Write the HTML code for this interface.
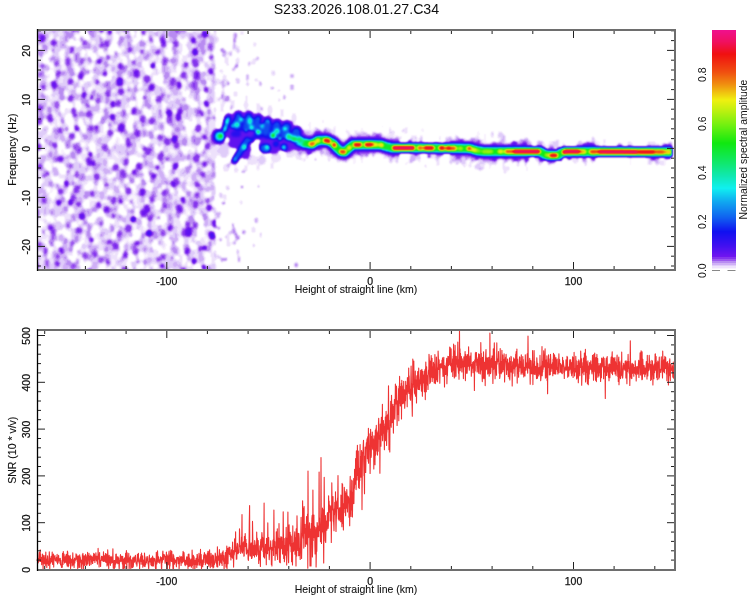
<!DOCTYPE html>
<html><head><meta charset="utf-8"><title>S233.2026.108.01.27.C34</title>
<style>html,body{margin:0;padding:0;background:#fff;width:750px;height:600px;overflow:hidden}</style>
</head><body>
<svg width="750" height="600" viewBox="0 0 750 600" style="display:block;font-family:'Liberation Sans',Arial,Helvetica,sans-serif">
<rect width="750" height="600" fill="#fff"/>
<defs>
<clipPath id="nc"><path d="M32 25H216.5V275H32z"/></clipPath>
<clipPath id="pc"><rect x="37" y="30" width="638" height="240"/></clipPath>
<filter id="cm" x="37" y="30" width="638" height="240" filterUnits="userSpaceOnUse" color-interpolation-filters="sRGB">
<feGaussianBlur stdDeviation="1.25"/>
<feComponentTransfer>
<feFuncR type="discrete" tableValues="1 1 1 1 1 1 1 1 1 1 1 1 1 1 1 1 1 1 1 1 1 1 1 1 1 1 1 1 1 1 1 1 1 1 1 1 1 1 1 1 1 0.973 0.973 0.973 0.973 0.973 0.973 0.973 0.973 0.973 0.973 0.973 0.973 0.973 0.973 0.933 0.933 0.933 0.933 0.933 0.933 0.933 0.933 0.933 0.933 0.878 0.878 0.878 0.878 0.878 0.878 0.878 0.812 0.812 0.812 0.812 0.812 0.812 0.722 0.722 0.722 0.722 0.722 0.722 0.722 0.612 0.612 0.612 0.612 0.612 0.612 0.518 0.518 0.518 0.518 0.518 0.518 0.438 0.431 0.424 0.416 0.409 0.401 0.393 0.385 0.377 0.368 0.36 0.351 0.342 0.333 0.324 0.314 0.305 0.295 0.285 0.275 0.265 0.254 0.245 0.237 0.228 0.219 0.21 0.201 0.192 0.183 0.173 0.164 0.154 0.144 0.134 0.123 0.113 0.102 0.092 0.081 0.07 0.063 0.063 0.063 0.063 0.063 0.063 0.063 0.063 0.063 0.063 0.063 0.063 0.063 0.063 0.063 0.063 0.063 0.063 0.063 0.063 0.063 0.063 0.063 0.063 0.063 0.063 0.063 0.063 0.063 0.063 0.063 0.063 0.063 0.063 0.063 0.063 0.063 0.063 0.063 0.063 0.063 0.063 0.063 0.063 0.063 0.063 0.063 0.063 0.063 0.063 0.063 0.063 0.063 0.063 0.063 0.063 0.063 0.063 0.063 0.063 0.063 0.063 0.063 0.063 0.063 0.063 0.063 0.063 0.088 0.127 0.167 0.207 0.248 0.289 0.331 0.372 0.415 0.457 0.499 0.542 0.585 0.628 0.672 0.716 0.76 0.8 0.84 0.881 0.921 0.941 0.941 0.941 0.941 0.941 0.941 0.941 0.941 0.941 0.941 0.941 0.941 0.941 0.941 0.941 0.941 0.941 0.941 0.941 0.941 0.941 0.941 0.941 0.941 0.941 0.941 0.941 0.941 0.941"/>
<feFuncG type="discrete" tableValues="1 1 1 1 1 1 1 1 1 1 1 1 1 1 1 1 1 1 1 1 1 1 1 1 1 1 1 1 1 1 1 1 1 1 1 1 1 1 1 1 1 0.949 0.949 0.949 0.949 0.949 0.949 0.949 0.949 0.949 0.949 0.949 0.949 0.949 0.949 0.886 0.886 0.886 0.886 0.886 0.886 0.886 0.886 0.886 0.886 0.8 0.8 0.8 0.8 0.8 0.8 0.8 0.69 0.69 0.69 0.69 0.69 0.69 0.549 0.549 0.549 0.549 0.549 0.549 0.549 0.345 0.345 0.345 0.345 0.345 0.345 0.204 0.204 0.204 0.204 0.204 0.204 0.086 0.085 0.084 0.083 0.082 0.081 0.08 0.079 0.078 0.077 0.076 0.075 0.074 0.073 0.072 0.071 0.069 0.068 0.067 0.066 0.064 0.063 0.063 0.063 0.063 0.063 0.063 0.063 0.063 0.063 0.063 0.063 0.063 0.063 0.063 0.063 0.063 0.063 0.063 0.063 0.063 0.07 0.089 0.109 0.128 0.148 0.168 0.188 0.209 0.23 0.251 0.273 0.295 0.317 0.339 0.362 0.383 0.401 0.42 0.438 0.457 0.476 0.496 0.515 0.535 0.555 0.575 0.596 0.617 0.638 0.659 0.685 0.712 0.738 0.765 0.792 0.82 0.847 0.875 0.904 0.933 0.939 0.935 0.932 0.928 0.924 0.921 0.917 0.913 0.91 0.91 0.91 0.91 0.91 0.91 0.91 0.91 0.91 0.91 0.91 0.91 0.91 0.91 0.91 0.91 0.91 0.91 0.91 0.91 0.912 0.915 0.919 0.922 0.925 0.929 0.932 0.936 0.939 0.941 0.941 0.941 0.941 0.941 0.941 0.941 0.941 0.941 0.941 0.941 0.941 0.912 0.857 0.801 0.744 0.687 0.63 0.572 0.521 0.472 0.422 0.371 0.321 0.284 0.25 0.215 0.18 0.145 0.109 0.073 0.063 0.063 0.063 0.063 0.063 0.063 0.063 0.063 0.063 0.063"/>
<feFuncB type="discrete" tableValues="1 1 1 1 1 1 1 1 1 1 1 1 1 1 1 1 1 1 1 1 1 1 1 1 1 1 1 1 1 1 1 1 1 1 1 1 1 1 1 1 1 0.996 0.996 0.996 0.996 0.996 0.996 0.996 0.996 0.996 0.996 0.996 0.996 0.996 0.996 0.988 0.988 0.988 0.988 0.988 0.988 0.988 0.988 0.988 0.988 0.98 0.98 0.98 0.98 0.98 0.98 0.98 0.965 0.965 0.965 0.965 0.965 0.965 0.949 0.949 0.949 0.949 0.949 0.949 0.949 0.941 0.941 0.941 0.941 0.941 0.941 0.933 0.933 0.933 0.933 0.933 0.933 0.941 0.941 0.941 0.941 0.941 0.941 0.941 0.941 0.941 0.941 0.941 0.941 0.941 0.941 0.941 0.941 0.941 0.941 0.941 0.941 0.941 0.941 0.941 0.941 0.941 0.941 0.941 0.941 0.941 0.941 0.941 0.941 0.941 0.941 0.941 0.941 0.941 0.941 0.941 0.941 0.941 0.941 0.941 0.941 0.941 0.941 0.941 0.941 0.941 0.941 0.941 0.941 0.941 0.941 0.941 0.941 0.941 0.941 0.941 0.941 0.941 0.941 0.941 0.941 0.941 0.941 0.941 0.941 0.941 0.941 0.941 0.941 0.941 0.941 0.941 0.941 0.941 0.941 0.941 0.941 0.941 0.922 0.893 0.865 0.836 0.807 0.777 0.748 0.717 0.687 0.656 0.624 0.592 0.559 0.527 0.494 0.46 0.428 0.397 0.366 0.335 0.304 0.272 0.24 0.208 0.175 0.142 0.109 0.075 0.063 0.063 0.063 0.063 0.063 0.063 0.063 0.063 0.063 0.063 0.063 0.063 0.063 0.063 0.063 0.063 0.063 0.063 0.063 0.063 0.063 0.063 0.063 0.063 0.063 0.063 0.063 0.063 0.063 0.063 0.063 0.063 0.063 0.063 0.063 0.063 0.063 0.063 0.063 0.063 0.11 0.178 0.245 0.313 0.38 0.422 0.465 0.508 0.549 0.549"/>
</feComponentTransfer>
<feConvolveMatrix order="3" kernelMatrix="1 2 1 2 8 2 1 2 1" divisor="20" edgeMode="duplicate" preserveAlpha="true"/>
</filter>
</defs>
<g clip-path="url(#pc)"><g filter="url(#cm)" fill="none" stroke-linecap="round"><rect x="27" y="20" width="658" height="260" fill="#000"/><g clip-path="url(#nc)"><g stroke="#333333"><path stroke-width="6" d="M204 270.5l2.3 5.5M188.8 141.3l1.1 3.8M217.8 103.8l.1 1.1"/><path stroke-width="5.5" d="M206.1 117.8l.2 3.2M120.3 156l-2.3 5.4M179.6 122l.3 4.9"/><path stroke-width="4" d="M90.8 41.7l-.3 3.2M142.4 193.3l-.8 5.5"/><path stroke-width="4.5" d="M73.2 65.1l1 4.3M42.7 69l.2 2.7M173.2 147.2l1.1 6.5"/></g><g stroke="#343434"><path stroke-width="6" d="M170.9 231.6l.7 3.5M67.8 246.8l-1.1 5.7M83.3 60.1l1.6 4.8M156 48l0 4.8"/><path stroke-width="5" d="M152.4 143.9l-.6 2.2M63.6 258.2l-.4 1.1"/><path stroke-width="5.5" d="M72.9 144.8l2.1 5.5M95.1 268.9l.8 3.9M33.4 225.7l0 4.2M110.9 232.1l-.6 3.9M146.5 249.5l-1.3 5.8M156.7 232.3l.3 3.9M166.5 108.5l1.6 5.7M106.4 103.9l0 1.7"/><path stroke-width="6.5" d="M141.2 176.4l.6 2.6M175.1 105.2l.1 1.2M204.6 26.3l.4 1.2"/><path stroke-width="4" d="M134.9 119.6l.6 2.7M219.5 55.6l-1.5 6.7M90.7 255.5l-.8 2.7M117.2 151.1l2.9 6.8"/><path stroke-width="3.5" d="M151.4 120.1l.4 3.4M190.7 38.8l1.8 7.9"/><path stroke-width="4.5" d="M173.6 45.6l.5 3.9M112 111.5l1.4 4.9M126.3 174.7l.1 2M132.8 241.1l.8 3M184.4 128.5l2.1 6.7M133.8 193.9l-.2 3.4"/></g><g stroke="#353535"><path stroke-width="6" d="M177 193.5l-.3 5.1M149.1 51.7l2 5.6M69.8 176.8l1 5.4M94.3 167.1l-.1 2.1M111.2 179.9l-.6 1.4M112.1 127.8l.3 4.2M63.2 126.4l-.4 1.3"/><path stroke-width="5" d="M36.1 155.5l.3 6.9M86 244.1l-.8 2.7M181 268.1l-1.3 4.8M114.9 259.9l.2 6.2M166.2 28.5l-.1 5.1M144.2 211.2l.8 4.4"/><path stroke-width="4" d="M114 187.2l-.1 6.5M49.3 75.1l-.2 2M127.5 239.5l.3 2.2M101.1 231.5l-1.3 7.4"/><path stroke-width="5.5" d="M115.9 147.9l-1.7 3.8M51.1 161.1l.4 1.9M157 154.6l-.8 2M94.3 111.3l-.2 1.5M97.9 109.6l.5 2.8"/><path stroke-width="4.5" d="M185.3 210.6l1.4 4.7M204 34.7l.3 2.8M59.5 108.5l.1 3.4M42.2 260.7l1.7 5.6"/><path stroke-width="6.5" d="M44.4 227.8l-.2 .6"/><path stroke-width="3.5" d="M194.1 185.9l1.3 8.1M141.8 122.2l-.6 5M99.3 126.2l-1.3 5.9"/></g><g stroke="#363636"><path stroke-width="5" d="M181.1 227l-.1 5.7M126.8 268.5l.4 5M103.4 172.4l-.7 4.4M47.1 25.4l-1.9 4.2"/><path stroke-width="6.5" d="M99 218.7l.1 1.8M117.1 165.7l0 .3"/><path stroke-width="6" d="M122.7 28.7l-.8 2.3M142.4 228.3l-.8 2.4M42.1 81.9l.2 1.6M206.9 89.8l-.2 1.2M164.6 244.4l-.6 3.2"/><path stroke-width="4.5" d="M197.6 249.3l.3 2.7M35 202.6l1.2 3.5M94.3 78.7l-2.2 5.7M164.1 192.3l-.3 3.6M207.6 97.3l-2.7 6.5M40.7 217.5l.7 2.6M56.6 153.6l1.4 3.8"/><path stroke-width="4" d="M78.7 144.4l.8 2.8M89.9 158.8l-3.1 6.8M168.1 198.5l-1.4 3.1M93 111.7l-.1 4.7"/><path stroke-width="5.5" d="M121 234.9l1.5 4.4M57.2 171.2l.9 2.1M97 234.6l1.4 3.4M173.1 245.1l.1 .7"/></g><g stroke="#373737"><path stroke-width="6.5" d="M94.1 136l.3 4M173.9 134.8l1.1 3.4M41.1 160.9l1.2 3.3M80.8 200.9l0 1.2"/><path stroke-width="4" d="M215.6 211.4l-.4 5.8M191.9 254.3l-.6 7.5M191.3 229.5l-.6 2.4M106.1 268.1l1.3 7M193.9 215.5l-1.6 4.1M88.4 93.9l.5 5.4M53.3 128.5l-1.2 5.9M137.1 103.7l-2.1 6.4"/><path stroke-width="6" d="M126.5 91.3l-.5 3.3M57.3 55.1l2.3 5.3M40.7 60.2l-1.2 3.2M117.6 139.1l-1 5"/><path stroke-width="5" d="M197.2 179.4l.4 3.9M76.9 125.3l1.7 4.8M159.1 176.5l1.6 6.3M42 55.3l-1.4 3.7"/><path stroke-width="4.5" d="M121.1 193.4l-1 3.4M166.4 43.6l.1 4.7M53 186.6l-1.5 4.7M67.6 97.1l1.7 5.2M121.5 60.1l.9 6.2M109 117.9l-1.7 3.9M149.8 61.9l.1 2.7M103.5 223.8l-1.2 2.6"/><path stroke-width="5.5" d="M99.3 171.7l2.4 5.5M81.3 97.3l-0 2.2"/><path stroke-width="3.5" d="M77.5 122.5l.9 5.7"/></g><g stroke="#383838"><path stroke-width="6.5" d="M97 86.5l-.4 1"/><path stroke-width="5" d="M202.5 238.1l2.2 6.4M160.6 161.5l-.3 1.1M154.5 191.7l-.6 3.9M169.4 254.6l.3 1.5M116 196.8l-1.6 4.5M112 184.8l-1.2 3.7M215.6 265l-.6 2"/><path stroke-width="4" d="M104.6 114.5l-.5 2.9M164.1 127.7l-1.4 6M131.1 65.7l1 2.6M102.5 131.9l.5 7.8M89.7 62.7l-.3 2.6M62.3 150.3l2.4 5.5M131.6 225.6l1.4 3.9M191.6 138.7l.8 5.5"/><path stroke-width="4.5" d="M49.8 222.6l1.1 4.4M186.3 56.3l-.3 7.4M134 266l-1.3 5.6M67.6 126.2l-1.4 6.2M163.2 62.9l.2 1.7M198.1 202.9l.1 1.5M152.8 129.4l-.1 4.7M72.8 48.4l1.4 4.6M152.5 73.1l-.6 3.1M85.7 100.4l2.6 6.5M53.7 260l.8 4M96.8 53.1l3 6.6M128.4 227.3l-.4 2.1"/><path stroke-width="5.5" d="M86.6 142.4l.2 4.1M39.4 172l.7 5.9M57.7 76.4l2.4 5.4M213.4 60.8l-.5 2.7M44.1 103.9l-.4 4.1M102.2 60.4l-1.5 5M68.4 227.7l-.3 2M46 108.6l.3 6M170 146l-1.8 6.1M35.9 264.3l1.2 5.9M173.5 94.5l.8 2.9"/><path stroke-width="6" d="M72.6 203.4l.2 2.1M126.4 256.2l-.1 3.7M75.2 83.4l-.3 3.3M48.6 45.3l.3 1.1"/><path stroke-width="3.5" d="M117.5 64.1l.6 8.1"/></g><g stroke="#393939"><path stroke-width="6.5" d="M137.1 244.5l.5 3.7M36 223.7l.9 2.9"/><path stroke-width="4" d="M140.1 201.6l-2.5 6M120.9 41.9l-.3 6M143.9 269.7l.8 3.8"/><path stroke-width="5.5" d="M210.7 270.2l0 1M80.7 213.1l.1 5.6M108.6 236.7l.5 1.1M127.2 184.8l.3 1.4M124.2 39.9l-.2 1.3M53.8 208l.4 2.4M215.7 30.9l-.1 1.2M159.9 165.6l-.9 3.5M96.3 185.9l-1.5 4.5M180.4 211.7l-.5 2.5"/><path stroke-width="5" d="M218.3 72.5l1.1 5.8M61.6 267.5l-.5 3.2M210.9 201l-.6 3.4M95.1 205l.3 1.3"/><path stroke-width="6" d="M81.6 154.2l1.4 4.1M180.6 182.6l.2 .6M199 125.1l1.2 3.8M154.6 235.9l-.4 1.9M183.6 156.1h0M159.4 194.2l-1.4 4.7M33.8 49.1l-.5 2.2M174.7 210.1l1.8 5.2M57.2 196.7l-.6 5.1"/><path stroke-width="4.5" d="M43.6 189l-.7 2M55.1 94.9l-2.5 5.8M45.6 136l1.2 5.5M123.6 72.6l-1.5 3.7M58.5 256.7l-.2 1.9M151 62.6l1.8 5.6"/><path stroke-width="3.5" d="M135.7 185.7l.7 5.6"/></g><g stroke="#3a3a3a"><path stroke-width="4.5" d="M200.5 60.2l-.5 2.3M33.6 181.7l-.6 1.6M142.1 130l-1.4 4.1M55.9 119.1l.5 7M208.5 157.3l-1.7 4M102.2 195.1l-1.8 3.9M197 41.9l1.8 6.1"/><path stroke-width="5" d="M71.2 24.1l.2 5.8M35.5 130.3l-1.4 5.2M194.1 68.2l1.1 2.9M207.7 31.1l1.5 3.3M168 103.7l1.4 3.7M204.2 249.5l-.7 3.3M161.3 263.9l2.6 5.7"/><path stroke-width="6" d="M158.7 269.4l-.3 3.3M95 27.8l-.7 4.7M84.1 156.3l1.9 5.2M101.3 142.4l.5 2.9M56.7 108.5l.5 5.8M139.4 26.7l-.4 1.2M122.7 128.9l-.9 4.6M108.4 234.5l-1.1 3.2"/><path stroke-width="3.5" d="M182.3 44.4l-.8 4.2M78.6 219.4l-.9 4M212.6 153l1.4 6.3"/><path stroke-width="5.5" d="M137.8 155.1l.1 .4M154.4 227.3l-1 3.1M128 243l.8 2.5M156 86.3l-.8 2.6M102.8 246.4l-.6 2M75.8 55.1l-1.3 3.9M162.6 156.8l.6 4.1M83.6 105.1l-1.7 4.4M197.8 114.4l0 5.7"/><path stroke-width="6.5" d="M170.1 172.2l1.5 4.2"/><path stroke-width="4" d="M217.9 182.7l-.2 7M93 78.4l.7 2.2M150.3 44.1l.7 5.2M153.1 110.3l-.3 5.6"/></g><g stroke="#3b3b3b"><path stroke-width="4.5" d="M114.7 86.8l-.4 1.3M66.6 190.7l-.7 2.2M107 157l-2.1 7.2M64.9 114l-.8 2.1M152.4 174.2l1.6 4.9M211.5 232.8l.7 2.6M68.9 47.3l1 2.6"/><path stroke-width="4" d="M211.1 36.9l-.9 3.3M49.9 83l-2.8 7M117.7 197l-1.6 5M64.1 200.7l-1.1 4M86.8 86.1l.7 7.3M128.2 74.5l-.2 3.9M153.8 219.7l1.2 6.8"/><path stroke-width="5" d="M114.5 156.7l1.5 5.5M86.8 234.7l-1 5.6M116.3 271.5l.7 1.9M124.6 134l-.5 4.5M87.6 210.3l0 2.2"/><path stroke-width="3.5" d="M73 70.3l1.5 5.1M92.7 170.8l-.9 5.1M55.4 246.1l-1.3 4.6"/><path stroke-width="5.5" d="M117.9 54.5l.5 3.6M213.2 83.5l-1.3 3.8M124.4 263.4l-0 .7M121.9 228.5l.1 2.3M104.7 187.5l0 .4M216.1 82.3l-1.1 4.5"/><path stroke-width="6" d="M149.2 242.4l.4 5.2M41 243.6l-.3 .6M91.1 202.6l.6 2.7"/><path stroke-width="6.5" d="M199 122.7l-.7 4.1"/></g><g stroke="#3c3c3c"><path stroke-width="6" d="M152.3 180.2l.8 2M174.7 70.7l.1 .6M99.9 101l-.1 .5"/><path stroke-width="5.5" d="M216.3 37l.7 2.2M35.7 191.8l-.2 1.3M38 165.8l.1 2.5M209.4 107.9l0 2.6M169.9 198.8l.2 1.6M154.2 212.6l-.1 .9M186.8 64.9l2.1 5.5M184.1 114.8l.2 .9M140.4 155l.3 .8M191 119.6l-.2 .7"/><path stroke-width="4" d="M167.9 136.6l1.1 6M163.4 237.1l-1.4 3.7M143.9 160.4l3.2 7.2M200.7 204.1l2 4.6"/><path stroke-width="5" d="M155.3 139.5l1.2 3M126.7 142.9l.7 5.8M201.6 79.5l.2 5.5M50.1 231.4l1.3 3.9M110.7 224.3l-.1 3.9M195.7 143.1l-1.6 3.5M48 194.4l.2 6.5M157 251.2l-2.3 5.1M179.1 85.3l.3 1.7"/><path stroke-width="4.5" d="M170.2 71.3l-1.1 2.9M177.7 235.1l-.1 5.6M53.9 69.2l.6 1.6M109.6 203.3l-.4 2.6M158.7 118.6l-.7 4.4M153.8 46.3l1.1 4.5"/><path stroke-width="3.5" d="M133 50.2l2.2 6.3"/><path stroke-width="9.5" d="M187.7 250.2l-.5 1.9M70.7 81.3l-.3 1M129.7 49.8h0M53.3 231.3l.1 1.5M106.8 42.8l0 1.8M98.2 100.5l-.1 .3M162.3 39.2l.5 1.9M134.1 110.3l-.3 1.8M39.6 120l-.5 2.2M178.5 115.4l-.2 2.8M128.4 143.2l.6 1.6M71 97.8l-.5 1.2M118.5 102.5l-.3 1.8M114.1 199.2l-.7 2.6M195.1 51.3l.2 1.5M176.4 180.3l.5 2.6M73.4 25.8l.5 2.3M164.8 205.9h0M195.3 224.7l-.3 1.5M107.7 93.4l.1 1M38.8 146.3l0 1.8M77.7 26.1l-.6 1.4M197 184.2l.1 .3M210.6 45.9l-.4 1.6M162.8 232.1l.3 1.8M180 110.7l-0 .8M126.2 160.8l-.6 2.5M80.9 74.8l-.2 2.3M160 137.2l0 .5"/><path stroke-width="10.5" d="M215 222.6l.6 2.2M185 231l-.5 2.7M115.7 167.2l-.1 .6M125 270l-.1 .5M81.9 216.2l.1 .2M136.3 72.5l.1 1.8M88.9 113.8l-.2 .5M169.9 118.3l-.3 2.3M152 120.7l-.2 .5M40.5 107.9l-.1 .3M104.7 147.1l.3 1.1M119.8 80.5l-.3 2.5M194.8 61.5l.9 2.6M60.6 158.8l-0 .2M33.2 129.6l0 .2M194.5 83.7l-.1 2.9M196.7 73.6l-.1 3.3M122.6 172.2l1 2.9M178.9 207.5l1 2.5M139.1 165.9l.2 1.1M121.5 126.6l-.1 1.9M173 80.5l-.6 2.8M146.7 207.7l.5 2.2M189.1 230.5l-.6 3.1M128.5 227.7l-.2 1.3M143 212.6l.6 1.4M159 99.1l-.2 .7"/><path stroke-width="10" d="M211.8 234.5l.3 1.9M94.5 253.1l.5 1.6M126.2 27.4l.3 1.9M88.8 160.2l.7 2.8M60.2 130.2l-.2 .8M207.7 145.8l-.1 .8M73.5 266l-.1 .8M79.3 149.5l-.5 1.4M85.1 255.1l.3 1.3M165.5 60.2l-.9 2.3M161.1 155.4l-.8 2.4M148.7 150.3l-.7 1.7M40 166.7h0M71.9 135.8l.2 .7M197.2 195l-.2 .5M34.6 211.5l.8 2.8M198.4 127.8l-.4 1.4M142.8 118.2l-.2 1.9M183.7 74.7l-.2 .6M176.2 144.1l.4 2M60.8 191.6l0 .1M53.8 83.7l.4 2M110.3 132.6l-0 .8M78.4 230.2l0 .1M195.8 158.5l.2 1M151.6 87.1l-.2 .8M169.3 112.9l.2 .6M204.7 33.6l.3 1.3M183.7 270.3l.4 .9M146.9 78.4l.3 1.6M77.1 188.1l-.8 2.3M149 233.2l.1 .3M53.7 42.7l-.1 .3M33.5 74.9l0 .1M35.2 264.2l.2 1.9M106.6 208.9l-0 1.3M121 91.2l0 1M42.5 37.2l-.2 2.4M136.1 250.6l-.5 1.5M44.2 200.2l0 .7M128.4 190.5l-0 .9M167 140.9l.1 1.6M96.8 176l.2 1.6M195.8 203.4l-.3 1.6M164.6 192.9l-.1 .4M142.6 191.1l-.3 2.2M68 60.6l-0 2.5M175.9 43.3l.1 .8M209.2 207.6l-.2 .6M49.4 117.2l.9 2.2M115.7 245.6l.1 1.2M137.2 132.5l.4 1.7"/><path stroke-width="8.5" d="M72.4 242.6l-.7 1.8M76.7 127.9l.4 1.1M193.2 39.4l.4 2M112.8 103.3l-.1 2.1M133.7 62.6l.2 .6M102 44.3l-.5 1.6M45.6 249.8l-.3 2.1M162.2 265.9l0 .1M43.2 86.9l.3 1M187.7 223.8l-.1 1.5M67.9 225.1l.1 1.2M97.2 81.6l.2 .9M134.2 171.7l-.4 .9M76.9 173.6l.1 2.1M200.6 248.2l-.3 .7M91.3 239.7l0 .5M66.4 182.4l.3 1.8M194.1 260.3l-.1 1.7M136.8 243.1l.2 .4M207.5 200.3l.1 1M206.1 102.9l.7 1.9M39.3 243.7l.4 1.2M91.5 127.4l-.3 2M157.4 167.3l.1 .5M34.6 51.7l-0 .9M109.8 31.4l-.2 1.3M203.2 174.1l-.3 1.1M157.4 52.1l-.3 .7M211.5 56.8l-.3 .7M182.7 199.1l.8 2M186 64.2l0 1.2M93.4 162.4l-0 1.9M42.4 65.9l.1 .5M176.6 30.7l0 .2M113.4 215.8l.1 .2M205.9 88.9l.3 1.4M58.7 202.4l.2 .7M92.6 192.9l-.4 1.9M107.6 261.1l.6 2M109.6 241.5l.1 .8M96.5 127.5h0M152.8 65.7l-.1 .3M108.2 57.1l-.2 .6"/><path stroke-width="9" d="M100.8 259l-.2 1.7M89.3 271.1l.4 1.1M172.9 183.4l.5 1.2M163.8 42.5l-.3 2.5M120.4 65.6l.1 1.5M209.7 121.9l-.3 2.4M57.3 263.4l.1 .7M149.8 218.4l.1 .3M158.6 259.2l.1 .3M99.2 61.5h0M58.6 72.6l-.5 1.8M56.8 103.7l.3 2.3M54.6 144.9l.3 1.4M199.3 111.2l0 .6M170.5 227l-.6 1.8M112.6 116.5l.1 1.5M154.1 175.8l-.2 .5M162.8 256.1l.4 1.7M50.8 227.4l.1 .7M178.9 84l.4 2.2M119.7 233.1l-.5 1.8M56.5 63l.2 1.3M70.9 201.6l-.4 1.5M204.6 163.8l-.1 .8M98.5 204.5l.2 1.3M35.9 215.1l-.3 1.4M125.4 254.3l-.1 1.7M71.9 48.8l-.4 2.2M204.5 137l.1 .2M151.8 198.2l.3 2.3M73.2 196.8l-.2 .9M175 138l-.7 1.7M141 273.3h0M84.3 94.3l-.6 1.6M133.4 219l-.1 .7M84.8 42.5l-.2 .7M210.5 70.5l.6 1.7M73.7 110.3l-.3 1.1M175.9 165.2l-.8 1.9M157.9 272.7l-.6 1.5M57.7 256.2l.2 .6M61 249.6l.7 1.9M78.7 203.9l-0 .7M104.7 73.7h0"/><path stroke-width="8" d="M71.2 165.8l-0 .4M204.4 247.4l.2 .9M106.4 184.7l-.1 .5M58.1 26.5l-.6 1.7M143.5 31.5l-.1 1.6M120.4 200.9l.3 1M87.8 106l0 .5M74.8 114l-.2 1.9M203.6 266.7l.5 1.3M44.1 175.4l-.1 .5M144.5 148.4l.3 .9M201.9 112.9l.2 1.5M142.1 51.4l-0 .6M82 60.3l-.4 2.1M167.2 158.4l-.1 .9M128 139.7l-.1 1.1M90.4 153.9l-.1 .7M151 39.6l.4 1.1M91.9 97.1l-.1 1M144.9 97.5l-.1 .3M162.7 95.1l-.7 1.7M47.6 173.4l-.2 .5M101.2 28.9l.4 1.8M74.5 146l.5 1.9M198.2 156.2l-0 .3M101.4 222.8l-.5 1.3"/></g><g stroke="#3d3d3d"><path stroke-width="5.5" d="M160.8 32.2l.8 5.8M77.5 116.8l-.1 .4M157.5 57.9l-1.2 3.5M197 30.1l-.6 3.2M175.9 52.4l1.4 4.8M100.7 222.4l0 6.4M97.3 143.2l-.4 5.4M163.6 65.1l0 1.8M120.7 264.6l-.2 .6"/><path stroke-width="5" d="M36.2 242.6l-1.8 5.8M81.4 140l-.2 1.3M54.9 252.3l-2.3 5.7M42.1 203.9l.7 6.3M219 53.7l.3 1M191.8 258.2l1.1 3.8M221.2 121.7l-1.1 3.5M120.9 185l.1 1M156.5 112l-1.1 3.9"/><path stroke-width="4" d="M194.3 85.8l1.7 8M57.6 82.4l-1.8 5.2M68.2 160l-1 3.6M86.6 52.6l-1 3.8M205.1 231.5l2.6 6.1M74.8 152.3l-1.4 3.4"/><path stroke-width="4.5" d="M65 124.1l-1 4.4M134.2 131.2l0 5.7M132.1 176.8l.6 4.2M136.8 167.6l-.8 2.5"/><path stroke-width="6" d="M188.5 268.8l-1.8 5.3M178.3 221.9l1.1 3.5M134.1 76.2l.5 4.7"/><path stroke-width="6.5" d="M179.9 172.5l.6 2.7"/><path stroke-width="3.5" d="M149.7 253.7l.4 3M191.8 266.4l.4 3.6"/></g><g stroke="#3e3e3e"><path stroke-width="5" d="M168.2 76l-1.3 4.7M107.1 38.8l.3 4.5M110.4 251l1.6 5.7M167.5 254.5l.2 2.7M66.5 109.2l.2 3.5M128.5 82.9l-.1 3.3M213.2 124.1l.2 6M72.6 243.6l-1.9 4.8"/><path stroke-width="4.5" d="M70.4 250.1l1.2 4.8M119.1 113.7l-1.2 7M141.6 244.4l-.1 5.8M93.7 202.1l.2 2.5"/><path stroke-width="5.5" d="M127.1 104.1l.2 2M90.8 35l1.2 4.4M84.5 26.9l1.2 2.9M125.9 206.1l-.6 1.3M133.1 216.9l1.4 5.6M151.2 272.5l.1 .6M205 160.4l1.1 5.8"/><path stroke-width="4" d="M88.8 213.4l-2.1 5.2M34.2 218.6l.1 2.2M183.5 56.2l-1 7.1M198.8 74l2.2 6M214.8 233.3l-.4 7.4M82 37.5l-1.6 3.7"/><path stroke-width="3.5" d="M138 162l.2 3.2M50.8 177.8l-1.5 6M82.5 115.1l2.4 6.8"/><path stroke-width="6" d="M212.7 255.1l1 3.5M139.6 197.6l-1.3 4.2M42.4 95.6l.2-0M190.4 96l.2 .6M189.8 207.1l.3 1.5M99.2 244.2l1.4 3.8M100.7 87.5l1.8 5M189.6 151.9l1.2 2.7M67 215.6l-.5 3.9"/><path stroke-width="6.5" d="M110.7 35.6l.4 1.9M186.2 175l-.1 2.8M157.2 107.1l1.2 5.5M147.6 155.5l-.6 4.8"/></g><g stroke="#3f3f3f"><path stroke-width="5.5" d="M167.4 179.2l-.3 1.1M124.7 128.2l-1.1 6.3M212.3 170.3l-.3 5.5M156.2 72.9l-.1 1.2M111.8 155.8l-.8 1.8M86.2 180l-.4 2.8M186 74.9l.1 1.7M193.2 131.7l1.8 5M147.1 78.6l-.1 5.2M171.8 31.6l.5 1.9M126 168.7l-1.1 2.8M214.2 42.2l.5 4.8"/><path stroke-width="4" d="M178.3 252.5l-.1 2.6M140.9 223.8l.6 3.4M195.6 53.4l-1 3.4M61.1 28.6l-2.5 7.5M63.9 201.7l2.5 5.6M65.5 27.7l-2.2 5.5M109.7 29.4l-.1 2.6M128 114.8l0 3.2"/><path stroke-width="5" d="M206.3 214.9l-.4 1.4M168.8 228.7l-.8 4.1M101.7 126l-0 4.5M55.4 54.3l-0 4M61.8 175.8l-.8 1.7M123.1 154.3l1.8 6M202 241.1l-1.1 5.6M105.3 82.8l-0 1.7M145.7 241.1l.4 1.3"/><path stroke-width="6.5" d="M147.8 89.5l2 5.1M69.9 62.9l.4 1.8"/><path stroke-width="6" d="M124.6 160.1l1.7 4.7M212.3 136.2l-.8 2.4M153.7 212.3l.4 4M184.1 31.8l1 3.1M46.3 178.6l.3 3.1M218 135.4l-.1 .9M124.8 67.9l1.3 3.9M52.6 119.5l-1.5 3.5"/><path stroke-width="4.5" d="M179.7 104.4l.1 3.7M109.4 106.8l.1 1.8M191.5 181.6l-.8 4.1M115.7 98.4l2 5.2M76.3 93.6l.2 3.7M98.1 62.5l1 4.1M73.2 195.5l-.6 2.6"/></g><g stroke="#404040"><path stroke-width="6" d="M157.9 211.4l-0 .2M88.6 167.5l-.4 1M125.4 118.8l-1.4 5.1M91.8 191l1.3 5.3M138.8 167.4l.5 3.7M168.2 211.5l-.1 2.9M117.5 220.3l-1.1 5M74.9 47.9l.3 1.1"/><path stroke-width="4.5" d="M168.6 153.7l.6 7.1M56.9 141.8l-.6 7.3M70.1 133.8l1.6 4.6M153.9 258.1l.2 5.3M210.7 46.8l-.7 2.6M181.1 256.6l-.7 7.6M203.2 194.4l-.7 6.8M193.5 79.5l.4 5.8"/><path stroke-width="5.5" d="M62.7 247.7l-.7 4.8M134 146.6l2.5 5.6M214.7 94.1l.3 2M51.9 264.6l1.1 4.2"/><path stroke-width="4" d="M98.3 38.6l.6 6.4M54.8 215.8l.2 4.2M95.1 90.7l1.6 4.2M106.8 31.1l-.2 4.7M111.8 64.6l-0 3.1M181.4 48.7l-.8 4.4M74 103.5l.3 3.2M150.9 169.5l2.4 7.1M186.3 263.3l-.3 3.2M146.6 262.3l-1.7 6.1"/><path stroke-width="5" d="M45.5 235.7l-.7 2.7M66.5 141.6l-.6 3.2M46.4 39.6l1.9 4.3M46.8 48.8l-.4 3.8"/><path stroke-width="3.5" d="M70.3 171l-.6 3.1M94.1 257.3l-.8 2.7"/><path stroke-width="6.5" d="M37.4 33.4l.2 1.1M191.7 111l-.3 3.5"/></g><g stroke="#414141"><path stroke-width="6.5" d="M105.1 256.8l.5 3.1M50.5 154.6l-.3 3.1M206.7 216.1l.8 4.2M47.1 178.9l-1.6 4.7"/><path stroke-width="5" d="M211.8 123.6l.6 4.9M61.1 66.5l-1.5 3.5M192.5 154.6l-2 6.5M62.6 187.1l.9 4.5M172.9 219.7l-.1 4M151.3 103.6l1.9 5.5M142.8 68.6l.8 4.8M186.1 220.6l-.4 1.5"/><path stroke-width="4.5" d="M134.9 134l-0 4.8M192.4 220.1l2.6 6.2M35 122l1.3 3.2M66 253.8l.8 6M68.7 89l0 3M208.9 204.9l1.7 5M67.6 266.6l.3 2.7M205.4 180.5l.4 4.4M143.3 82.4l1.4 4.1M160.7 241.7l.7 3M217.9 256.7l-.8 2.6M212 244.5l-1.1 2.9M40.3 237.6l-1.8 4.5M64.2 237.3l-1.8 5"/><path stroke-width="6" d="M104.6 205l-.6 4.2M43 130.6l-1.2 5.3M37.8 90.4l.5 3M40.9 121.4l.3 1.5M121.6 145.7l.4 1.8M178.6 147.8l.5 1.4"/><path stroke-width="4" d="M212.9 262l-2 5.8"/><path stroke-width="3.5" d="M45.6 144.9l0 5.4M148.2 95l1.4 4.6"/><path stroke-width="5.5" d="M98.4 123.7l-1.4 5.3M60.1 95l-1.4 3.6M89.9 30l.7 3.1M205.8 63.3l.6 3M156.1 69l1 4.6M50.9 147.4l-.2 1.1M82.5 186.4l.1 4.1"/></g><g stroke="#424242"><path stroke-width="5" d="M102.1 68.4l1 5M33.2 27l1.6 5.8M150.2 27.3l2.7 5.9M43.4 264.8l-.3 5M194.1 251.5l.2 2.6M176.7 236.7l-.5 1.5M202.8 262.5l.2 1.7M92.7 248.7l1.2 2.6M100.3 159.1l-.3 1.8"/><path stroke-width="5.5" d="M137.9 44.8l-.3 5.8M211 113.8l-.4 6.1M201.1 174.4l.8 5M206.7 152.3l-.7 4.3M51.4 233.6l-.8 5.8M39.8 199l0 5.8M47.3 96.6l.7 3.7M78.6 177.8l1.7 3.7M208.2 171.5l-1.6 4.9M85.1 84.1l-0 3M176 81l.2 2.2M82.3 229.9l-.9 2.7"/><path stroke-width="4.5" d="M182.7 136.1l-.7 6.9M118.7 88.3l-1.8 5.1M186.9 83.1l1.1 5M76.5 155.6l.1 5.4M102.6 152l.2 3.3M72.8 269.5l.1 4M149.9 201.4l1 2.9M110.1 90.2l1 6.5"/><path stroke-width="4" d="M182.8 99.8l-1.7 6.6M206.5 146.7l.3 3M135.8 30.4l-.5 6.8M97.3 251.1l-2.9 7.2M143.9 47.7l1.2 5.1M117.4 251.3l-1.4 5.8M85.7 270.9l-.4 2.6"/><path stroke-width="3.5" d="M151.5 131.5l-0 7.5M207.6 75.3l1.8 4.1"/><path stroke-width="6" d="M49.2 181.6l-.8 3.7M215.9 210.4l.1 .4M174.4 117.3l.6 2M73.4 235.8l-.6 4.8M218.3 173.6l-.1 .8M180.1 92.9l-.2 1.7M162 180.3l1.2 2.6M185.8 168l-1.9 4.6M59 158.1l1.6 3.7M96.7 193.8l-1.1 3M192.5 211.7l.2 .8M165.4 149.4l.1 .6M198.9 57.7l-.3 2.3M73.7 31l-.8 2.4M175.4 188.2l.6 2.5M147.9 53.7l1 2.3M116.1 53l.7 2.4M33.5 236.6l.7 1.5M50.2 58.5l.8 2M209 100.4l-.1 .8M114.6 179l-.1 1.8M129.1 175.6l.4 .9M50.7 115l.1 .5M176.4 239l.3 .8M123.9 29.6l.1 .6M78.1 30.1l0 2M97.1 192.3l-.2 .8M144.4 147.5l-.1 .6M114.8 121.9l.1 .8M136 59.2l-1 2.2M156.2 123.1l-.3 .9M43.4 184.3l.2 .5M136.4 121.9l0 .4M91.1 156.5l-.7 2.4M109.9 124l0 1.9M78.3 266.7l.6 2.5M75 85.6l-0 2.3M36.6 97.4l-.2 1.2M176 201.5l-.5 1.8M218.3 224.7l-.4 1.4M121.3 132.1l.2 1M59.7 113.8l.3 1.4M137.5 166.4l-0 2.2M68.4 62.7l-.7 2.3M178.7 133.7l-.1 2.5M180.2 265.4l-.1 2.6M145.9 213.4l.8 1.9M87.6 148.6l-.3 .6M46.1 140.2l-.1 .8M164 57.7l-.8 2.4M173.1 171l.5 1.8M112.9 249.4l0 .9M198.2 242.5l-.5 1.1M83.4 87.9l.2 2M133.4 79.7l.2 2.7M89.5 192.7l-.5 1.6M156.4 33.7l.4 1.1M207.1 144.2l.3 2M145.9 90.6l.1 2.2M118.5 113.1l-.9 2.2M144.8 207.6l.2 .5M209.7 242.9l.6 1.7M44.9 170.4l.5 2M168.9 95.6l-.4 2M115.8 93.7l.1 2.4M97.2 60.9l-.9 2.3M168.5 67.9l.3 1.9M211.5 57.9l.3 1.3M104.9 145.1l.1 1.9M140 111.4l.2 1.4M203.1 258.1l-.3 1.9M105.5 48.2l.8 1.8M51 142l-.5 2M122 201l-.2 1.7M118.3 261.8l.2 1.2M122.1 160l0 1.1M131.1 40.1l.2 .7M181.3 75.3l-.5 1.3M44.3 191.1l.6 2.4M158.7 217.5l0 .6M40.1 247.4l-.6 2.4M49.5 143.2l.8 1.7M56.2 151.5l-.1 2.3M129.2 43l.2 2M66.2 164.2l.4 1.6M123.9 80.9l-.5 2.2M80.1 185.1l.7 2.1M100.9 38.6l-.1 1.9M143 192.2l-.5 2.5"/><path stroke-width="6.5" d="M142.9 33.8l.1 .3M207.3 139.5l-.2 .4M61.8 137.3l.3 1.8M170 122.4l-.3 1.3M201.3 273.1l-.2 .9M88.3 83.3l.7 2M154.5 115.8l.8 2.3M165.1 75.9l.5 1.6M120 272.2l.1 .7M130.3 233.8l.5 1.4M45 213.8l.1 .4M167.2 189.8l.6 2M202.1 201.1l-.4 2.4M158.3 99.1l-.6 2.6M38.3 265.9l.4 .8M111.9 185.2l.2 .6M132.6 69.7l.2 .6M68.2 171.7l-.2 .9M125.2 185.7l.7 2.2M79.2 63.3l.5 1.6M144.9 84.3l.4 1M110.5 39.7l-.2 1.1M204 73.3l-.7 2.3M196.9 114.3l.3 1.2M118.4 128.9l-.4 1.3M39.1 245l-.1 .8M188.3 44.6l.9 2.6M138.3 261l-.3 1.2M164.5 28.2l-.2 2M173.4 240.9l.1 2.8M57.3 185.2l.8 2.6M162.1 152l-.1 .7M83.6 59.2l0 1M172.1 257.7l.1 .4M83.6 246l-0 .9M122.3 258.3l-.3 1.7M149.9 78.6l.4 1M109.8 28.5l-.5 1.4M101.9 234.1l-.4 1.8M34 141.7l.3 2.2M72.9 192.8l-.4 1.3M194.5 232.4l.8 2.5M159 262.2l.8 2.5M150.2 37.5l0 .5M171 237.9l-.1 .4M165.6 80.6l-.8 1.8M181.1 105.5l.4 1.1M203.8 175.9l.1 1M83.2 210.6l-.2 2.2M175.5 228.2l-.4 .9M144.4 77.5l.4 .8M66 239.8l-.8 2.9M109.2 197.1l-.6 1.8M206.2 64.5l.4 .9M134.9 270.3l.3 .9M124.5 219.1l-.6 1.5M183.9 99.1l.1 1M37.3 140l.3 1.5M151.1 249.3l.7 1.9M215.7 240.8l1.1 2.7M159.9 226.6l-.7 3M159.9 185.2l-.3 1M106.8 137.8l.4 2.7M55.2 209.4l.1 .9M185 245.6l0 2.7M199.3 25.8l-.4 1.6M185 139.3l-.1 .6M186.2 76.7l-.1 2.4M111.9 226.9l.7 2.4M144.9 261.2l.2 1.7M92.4 209.4l0 .5M131.1 201.3l0 .8M192 91.2l.1 1.3M201.6 59.1l-.1 .6M139.8 64.1l-.2 1.3M81.9 100l.8 2.1M130.1 227.7l.2 .5M67.6 156.8l-.3 1.6M70.3 168.4l-1 2.3M99.1 154.7l-1.1 2.5M205.5 224.7l.2 .5M162.3 209.1l.1 2.4M36 175.7l.7 2.7M94.9 68.7l-.3 2.5M65.5 185.3l.6 2.4M212.6 197l-.3 2.4M149.3 98.8l-.2 .6M102.8 259.2l-0 .4M40.2 50.9l.2 2.3M143.5 123.4l-.7 2.2M129 210.6l-.1 .7M53.1 49.7l.4 1.1M115.5 208.1l-.4 1.2M41.7 83.1l-.7 2.3M193.5 226.5l-.6 1.6M57.6 76.7l-.8 2.6M216.9 236.8l-.2 1.5M151.5 268.8l-.3 2.2M91.4 249.4l.3 2.1M64.9 87l.2 1.4M93.8 265.5l-1.2 2.6M111.7 230.2l0 .5M75.7 113.2l.6 1.6M70.4 269.9l.2 .9M154 63l-.3 .9M149.2 224.5l.2 1.6M187.7 233.4l.5 2.6M161.5 160.4l1 2.3M190.5 204.1l-.2 1.1M175.7 233.6l.4 3M72.8 182.9l-.2 1.1M213.8 65.5l.7 2.3M210.6 175.7l.9 2.1M148.9 90l-0 1.2M149.6 105.6l-.6 2.2M36.7 216l-.5 2M134.3 26.8l.7 1.8M77.5 261.9l0 .9M43.3 230.9l.2 1.8M56.9 109.3l-.4 1.7M81.5 38.4l.3 1.2M128.6 98.9l-.4 1.3M150.7 239.1l.4 2.3M185.3 66.7l.1 .4M107.4 58l-.2 1.1M119.1 43l.7 2M160.1 110.5l-.3 1.6M105.2 70.3l.4 2.3M153.2 84.3l.6 1.8M60.7 225.5l.2 1.6M77.7 115.6l0 1.2M214.1 75l-.1 .7M35.2 223.4l-.6 1.9M48.4 267.9l.3 2.8M170 158.9l-.1 .5M132.8 217.7l-.8 2.2M114.2 85.3l-.8 1.7"/><path stroke-width="7" d="M89 225.4l.3 3.2M130 72.7l.7 2.8M69.9 50.4l-.4 1.5M166.4 181.9l.7 1.6M35.4 168.5l-.4 1.4M100.9 218.8l.7 2M89.5 177.8l-.1 .6M160.6 115.1l0 1.7M173.9 48.2l-.2 1M118.2 30.4l-.1 1.4M96.2 27.3l-.4 3.2M128.2 138.2l-.3 3M172.9 59.7l-.2 1.9M173.6 134.4l.6 2.1M122 178.8l-.3 2.8M180.4 209l0 .5M170.4 140.5l-.8 2.3M107.3 242.2l.1 1.1M49.1 108.6l.5 2.6M86.6 168.6l-.2 1.4M34.2 128.3l-.2 2.7M190.3 165.8l.4 1.4M77.4 84l-.1 1.1M74.7 197.9l.8 2.7M209 111.4l-0 1.2M187.2 246.2l-1.1 3.2M62.2 119.6l.6 2.5M90.1 246l-.1 1M175.2 35.5l-0 2.7M45.8 253.9l-.5 1.8M101.5 58.3l.1 1.5M133.3 150.6l-1.1 2.3M33.5 150.7l0 2.2M163.8 179l-.8 3.2M172.2 38.4l-1 2.4M53.2 57.6l-.4 1.1M100.3 96.2l.1 2.1M82.8 175l1.2 2.9M160.6 233.5l-0 .9M183.7 127.8l-.2 .7M200 253.4l.6 1.9M84.5 135.8l.9 2.5M123.1 121.4l.9 3M161.3 89.1l-.2 1.2M126.2 250.2l-.4 2M80.4 198.5l.9 2.2M208.5 267.5l1.1 2.6M54 88.9l.3 .8M134.2 143.7l.2 2.6M127.7 153.3l.4 1.1M69.1 139.9l-.6 2.9M121.1 227.9l-.3 3.3M207.2 32.3l-.1 1.5M93.9 91.5l-.7 2M126 245.8l-0 1.7M141.5 174.3l.2 .7M49.3 225.5l-.1 2.2M87.9 71.7l-.3 .8M97.9 94.9l-.4 .9M129.1 89.3l-.1 .8M35.5 162l.1 1.3M69.7 222l-.9 2.3M66.6 128.7l-.3 .7M199.8 36l.2 1M216.6 109.2l.9 2.6M151.1 144.8l1.2 3M38.5 256.7l.2 1.8M199.1 126.3l-.2 3M77.3 231.9l-.4 1M107.8 99.3l-1 2.8M164.9 255.7l-.3 .7M139.7 221.8l.2 .9M147 122.2l.3 1.5M215.6 209.6l.8 3M197.2 194.9l.9 3.1M89.1 127.4l-.7 2.4M69.4 164.3l-.7 2.6M89.1 58.9l.9 2.4M204.2 151.7l-.9 2.4M103.3 84.8l.3 .9M149.6 259.5l.4 .9M191.7 53.2l1 3.2M172.2 85.3l-1.1 2.9M70.2 33.9l.3 2.9M63.1 44.2l.4 1.7M143.1 198.4l-.6 2.4M84.5 46.1l-.5 1.4M44.7 83.8l-.5 2.5M188.9 256.3l-0 2.5M143.6 234.7l-1.1 2.5M75.8 118.7l.3 1.6M103.4 240.7l.1 1.1M135.4 88.3l.1 2.6M193.8 87.6l.3 .7M41.5 53.3l-.8 1.7M75.9 126.2l.8 3.2M160.4 241.6l-.4 1.6M138.7 193.6l.2 .8M119.6 151.8l.3 .8M79 251.9l.4 1.3M216.8 130.6l-.6 3.1M183 172.9l-0 1.2M147 102l-1 2.6M194.8 205l.9 2.1M179.3 140.9l.3 1.6M66.6 54.9l.4 3.1M212.3 187l-0 .9M61.2 236.3l-.1 3M99 164l-.3 1.5M44.9 103.3l-.3 2.6M55.7 42.1l-.5 3.1M116.8 166.2l.1 .5M107.3 213l1 2.5"/><path stroke-width="7.5" d="M133.5 96.4l.2 2.1M207.7 177.9l-.9 3.3M42 72.3l-.1 2.5M202.5 49.1l.9 3.2M211.3 46.8l.1 2.8M217.1 252.5l.5 3.4M177.8 213.8l-0 2.2M40.1 73.7l.1 1.9M200.5 257.3l-.5 3.4M175.8 262.8l-.1 1.9M64.1 72.8l-.6 1.2M91.1 116.1l-.3 1.3M198.9 170.2l1.3 3.3M210.3 90l-.5 2.5M113.8 67.6l-.7 2.6M32.9 88.4l.6 3.6M140.6 241.9l.1 .8M51.5 211.3l.7 2.4M112.6 271.9l-.6 2.5M152.4 207.3l-.3 .9M150.5 172.8l.9 2.2M109.3 88.5l-.5 2.5M67.7 143.8l.1 2.8M154.3 233.1l1.4 3.5M143.8 43.2l.2 1.6M211.1 98.8l.6 2.3M42.7 25.5l1.2 3.3M193.3 176.5l1.1 2.7M132.2 47.7l.8 3.7M183.7 29.7l.3 1M106.7 248.4l-.4 1.9M147.1 27.7l.3 1.1M168.6 109.4l-.9 2.3M118 101.8l.1 2.9M46.8 67l.5 1.9M53.6 104l.3 1.3M61.7 89.7l-.3 3.3M40.8 189.1l-1 2.9M103.5 118.5l-.9 3.4M214.1 145.5l.4 2.2M214.2 118.1l.4 3.2M153.2 193.7l1.1 2.5M66 37.3l.2 3.2M50.9 241.6l.8 2.5M173 124.4l.1 .9M192.3 272.9l.3 1M50.5 153.2l.3 3M35.6 63.2l.5 1.2M42.7 95.5l.5 1.7M189 192.8l-.5 1.9M152.2 151.4l.8 3.3M206.8 130.1l-.1 2.4M186 106.1l-.4 2.3M58.8 86.4l-.1 1M198.3 43.8l-.5 2.9M65.5 266l-.6 3.2M78 128.7l.1 .5M119.8 216.8l-.2 1.2M95.2 263.9l.9 3M208.5 248l.2 1.8M191.4 199l-.8 2.3M163.1 35.2l-.2 2.3M171.9 103.4l1.1 3.2M144.5 155.5l.1 1.2M113.6 242l-.2 3.4M105.7 63l.7 2.2M138.1 73.1l-.4 3.1M167.7 74l-.4 2.1M201.7 210.9l0 1.1M140.8 271.7l1 2.7M95.8 181.6l-0 1.2M216.7 30.5l1.1 3.1M175.6 50.4l-.4 3.1M100.2 139.7l-.6 3.1M204.5 215.1l.9 3.5M132.4 211.2l-0 .7M125 131l1 2.5M37.8 105l.4 2.4M166.5 270.6l.2 .8M120.5 196.7l-.4 3.7M138.8 220.3l.2 1.9M85.1 222.1l-.2 .6M175.2 81.4l-.1 1.4M184.5 183.3l-1.5 3.3M35.4 113l-.5 3.4M57.1 59.7l.3 3.5M143.3 181.6l.9 2.3M213.6 80.3l.5 3M188.8 156.5l-0 1.4M45.4 208l-.3 3.8M111.3 209.7l.1 .5M38.1 210.9l-.3 2.1M64.8 256.8l.2 1.6M73.3 215.9l.6 3.5M70.6 249.2l0 .6M106.3 113.8l1.2 3.2M172.6 247.9l.1 2.1M197.8 161.3l.8 1.8M215.5 266.2l-.4 2M80.6 212.2l0 1.1M62.6 198.8l.4 1.4M105 179l.1 2.2M65 246.2l.3 3.7M175.8 61.9l-1 2.6M187.8 223.2l0 3M109 151.2l.1 2.4M105.6 170.2l.7 1.9"/><path stroke-width="8" d="M150.5 133.2l.9 3.5M161.4 124.8l-.1 3.1M115.2 147l-.3 1.1M87.9 211.3l1 2.7M79.9 165.6l.1 1.5M191.2 35.2l-.3 3.8M47 261.3l.2 4.1M123.5 268.7l-0 1.3M98.7 140.2l-.5 1.7M213.2 163.9l.8 3.5M53.2 236.3l.2 1.9M83 70.2l-.5 3.5M50.7 183.1l.3 1.4M177.7 128.9l-0 .8M211.2 138.8l.4 3.5M73 91.7l.3 2.8M153.5 49.1l-1 3.6M123.8 112.1l-.1 3.1M41.4 114.5l1 2.3M211.2 37.6l1 3.3M121.3 174.4l.1 3.9M187.2 113.7l-.3 2.8M65.8 31.2l.9 2.3M81.5 113.4l.6 1.3M55.1 169.8l.7 3.9M91.8 28.3l-1.4 3.6M78.4 150.1l-.3 1.3M160.8 172.6l1.6 3.6M95.5 208.2l-.1 1.6M37.3 197.3l.4 2.2M44.6 196.3l-1.6 3.6M104.8 160.9l.2 3.1M190.4 84.9l-0 .8M131.8 180l.2 1M67.8 177l-.1 .7M199.4 77.1l1.1 3M45.7 128.8l-.9 2.4M89.4 133.3l0 4M195.7 62.8l-.3 1.6M89.6 256.7l.1 1.3M55.5 158.3l-.1 1.7M180.9 122.1l-.5 1.4M92.9 34.2l.1 1.8M54.8 252.9l-.5 3.3M119 72.9l.5 1M95.3 247.5l-.4 .9M196.1 154.9l.3 3.8M98.6 70.8l-.7 2.7M119.3 235.9l0 3.3M155 189.1l-.4 2.1M165.2 268.4l.6 2.7M126.5 149.2l-.3 1.1M170 156.6l.8 2.9M176.4 89.2l-1 3.6M133.1 247.3l-.1 .6M144.3 131.7l.1 3M177.3 29l1.1 3.1M62.3 97.4l-.2 .7M141.4 43.2l.2 .8M150.8 163.4l.8 3.5M98.7 219.6l-1.1 3M81.6 177.8l-.2 .9M88.2 232.4l.8 3.5M144.9 248.8l-0 .9M184.6 140.5l-.1 3M95 47.2l.2 3.3M53.6 226l-1.5 3.3M164.3 199.9l.6 3.5M213.9 173.3l1.1 2.4M76.6 237.3l-.2 3.4M42.7 157.4l-.3 3.6M46.9 35.1l-.6 1.7M187.7 168.9l0 2.1M152.9 176.9l-.6 3.5M132.1 135.3l1.1 3.1M56.4 262.1l.5 1.6M91.8 108.4l-.4 1.3M56.2 134.1l-.2 2.7M207.5 189.1l-.2 .5M72.6 153.8l.9 2.9M175.8 59.9l-.2 1.7M163.2 137l1.2 2.8M159.2 51l-.3 .7M77.1 96.1l-.5 1.5M42.7 245.3l.1 1.4M121.6 38.4l-.2 1.8M116.1 188.2l.9 3M68.5 262.1l-0 1.1M39.3 41.4l.4 1.2M175 182l.2 3.2M124.7 67.6l-1.2 2.6M69.5 65.3l-.7 2.8M44.7 46.7l.7 1.6M151.7 214.4l.1 1.7M86.4 193.4l-.3 3.2M145.8 162l.2 2.1M91.9 158l-1.1 3M203.6 41.6l-1.5 3.7M135.2 125.3l.2 2.9M180 153l1.5 3.4M193.7 137.8l.4 3.7M196.6 110.3l.7 1.5M56.7 200.6l-.8 2.5M105.6 110.6l.4 1.2M65.7 208.7l0 1M213.9 153.8l0 .6M52.4 28.2l1.1 2.5M164.4 67.4l-.2 3.9M56.8 264.9l-1.4 3.3M196.8 96.1l-.1 2.7M169.3 195.3l.5 2.4M178 101.2l-.3 .8M85.9 101.4l1.1 3M190.8 218l1.5 3.2M70.6 69.9l1.7 3.9M101.7 193.6l.5 3.6M124.7 231.2l-.1 3.7M128.2 35.8l.4 1.9M133.9 245.6l.6 2.6M199.8 186.6l1.1 2.3"/><path stroke-width="8.5" d="M96.3 166.8l-.9 2.1M97.2 107.1l-.5 1.8M125 52.7l-.2 .5M55.5 130.1l.3 2.1M169.9 216.5l.2 1.5M170.3 220l.1 2.7M77.4 145.1l.3 1M80.3 230.6l-.3 .8M146.2 57.2l-.3 .7M76.9 55.6l-.1 4.1M174.9 248.8l.5 3.1M87.6 44.4l.9 2.2M76.2 204.9l-.2 2.6M169.9 204.9l-.5 1.9M106.7 256.6l0 2.5M208.5 119l.8 4M208.8 160.9l-.2 .5M197.6 90.2l-.4 1.4M177 158.5l.1 1.2M61.3 212.4l-.3 .7M38.6 33.4l-.8 2.9M198.6 139.6l-1.3 3.5M208.6 232.3l.3 .7M72.1 135.5l-.9 2.3M107.8 83.4l-.8 2.3M96.8 130.4l-.2 1.1M135.5 109.1l1.7 4M171.5 31.7l-.6 3.1M203.8 81.9l.1 .8M136.1 171.5l.6 3.2"/></g><g stroke="#434343"><path stroke-width="4.5" d="M133.4 111.7l.5 3.2M87.5 151.5l.1 1.9M53.2 54.9l.5 5.1M128.2 28.2l-.3 4.7M63.8 136.9l1.4 4.3M197.1 165.2l.7 4.2M80.6 234.3l-.5 5.8"/><path stroke-width="6" d="M64.8 79.6l-.3 5.7M49.9 137l.1 4.7M56.1 238.1l-.1 1.3M124.1 96.7l.5 5.6M34 86.4h0M202.4 50.7l.4 4.1M102.8 163.9l-1 4.7M105.4 210.8l1.6 3.6M125.6 218l.9 5M76.5 162.9l-1.2 5.9M98.9 36.8l-2 4.6"/><path stroke-width="5" d="M201.6 167.6l-.2 6M39.9 97.6l-1.4 4.9M61.9 259.6l1.6 4.1M190.9 50.1l-2.3 5.8M88.5 135.5l.6 6.4M199.2 97.3l-.6 3.5M36.4 67.3l-1.2 2.9M179.8 77.6l.4 .9M104.3 95.5l-1.9 5.9M50.7 27.5l-.4 3.2M109.7 96.5l-.3 6.7"/><path stroke-width="4" d="M52.6 167.4l1.2 4.2M196.6 63.6l.7 2.2M86.6 258l-1.6 3.5M38.2 72.6l-.4 4M181.7 169.4l1.1 5.7M182 199.3l1.9 4.1"/><path stroke-width="5.5" d="M82.8 92.7l-.2 1.2M124.7 42.9l2.3 5.7M193.4 238.3l-.3 3M57.1 53.6l-1.3 4.8M108.9 260.6l-.9 4.9M177.8 248.7l.5 2.9M148.2 206.3l-0 3M194.4 109.1l.5 2.7M213.3 235.9l.2 4M141.1 110.4l1 3.2"/><path stroke-width="3.5" d="M110.7 122.7l1.2 3.7M186.3 86l-1.1 4.7"/><path stroke-width="6.5" d="M83.5 169.2l-1 2.3M93.1 269.2l.5 1.1M116.8 207.3l-0 .3M91.2 224.7l-.3 2.5"/></g><g stroke="#444444"><path stroke-width="4.5" d="M164.6 145.3l1.3 4.7M200 113.2l-.2 4.5M125.7 194.7l.1 4.9M45.4 219.9l-.1 2.2M171 170.6l.7 3.5M137.4 256.6l-.7 2.2M141.8 40.2l2.4 5.2M200.6 133.8l1.6 4M141.8 88.5l-.7 1.7M44.2 252.4l1.1 6.6"/><path stroke-width="6" d="M141.7 145.6l.5 1.2M81 226.3l.3 .7M156 127.8l.1 .9M49.2 114l0 .6M166.5 224.8l.8 1.9M158.3 88.1l-2.2 5.4M105.6 45.2l.6 4.1M34.8 154.2l-2.3 5.4M166.7 263.6h0M200.9 194.6l-.4 1.6M73.5 229.9l-.8 4.2"/><path stroke-width="5" d="M208.3 97.8l-.7 2.9M36.1 142.8l.9 3.2M120.6 100.5l2.2 6.4M84 119.7l1.6 4.6M201.8 43.1l-1.4 4.2"/><path stroke-width="3.5" d="M87.6 69.6l.6 3"/><path stroke-width="4" d="M194.2 32.2l1.7 5.4M187.7 240.1l-.2 6.3M117.4 243l1.9 7.2M158.6 25.7l-.8 6.5M123 37.5l-2.4 6.7M170.8 181.9l1.3 3.5"/><path stroke-width="6.5" d="M156.7 182l.6 1.7M109.3 136.1l.4 1.3M128.5 193.5l-.4 1.2"/><path stroke-width="5.5" d="M145.9 97.6l-1.1 2.5M133.4 93.7l1.9 5.8"/></g><g stroke="#454545"><path stroke-width="5" d="M167.9 83.9l.1 3.1M109.9 38.7l-.2 5.6M140.9 134.6l-2.3 5.7M144.5 101.2l-1.6 5.7M162.8 49.9l.8 5.1M139.8 221.8l-2.4 6.2M186.3 137.2l-1.6 3.6M33.1 263.3l.1 3.4"/><path stroke-width="6.5" d="M174.1 120.8l.3 2.9M178.8 133.7l-.4 1M105.6 49.4l-.3 .9M173.4 131.8l.7 3.1"/><path stroke-width="5.5" d="M53.9 93.3l-.8 1.8M104 69.6l1.1 5.9M55.2 32.4l-.3 4.4M66.7 221.2l-.3 2.7M141.8 207.6l1.4 6.2M41.2 37.9l-.4 1"/><path stroke-width="4.5" d="M158.7 100.1l2.3 5.8M81.7 72.5l-.3 2M60.4 226.3l-.1 2.8M115.9 209.1l1.7 6.8M165.9 209.4l.8 3.9M38.6 133l2 5M166.7 30.9l-1.1 6.3M196.4 150l-2 6.2M152.3 153.5l-.7 6.1M50 199.5l-1.4 6.3"/><path stroke-width="4" d="M73.6 99.7l-.3 2.2M59 89.7l-.3 4.7M55.1 101.7l-2.1 7.5M127.5 211.7l1.6 6.9"/><path stroke-width="6" d="M58.5 223l.3 5M182.6 206.7l-.6 5.4M69.1 72.9l-1.5 5M140.5 57.3l-.3 3.6M182.1 34.3l.6 3.2"/><path stroke-width="3.5" d="M84.1 67l2.1 7.6M189.6 199.3l-2.4 6.5"/></g><g stroke="#464646"><path stroke-width="6" d="M149.4 221.6l.2 5.6M94.2 77.7l.7 3.5M174.2 39l-.4 1.8M92.7 260.8l-0 .5M98.4 151.4l-.4 1.4M114.4 57.7l-.3 3.1M208.4 143.7l-1.6 4.5M41.7 168.8l-0 .2M71.2 165.8l-0 .4M204.4 247.4l.2 .9M106.4 184.7l-.1 .5M58.1 26.5l-.6 1.7M143.5 31.5l-.1 1.6M120.4 200.9l.3 1M87.8 106l0 .5M74.8 114l-.2 1.9M203.6 266.7l.5 1.3M44.1 175.4l-.1 .5M144.5 148.4l.3 .9M201.9 112.9l.2 1.5M142.1 51.4l-0 .6M82 60.3l-.4 2.1M167.2 158.4l-.1 .9M128 139.7l-.1 1.1M90.4 153.9l-.1 .7M151 39.6l.4 1.1M91.9 97.1l-.1 1M144.9 97.5l-.1 .3M162.7 95.1l-.7 1.7M47.6 173.4l-.2 .5M101.2 28.9l.4 1.8M74.5 146l.5 1.9M198.2 156.2l-0 .3M101.4 222.8l-.5 1.3"/><path stroke-width="5.5" d="M40.8 103.8l-.7 2.5M34.9 46.7l-1.5 4.1M192.2 71.3l.4 4.2M151.7 237.7l-.2 1.5M212.3 90.1l-1.8 5.9M79.9 190.7l-.3 4.3M113.1 268.4l.1 1.7M122.9 81.2l-1.1 6.5M212.2 187.2l1.6 6.2M81 132.8l.4 2.3M212.6 183.4l-.9 4.7M169.5 207.9l.7 3.7M59.1 203.1l.8 3.4M64 38.1l-.2 1.6"/><path stroke-width="4.5" d="M109.7 245.3l.2 2.4M79.7 47.2l-0 6.9M72.1 33l3 6.8M149.4 260.9l-.1 3M117.3 121.9l.8 2.4M132 200.6l1.8 6.5M134.8 24.8l-1.1 4.4"/><path stroke-width="5" d="M192.9 208.8l2.1 4.5M171.4 87.2l-0 3.7M84.7 45.3l-.8 2M46.4 155.3l.1 3.7M164.5 90.9l.3 1.5M90.8 119.3l-.2 6.5M139.5 185.3l0 2.7M70.2 66.1l.7 6.4M145.9 75.4l-2.6 5.7"/><path stroke-width="4" d="M128.2 62.8l.2 3.7M165.2 98.5l1 3.7M188 33.7l.6 2.4M185 239.2l.1 2.1M134.6 61.8l1.3 5.6M198.8 162.3l-1 3.4M174.7 158.9l-2.9 6.9M209.1 47.3l.1 4M75.8 182.7l.3 2.9M55.2 211.5l1.8 4.5"/><path stroke-width="7.5" d="M187.7 250.2l-.5 1.9M70.7 81.3l-.3 1M129.7 49.8h0M53.3 231.3l.1 1.5M106.8 42.8l0 1.8M98.2 100.5l-.1 .3M162.3 39.2l.5 1.9M134.1 110.3l-.3 1.8M39.6 120l-.5 2.2M178.5 115.4l-.2 2.8M128.4 143.2l.6 1.6M71 97.8l-.5 1.2M118.5 102.5l-.3 1.8M114.1 199.2l-.7 2.6M195.1 51.3l.2 1.5M176.4 180.3l.5 2.6M73.4 25.8l.5 2.3M164.8 205.9h0M195.3 224.7l-.3 1.5M107.7 93.4l.1 1M38.8 146.3l0 1.8M77.7 26.1l-.6 1.4M197 184.2l.1 .3M210.6 45.9l-.4 1.6M162.8 232.1l.3 1.8M180 110.7l-0 .8M126.2 160.8l-.6 2.5M80.9 74.8l-.2 2.3M160 137.2l0 .5"/><path stroke-width="8.5" d="M215 222.6l.6 2.2M185 231l-.5 2.7M115.7 167.2l-.1 .6M125 270l-.1 .5M81.9 216.2l.1 .2M136.3 72.5l.1 1.8M88.9 113.8l-.2 .5M169.9 118.3l-.3 2.3M152 120.7l-.2 .5M40.5 107.9l-.1 .3M104.7 147.1l.3 1.1M119.8 80.5l-.3 2.5M194.8 61.5l.9 2.6M60.6 158.8l-0 .2M33.2 129.6l0 .2M194.5 83.7l-.1 2.9M196.7 73.6l-.1 3.3M122.6 172.2l1 2.9M178.9 207.5l1 2.5M139.1 165.9l.2 1.1M121.5 126.6l-.1 1.9M173 80.5l-.6 2.8M146.7 207.7l.5 2.2M189.1 230.5l-.6 3.1M128.5 227.7l-.2 1.3M143 212.6l.6 1.4M159 99.1l-.2 .7"/><path stroke-width="8" d="M211.8 234.5l.3 1.9M94.5 253.1l.5 1.6M126.2 27.4l.3 1.9M88.8 160.2l.7 2.8M60.2 130.2l-.2 .8M207.7 145.8l-.1 .8M73.5 266l-.1 .8M79.3 149.5l-.5 1.4M85.1 255.1l.3 1.3M165.5 60.2l-.9 2.3M161.1 155.4l-.8 2.4M148.7 150.3l-.7 1.7M40 166.7h0M71.9 135.8l.2 .7M197.2 195l-.2 .5M34.6 211.5l.8 2.8M198.4 127.8l-.4 1.4M142.8 118.2l-.2 1.9M183.7 74.7l-.2 .6M176.2 144.1l.4 2M60.8 191.6l0 .1M53.8 83.7l.4 2M110.3 132.6l-0 .8M78.4 230.2l0 .1M195.8 158.5l.2 1M151.6 87.1l-.2 .8M169.3 112.9l.2 .6M204.7 33.6l.3 1.3M183.7 270.3l.4 .9M146.9 78.4l.3 1.6M77.1 188.1l-.8 2.3M149 233.2l.1 .3M53.7 42.7l-.1 .3M33.5 74.9l0 .1M35.2 264.2l.2 1.9M106.6 208.9l-0 1.3M121 91.2l0 1M42.5 37.2l-.2 2.4M136.1 250.6l-.5 1.5M44.2 200.2l0 .7M128.4 190.5l-0 .9M167 140.9l.1 1.6M96.8 176l.2 1.6M195.8 203.4l-.3 1.6M164.6 192.9l-.1 .4M142.6 191.1l-.3 2.2M68 60.6l-0 2.5M175.9 43.3l.1 .8M209.2 207.6l-.2 .6M49.4 117.2l.9 2.2M115.7 245.6l.1 1.2M137.2 132.5l.4 1.7"/><path stroke-width="6.5" d="M72.4 242.6l-.7 1.8M76.7 127.9l.4 1.1M193.2 39.4l.4 2M112.8 103.3l-.1 2.1M133.7 62.6l.2 .6M102 44.3l-.5 1.6M45.6 249.8l-.3 2.1M162.2 265.9l0 .1M43.2 86.9l.3 1M187.7 223.8l-.1 1.5M67.9 225.1l.1 1.2M97.2 81.6l.2 .9M134.2 171.7l-.4 .9M76.9 173.6l.1 2.1M200.6 248.2l-.3 .7M91.3 239.7l0 .5M66.4 182.4l.3 1.8M194.1 260.3l-.1 1.7M136.8 243.1l.2 .4M207.5 200.3l.1 1M206.1 102.9l.7 1.9M39.3 243.7l.4 1.2M91.5 127.4l-.3 2M157.4 167.3l.1 .5M34.6 51.7l-0 .9M109.8 31.4l-.2 1.3M203.2 174.1l-.3 1.1M157.4 52.1l-.3 .7M211.5 56.8l-.3 .7M182.7 199.1l.8 2M186 64.2l0 1.2M93.4 162.4l-0 1.9M42.4 65.9l.1 .5M176.6 30.7l0 .2M113.4 215.8l.1 .2M205.9 88.9l.3 1.4M58.7 202.4l.2 .7M92.6 192.9l-.4 1.9M107.6 261.1l.6 2M109.6 241.5l.1 .8M96.5 127.5h0M152.8 65.7l-.1 .3M108.2 57.1l-.2 .6"/><path stroke-width="7" d="M100.8 259l-.2 1.7M89.3 271.1l.4 1.1M172.9 183.4l.5 1.2M163.8 42.5l-.3 2.5M120.4 65.6l.1 1.5M209.7 121.9l-.3 2.4M57.3 263.4l.1 .7M149.8 218.4l.1 .3M158.6 259.2l.1 .3M99.2 61.5h0M58.6 72.6l-.5 1.8M56.8 103.7l.3 2.3M54.6 144.9l.3 1.4M199.3 111.2l0 .6M170.5 227l-.6 1.8M112.6 116.5l.1 1.5M154.1 175.8l-.2 .5M162.8 256.1l.4 1.7M50.8 227.4l.1 .7M178.9 84l.4 2.2M119.7 233.1l-.5 1.8M56.5 63l.2 1.3M70.9 201.6l-.4 1.5M204.6 163.8l-.1 .8M98.5 204.5l.2 1.3M35.9 215.1l-.3 1.4M125.4 254.3l-.1 1.7M71.9 48.8l-.4 2.2M204.5 137l.1 .2M151.8 198.2l.3 2.3M73.2 196.8l-.2 .9M175 138l-.7 1.7M141 273.3h0M84.3 94.3l-.6 1.6M133.4 219l-.1 .7M84.8 42.5l-.2 .7M210.5 70.5l.6 1.7M73.7 110.3l-.3 1.1M175.9 165.2l-.8 1.9M157.9 272.7l-.6 1.5M57.7 256.2l.2 .6M61 249.6l.7 1.9M78.7 203.9l-0 .7M104.7 73.7h0"/></g><g stroke="#474747"><path stroke-width="6" d="M218.8 68.1l1.2 3.5M111.1 169.2l-.9 3.4M37.6 112.1l-.9 5.7M77.6 260l.1 1.3M132.9 263.6l1.3 3.4M170 261.6l.5 4.5M151.5 32.8l-1.5 4.9M146.9 191.7l-.1 3M210.8 221.4l-1.1 2.6M194.9 173l.3 1.7M62.9 136.6l.6 4.2M67.3 183.9l-.8 2.3"/><path stroke-width="4.5" d="M127.1 52.7l1.4 7.3M160.6 140.6l-1.2 5.1M131 92l.8 2.1M176.1 193.1l-.7 1.5M115.3 51.8l-.5 6M199.3 102.1l.4 7M215.9 188.8l.5 4.3M84.1 252.8l1.7 5.2"/><path stroke-width="3.5" d="M196.3 227.7l.3 5M162.1 123.3l1.7 6M91.5 131.6l0 2.7M58.9 185.5l-.3 2.5M136.4 121.9l0 .4"/><path stroke-width="5.5" d="M137 82.9l-.4 1.3M188.6 106.8l.8 2M181.7 24.9l-1 5.4M176.4 62l-1.6 5.1M72.7 194.5l.6 1.3M183.9 156.9l-.7 3.2"/><path stroke-width="4" d="M88.3 227.3l-1.1 7.7M72.6 175.5l.2 6.8M75.7 210.4l2.4 5.2M163.5 165.5l.4 2.3M207 221.2l-1.5 4.4M181.6 65.2l1.7 6.5M212.2 63l.2 5.3M82.7 207.1l.4 2.3M61.4 37.1l-.7 5.7M147 122.2l.3 1.5"/><path stroke-width="6.5" d="M184.7 189.6l-.1 .6M105.3 230.4l0 2.2M44.9 77.4l-1.3 3.4M59.3 47.6l.2 1.5M33.5 250l.4 4.1"/><path stroke-width="5" d="M107.2 188.5l-1.6 3.6M174.7 264.5l.1 5.7M117.6 172l-.3 6.2M67.1 47.2l-1 5.8M113.5 76.8l-.7 4.4M96.5 67.7l1.8 6.7M112.3 215.9l-.5 2"/></g><g stroke="#484848"><path stroke-width="4.5" d="M69.9 50.4l-.4 1.5M100.9 218.8l.7 2M89.5 177.8l-.1 .6M118.2 30.4l-.1 1.4M171.9 103.4l1.1 3.2M35.4 113l-.5 3.4M215.5 266.2l-.4 2M80.6 212.2l0 1.1"/><path stroke-width="3.5" d="M111.9 185.2l.2 .6M188.3 44.6l.9 2.6M159 262.2l.8 2.5M144.4 147.5l-.1 .6M136 59.2l-1 2.2M175.5 228.2l-.4 .9M206.2 64.5l.4 .9M144.8 207.6l.2 .5M168.5 67.9l.3 1.9"/><path stroke-width="5" d="M98.7 140.2l-.5 1.7M153.5 49.1l-1 3.6M152.4 207.3l-.3 .9M132.2 47.7l.8 3.7M67.8 177l-.1 .7M45.7 128.8l-.9 2.4M126.5 149.2l-.3 1.1M140.8 271.7l1 2.7M56.7 200.6l-.8 2.5M45.4 208l-.3 3.8"/><path stroke-width="4" d="M180.4 209l0 .5M83.6 246l-0 .9M106.8 137.8l.4 2.7M55.2 209.4l.1 .9M149.3 98.8l-.2 .6M185.3 66.7l.1 .4M107.4 58l-.2 1.1"/><path stroke-width="5.5" d="M125 52.7l-.2 .5M187.2 113.7l-.3 2.8M61.3 212.4l-.3 .7M208.6 232.3l.3 .7"/><path stroke-width="3" d="M122.1 160l0 1.1"/></g><g stroke="#494949"><path stroke-width="3.5" d="M192.5 211.7l.2 .8M165.4 149.4l.1 .6M88.3 83.3l.7 2M175.4 188.2l.6 2.5M50.2 58.5l.8 2M97.1 192.3l-.2 .8M218.3 224.7l-.4 1.4M198.2 242.5l-.5 1.1M133.4 79.7l.2 2.7M118.5 113.1l-.9 2.2M131.1 40.1l.2 .7M60.7 225.5l.2 1.6M123.9 80.9l-.5 2.2M170 158.9l-.1 .5"/><path stroke-width="5" d="M115.2 147l-.3 1.1M79.9 165.6l.1 1.5M53.6 104l.3 1.3M98.6 70.8l-.7 2.7M46.9 35.1l-.6 1.7M39.3 41.4l.4 1.2M175.2 81.4l-.1 1.4M213.6 80.3l.5 3M56.8 264.9l-1.4 3.3M175.8 61.9l-1 2.6"/><path stroke-width="4" d="M154.5 115.8l.8 2.3M45 213.8l.1 .4M185 245.6l0 2.7M197.2 194.9l.9 3.1M175.7 233.6l.4 3M183 172.9l-0 1.2M179.3 140.9l.3 1.6"/><path stroke-width="4.5" d="M200.5 257.3l-.5 3.4M210.3 90l-.5 2.5M161.3 89.1l-.2 1.2M216.6 109.2l.9 2.6M38.5 256.7l.2 1.8M201.7 210.9l0 1.1M75.8 118.7l.3 1.6M119.6 151.8l.3 .8"/><path stroke-width="5.5" d="M76.2 204.9l-.2 2.6M98.7 219.6l-1.1 3M91.8 108.4l-.4 1.3"/></g><g stroke="#4a4a4a"><path stroke-width="3" d="M198.9 57.7l-.3 2.3M43.4 184.3l.2 .5M137.5 166.4l-0 2.2"/><path stroke-width="4" d="M38.3 265.9l.4 .8M86.6 168.6l-.2 1.4M33.5 150.7l0 2.2M160.6 233.5l-0 .9M37.3 140l.3 1.5M192 91.2l.1 1.3M91.4 249.4l.3 2.1M79 251.9l.4 1.3M44.9 103.3l-.3 2.6M107.3 213l1 2.5"/><path stroke-width="4.5" d="M175.8 262.8l-.1 1.9M113.8 67.6l-.7 2.6M77.4 84l-.1 1.1M172.2 38.4l-1 2.4M152.2 151.4l.8 3.3M35.5 162l.1 1.3M215.6 209.6l.8 3M65 246.2l.3 3.7"/><path stroke-width="5.5" d="M211.2 138.8l.4 3.5M53.6 226l-1.5 3.3M124.7 231.2l-.1 3.7"/><path stroke-width="3.5" d="M209 100.4l-.1 .8M109.8 28.5l-.5 1.4M156.2 123.1l-.3 .9M78.3 266.7l.6 2.5M199.3 25.8l-.4 1.6M130.1 227.7l.2 .5M207.1 144.2l.3 2M115.8 93.7l.1 2.4M151.5 268.8l-.3 2.2M70.4 269.9l.2 .9M187.7 233.4l.5 2.6M118.3 261.8l.2 1.2M181.3 75.3l-.5 1.3M48.4 267.9l.3 2.8"/><path stroke-width="5" d="M170 156.6l.8 2.9M150.8 163.4l.8 3.5M95 47.2l.2 3.3M100.2 139.7l-.6 3.1M184.5 183.3l-1.5 3.3"/></g><g stroke="#4b4b4b"><path stroke-width="4" d="M158.3 99.1l-.6 2.6M123.1 121.4l.9 3M80.4 198.5l.9 2.2M121.1 227.9l-.3 3.3M67.6 156.8l-.3 1.6M99.1 154.7l-1.1 2.5M188.9 256.3l-0 2.5M103.4 240.7l.1 1.1M160.4 241.6l-.4 1.6M66.6 54.9l.4 3.1"/><path stroke-width="5" d="M191.2 35.2l-.3 3.8M73 91.7l.3 2.8M104.8 160.9l.2 3.1M206.8 130.1l-.1 2.4M95.2 263.9l.9 3M77.1 96.1l-.5 1.5M101.7 193.6l.5 3.6M105 179l.1 2.2"/><path stroke-width="3.5" d="M110.5 39.7l-.2 1.1M91.1 156.5l-.7 2.4M75 85.6l-0 2.3M178.7 133.7l-.1 2.5M70.3 168.4l-1 2.3M203.1 258.1l-.3 1.9M75.7 113.2l.6 1.6"/><path stroke-width="4.5" d="M122 178.8l-.3 2.8M211.1 98.8l.6 2.3M207.2 32.3l-.1 1.5M78 128.7l.1 .5M191.7 53.2l1 3.2"/><path stroke-width="5.5" d="M178 101.2l-.3 .8"/></g><g stroke="#4c4c4c"><path stroke-width="5" d="M207.7 177.9l-.9 3.3M32.9 88.4l.6 3.6M211.2 37.6l1 3.3M199.4 77.1l1.1 3M195.7 62.8l-.3 1.6M54.8 252.9l-.5 3.3M35.6 63.2l.5 1.2M207.5 189.1l-.2 .5M42.7 245.3l.1 1.4M138.8 220.3l.2 1.9M52.4 28.2l1.1 2.5"/><path stroke-width="4.5" d="M35.4 168.5l-.4 1.4M147.1 27.7l.3 1.1M69.1 139.9l-.6 2.9M37.8 105l.4 2.4M172.6 247.9l.1 2.1"/><path stroke-width="4" d="M132.6 69.7l.2 .6M144.9 84.3l.4 1M149.9 78.6l.4 1M72.9 192.8l-.4 1.3M129 210.6l-.1 .7M103.3 84.8l.3 .9M149.2 224.5l.2 1.6M190.5 204.1l-.2 1.1"/><path stroke-width="3.5" d="M114.6 179l-.1 1.8M64.9 87l.2 1.4M122 201l-.2 1.7M56.9 109.3l-.4 1.7"/><path stroke-width="5.5" d="M55.1 169.8l.7 3.9M37.3 197.3l.4 2.2M89.4 133.3l0 4M180.9 122.1l-.5 1.4M155 189.1l-.4 2.1M177 158.5l.1 1.2"/><path stroke-width="3" d="M66.2 164.2l.4 1.6"/></g><g stroke="#4d4d4d"><path stroke-width="4" d="M61.8 137.3l.3 1.8M204 73.3l-.7 2.3M133.3 150.6l-1.1 2.3M163.8 179l-.8 3.2M151.1 249.3l.7 1.9M215.7 240.8l1.1 2.7M69.7 222l-.9 2.3M139.7 221.8l.2 .9M41.7 83.1l-.7 2.3M93.8 265.5l-1.2 2.6M44.7 83.8l-.5 2.5M213.8 65.5l.7 2.3M138.7 193.6l.2 .8"/><path stroke-width="5.5" d="M97.2 107.1l-.5 1.8M170.3 220l.1 2.7M176.4 89.2l-1 3.6M106.7 256.6l0 2.5M135.5 109.1l1.7 4"/><path stroke-width="5" d="M143.8 43.2l.2 1.6M78.4 150.1l-.3 1.3M160.8 172.6l1.6 3.6M44.6 196.3l-1.6 3.6M46.8 67l.5 1.9M165.2 268.4l.6 2.7M198.3 43.8l-.5 2.9M65.5 266l-.6 3.2M42.7 157.4l-.3 3.6M175.8 59.9l-.2 1.7M116.1 188.2l.9 3M91.9 158l-1.1 3M105.6 170.2l.7 1.9"/><path stroke-width="3.5" d="M165.6 80.6l-.8 1.8M180.2 265.4l-.1 2.6M212.6 197l-.3 2.4M168.9 95.6l-.4 2M97.2 60.9l-.9 2.3M40.1 247.4l-.6 2.4M77.7 115.6l0 1.2"/><path stroke-width="4.5" d="M126 245.8l-0 1.7M143.1 198.4l-.6 2.4M197.8 161.3l.8 1.8M55.7 42.1l-.5 3.1"/></g><g stroke="#4e4e4e"><path stroke-width="3.5" d="M207.3 139.5l-.2 .4M73.7 31l-.8 2.4M129.1 175.6l.4 .9M194.5 232.4l.8 2.5M185 139.3l-.1 .6M176 201.5l-.5 1.8M164 57.7l-.8 2.4"/><path stroke-width="5.5" d="M87.9 211.3l1 2.7M89.6 256.7l.1 1.3M169.9 204.9l-.5 1.9M208.8 160.9l-.2 .5M180 153l1.5 3.4M196.8 96.1l-.1 2.7M169.3 195.3l.5 2.4"/><path stroke-width="4" d="M79.2 63.3l.5 1.6M200 253.4l.6 1.9M124.5 219.1l-.6 1.5M159.9 226.6l-.7 3M134.2 143.7l.2 2.6M210.6 175.7l.9 2.1M212.3 187l-0 .9M61.2 236.3l-.1 3"/><path stroke-width="4.5" d="M34.2 128.3l-.2 2.7M193.3 176.5l1.1 2.7M40.8 189.1l-1 2.9M149.6 259.5l.4 .9M84.5 46.1l-.5 1.4M38.1 210.9l-.3 2.1"/><path stroke-width="5" d="M95.3 247.5l-.4 .9M58.8 86.4l-.1 1M56.2 134.1l-.2 2.7M95.8 181.6l-0 1.2M69.5 65.3l-.7 2.8M57.1 59.7l.3 3.5M164.4 67.4l-.2 3.9"/><path stroke-width="3" d="M211.5 57.9l.3 1.3M44.3 191.1l.6 2.4"/></g><g stroke="#4f4f4f"><path stroke-width="5" d="M133.5 96.4l.2 2.1M161.4 124.8l-.1 3.1M65.8 31.2l.9 2.3M190.4 84.9l-0 .8M192.3 272.9l.3 1M175.6 50.4l-.4 3.1M135.2 125.3l.2 2.9M73.3 215.9l.6 3.5"/><path stroke-width="4.5" d="M130 72.7l.7 2.8M211.3 46.8l.1 2.8M217.1 252.5l.5 3.4M100.3 96.2l.1 2.1M173 124.4l.1 .9M191.4 199l-.8 2.3M63.1 44.2l.4 1.7M64.8 256.8l.2 1.6M193.8 87.6l.3 .7"/><path stroke-width="5.5" d="M96.3 166.8l-.9 2.1M213.2 163.9l.8 3.5M55.5 130.1l.3 2.1M144.9 248.8l-0 .9M196.6 110.3l.7 1.5M128.2 35.8l.4 1.9"/><path stroke-width="4" d="M170 122.4l-.3 1.3M190.3 165.8l.4 1.4M186.2 76.7l-.1 2.4M201.6 59.1l-.1 .6M139.8 64.1l-.2 1.3M151.1 144.8l1.2 3M77.3 231.9l-.4 1M119.1 43l.7 2"/><path stroke-width="3" d="M176.4 239l.3 .8"/><path stroke-width="3.5" d="M123.9 29.6l.1 .6M183.9 99.1l.1 1M145.9 90.6l.1 2.2M44.9 170.4l.5 2M148.9 90l-0 1.2M214.1 75l-.1 .7M80.1 185.1l.7 2.1M114.2 85.3l-.8 1.7"/></g><g stroke="#505050"><path stroke-width="4.5" d="M166.4 181.9l.7 1.6M160.6 115.1l0 1.7M64.1 72.8l-.6 1.2M173.9 48.2l-.2 1M51.5 211.3l.7 2.4M42.7 25.5l1.2 3.3M187.2 246.2l-1.1 3.2M118 101.8l.1 2.9M66 37.3l.2 3.2M119.8 216.8l-.2 1.2M113.6 242l-.2 3.4"/><path stroke-width="3.5" d="M120 272.2l.1 .7M130.3 233.8l.5 1.4M147.9 53.7l1 2.3M125.2 185.7l.7 2.2M57.3 185.2l.8 2.6M159.9 185.2l-.3 1M59.7 113.8l.3 1.4M205.5 224.7l.2 .5M94.9 68.7l-.3 2.5M89.5 192.7l-.5 1.6M156.4 33.7l.4 1.1M40.2 50.9l.2 2.3M193.5 226.5l-.6 1.6M57.6 76.7l-.8 2.6M111.7 230.2l0 .5M150.7 239.1l.4 2.3M143 192.2l-.5 2.5"/><path stroke-width="4" d="M96.2 27.3l-.4 3.2M83.6 59.2l0 1M90.1 246l-.1 1M34 141.7l.3 2.2M45.8 253.9l-.5 1.8M126.2 250.2l-.4 2M141.5 174.3l.2 .7M97.9 94.9l-.4 .9M204.2 151.7l-.9 2.4M153.2 84.3l.6 1.8M132.8 217.7l-.8 2.2"/><path stroke-width="5.5" d="M169.9 216.5l.2 1.5M146.2 57.2l-.3 .7M174.9 248.8l.5 3.1M56.4 262.1l.5 1.6"/><path stroke-width="5" d="M144.3 131.7l.1 3M76.6 237.3l-.2 3.4M208.5 248l.2 1.8M132.1 135.3l1.1 3.1M145.8 162l.2 2.1"/><path stroke-width="3" d="M56.2 151.5l-.1 2.3"/></g><g stroke="#515151"><path stroke-width="4" d="M202.1 201.1l-.4 2.4M144.4 77.5l.4 .8M162.3 209.1l.1 2.4M143.5 123.4l-.7 2.2M69.4 164.3l-.7 2.6M172.2 85.3l-1.1 2.9M99 164l-.3 1.5"/><path stroke-width="4.5" d="M91.1 116.1l-.3 1.3M74.7 197.9l.8 2.7M50.5 153.2l.3 3M144.5 155.5l.1 1.2M216.7 30.5l1.1 3.1M106.3 113.8l1.2 3.2M109 151.2l.1 2.4"/><path stroke-width="5.5" d="M50.7 183.1l.3 1.4M87.6 44.4l.9 2.2M119.3 235.9l0 3.3M68.5 262.1l-0 1.1"/><path stroke-width="3.5" d="M173.4 240.9l.1 2.8M50.7 115l.1 .5M122.3 258.3l-.3 1.7M101.9 234.1l-.4 1.8M171 237.9l-.1 .4M114.8 121.9l.1 .8M81.9 100l.8 2.1M112.9 249.4l0 .9M105.5 48.2l.8 1.8M43.3 230.9l.2 1.8"/><path stroke-width="5" d="M41.4 114.5l1 2.3M95.5 208.2l-.1 1.6M92.9 34.2l.1 1.8M88.2 232.4l.8 3.5M213.9 173.3l1.1 2.4M163.2 137l1.2 2.8"/><path stroke-width="3" d="M78.1 30.1l0 2"/></g><g stroke="#525252"><path stroke-width="4.5" d="M89 225.4l.3 3.2M177.8 213.8l-0 2.2M170.4 140.5l-.8 2.3M163.1 35.2l-.2 2.3M132.4 211.2l-0 .7M125 131l1 2.5M111.3 209.7l.1 .5M147 102l-1 2.6"/><path stroke-width="4" d="M167.2 189.8l.6 2M39.1 245l-.1 .8M173.6 134.4l.6 2.1M83.2 210.6l-.2 2.2M183.7 127.8l-.2 .7M208.5 267.5l1.1 2.6M54 88.9l.3 .8M127.7 153.3l.4 1.1M87.9 71.7l-.3 .8M131.1 201.3l0 .8M160.1 110.5l-.3 1.6M35.2 223.4l-.6 1.9M116.8 166.2l.1 .5"/><path stroke-width="3.5" d="M116.1 53l.7 2.4M162.1 152l-.1 .7M134.9 270.3l.3 .9M92.4 209.4l0 .5M115.5 208.1l-.4 1.2M77.5 261.9l0 .9M128.6 98.9l-.4 1.3"/><path stroke-width="5.5" d="M83 70.2l-.5 3.5M121.3 174.4l.1 3.9M196.1 154.9l.3 3.8M187.7 168.9l0 2.1M197.6 90.2l-.4 1.4M72.6 153.8l.9 2.9M203.6 41.6l-1.5 3.7M65.7 208.7l0 1M171.5 31.7l-.6 3.1M199.8 186.6l1.1 2.3"/><path stroke-width="5" d="M183.7 29.7l.3 1M168.6 109.4l-.9 2.3M42.7 95.5l.5 1.7M85.1 222.1l-.2 .6M105.6 110.6l.4 1.2"/><path stroke-width="3" d="M87.6 148.6l-.3 .6"/></g><g stroke="#535353"><path stroke-width="5" d="M150.5 133.2l.9 3.5M202.5 49.1l.9 3.2M177.3 29l1.1 3.1M86.4 193.4l-.3 3.2"/><path stroke-width="4" d="M201.3 273.1l-.2 .9M118.4 128.9l-.4 1.3M53.2 57.6l-.4 1.1M66 239.8l-.8 2.9M84.5 135.8l.9 2.5M49.3 225.5l-.1 2.2M129.1 89.3l-.1 .8M89.1 58.9l.9 2.4"/><path stroke-width="3" d="M33.5 236.6l.7 1.5M121.3 132.1l.2 1"/><path stroke-width="3.5" d="M196.9 114.3l.3 1.2M138.3 261l-.3 1.2M150.2 37.5l0 .5M109.2 197.1l-.6 1.8M36.6 97.4l-.2 1.2M46.1 140.2l-.1 .8M83.4 87.9l.2 2M216.9 236.8l-.2 1.5M51 142l-.5 2M81.5 38.4l.3 1.2M49.5 143.2l.8 1.7M100.9 38.6l-.1 1.9"/><path stroke-width="5.5" d="M81.5 113.4l.6 1.3M141.4 43.2l.2 .8M184.6 140.5l-.1 3M164.3 199.9l.6 3.5M152.9 176.9l-.6 3.5M38.6 33.4l-.8 2.9M198.6 139.6l-1.3 3.5M72.1 135.5l-.9 2.3M190.8 218l1.5 3.2M70.6 69.9l1.7 3.9M203.8 81.9l.1 .8"/><path stroke-width="4.5" d="M106.7 248.4l-.4 1.9M189 192.8l-.5 1.9M204.5 215.1l.9 3.5M89.1 127.4l-.7 2.4M120.5 196.7l-.4 3.7M188.8 156.5l-0 1.4M135.4 88.3l.1 2.6"/></g><g stroke="#545454"><path stroke-width="4.5" d="M42 72.3l-.1 2.5M198.9 170.2l1.3 3.3M140.6 241.9l.1 .8M112.6 271.9l-.6 2.5M186 106.1l-.4 2.3M105.7 63l.7 2.2M216.8 130.6l-.6 3.1M187.8 223.2l0 3"/><path stroke-width="3.5" d="M165.1 75.9l.5 1.6M164.5 28.2l-.2 2M172.1 257.7l.1 .4M36 175.7l.7 2.7M65.5 185.3l.6 2.4M209.7 242.9l.6 1.7M53.1 49.7l.4 1.1M104.9 145.1l.1 1.9M161.5 160.4l1 2.3M72.8 182.9l-.2 1.1M36.7 216l-.5 2M105.2 70.3l.4 2.3"/><path stroke-width="5" d="M123.5 268.7l-0 1.3M109.3 88.5l-.5 2.5M154.3 233.1l1.4 3.5M61.7 89.7l-.3 3.3M214.1 145.5l.4 2.2M119 72.9l.5 1M62.3 97.4l-.2 .7M44.7 46.7l.7 1.6M213.9 153.8l0 .6M85.9 101.4l1.1 3M62.6 198.8l.4 1.4M133.9 245.6l.6 2.6"/><path stroke-width="4" d="M62.2 119.6l.6 2.5M199.1 126.3l-.2 3M107.8 99.3l-1 2.8M164.9 255.7l-.3 .7M70.2 33.9l.3 2.9M143.6 234.7l-1.1 2.5"/><path stroke-width="5.5" d="M208.5 119l.8 4M175 182l.2 3.2M124.7 67.6l-1.2 2.6M136.1 171.5l.6 3.2"/></g><g stroke="#555555"><path stroke-width="3.5" d="M68.2 171.7l-.2 .9M109.9 124l0 1.9M68.4 62.7l-.7 2.3M145.9 213.4l.8 1.9M173.1 171l.5 1.8M140 111.4l.2 1.4M154 63l-.3 .9M149.6 105.6l-.6 2.2M134.3 26.8l.7 1.8M158.7 217.5l0 .6M129.2 43l.2 2"/><path stroke-width="4" d="M128.2 138.2l-.3 3M175.2 35.5l-0 2.7M101.5 58.3l.1 1.5M82.8 175l1.2 2.9M93.9 91.5l-.7 2M111.9 226.9l.7 2.4M144.9 261.2l.2 1.7M199.8 36l.2 1M102.8 259.2l-0 .4M41.5 53.3l-.8 1.7M75.9 126.2l.8 3.2"/><path stroke-width="4.5" d="M172.9 59.7l-.2 1.9M150.5 172.8l.9 2.2M209 111.4l-0 1.2M214.2 118.1l.4 3.2M153.2 193.7l1.1 2.5M167.7 74l-.4 2.1M143.3 181.6l.9 2.3M70.6 249.2l0 .6"/><path stroke-width="5.5" d="M177.7 128.9l-0 .8M91.8 28.3l-1.4 3.6M77.4 145.1l.3 1M80.3 230.6l-.3 .8M131.8 180l.2 1M76.9 55.6l-.1 4.1M133.1 247.3l-.1 .6M107.8 83.4l-.8 2.3M96.8 130.4l-.2 1.1"/><path stroke-width="5" d="M67.7 143.8l.1 2.8M55.5 158.3l-.1 1.7M103.5 118.5l-.9 3.4M50.9 241.6l.8 2.5M81.6 177.8l-.2 .9M138.1 73.1l-.4 3.1M159.2 51l-.3 .7M121.6 38.4l-.2 1.8M166.5 270.6l.2 .8M151.7 214.4l.1 1.7M193.7 137.8l.4 3.7"/></g><g stroke="#565656"><path stroke-width="5" d="M40.1 73.7l.1 1.9M47 261.3l.2 4.1"/><path stroke-width="5.5" d="M53.2 236.3l.2 1.9M123.8 112.1l-.1 3.1"/><path stroke-width="4" d="M107.3 242.2l.1 1.1M49.1 108.6l.5 2.6M66.6 128.7l-.3 .7M194.8 205l.9 2.1"/><path stroke-width="3.5" d="M181.1 105.5l.4 1.1M203.8 175.9l.1 1"/></g><g stroke="#5b5b5b"><path stroke-width="4.5" d="M72.4 242.6l-.7 1.8M67.9 225.1l.1 1.2"/><path stroke-width="5" d="M100.8 259l-.2 1.7M209.7 121.9l-.3 2.4M56.8 103.7l.3 2.3M199.3 111.2l0 .6M56.5 63l.2 1.3"/><path stroke-width="6.5" d="M169.9 118.3l-.3 2.3M194.5 83.7l-.1 2.9"/><path stroke-width="6" d="M73.5 266l-.1 .8M79.3 149.5l-.5 1.4M85.1 255.1l.3 1.3M165.5 60.2l-.9 2.3"/><path stroke-width="4" d="M44.1 175.4l-.1 .5M151 39.6l.4 1.1"/><path stroke-width="5.5" d="M210.6 45.9l-.4 1.6M162.8 232.1l.3 1.8"/></g><g stroke="#5c5c5c"><path stroke-width="6" d="M94.5 253.1l.5 1.6M126.2 27.4l.3 1.9M60.2 130.2l-.2 .8M197.2 195l-.2 .5M136.1 250.6l-.5 1.5M44.2 200.2l0 .7M68 60.6l-0 2.5"/><path stroke-width="6.5" d="M185 231l-.5 2.7M40.5 107.9l-.1 .3M104.7 147.1l.3 1.1M122.6 172.2l1 2.9M173 80.5l-.6 2.8"/><path stroke-width="5.5" d="M53.3 231.3l.1 1.5M98.2 100.5l-.1 .3M176.4 180.3l.5 2.6M195.3 224.7l-.3 1.5"/><path stroke-width="4.5" d="M133.7 62.6l.2 .6M76.9 173.6l.1 2.1M207.5 200.3l.1 1M39.3 243.7l.4 1.2M42.4 65.9l.1 .5M176.6 30.7l0 .2M108.2 57.1l-.2 .6"/><path stroke-width="4" d="M87.8 106l0 .5M82 60.3l-.4 2.1M167.2 158.4l-.1 .9M162.7 95.1l-.7 1.7M74.5 146l.5 1.9M101.4 222.8l-.5 1.3"/><path stroke-width="5" d="M162.8 256.1l.4 1.7M141 273.3h0M84.8 42.5l-.2 .7M57.7 256.2l.2 .6"/></g><g stroke="#5d5d5d"><path stroke-width="4" d="M71.2 165.8l-0 .4M58.1 26.5l-.6 1.7"/><path stroke-width="6.5" d="M125 270l-.1 .5M159 99.1l-.2 .7"/><path stroke-width="5" d="M158.6 259.2l.1 .3M119.7 233.1l-.5 1.8M35.9 215.1l-.3 1.4M71.9 48.8l-.4 2.2M151.8 198.2l.3 2.3"/><path stroke-width="5.5" d="M114.1 199.2l-.7 2.6M164.8 205.9h0M126.2 160.8l-.6 2.5M160 137.2l0 .5"/><path stroke-width="4.5" d="M211.5 56.8l-.3 .7M107.6 261.1l.6 2"/></g><g stroke="#5e5e5e"><path stroke-width="5.5" d="M129.7 49.8h0M106.8 42.8l0 1.8M39.6 120l-.5 2.2M118.5 102.5l-.3 1.8M107.7 93.4l.1 1"/><path stroke-width="6.5" d="M88.9 113.8l-.2 .5M152 120.7l-.2 .5"/><path stroke-width="6" d="M207.7 145.8l-.1 .8M40 166.7h0M71.9 135.8l.2 .7M142.8 118.2l-.2 1.9M176.2 144.1l.4 2M110.3 132.6l-0 .8M77.1 188.1l-.8 2.3M167 140.9l.1 1.6M164.6 192.9l-.1 .4M175.9 43.3l.1 .8"/><path stroke-width="4.5" d="M102 44.3l-.5 1.6M45.6 249.8l-.3 2.1"/><path stroke-width="5" d="M58.6 72.6l-.5 1.8"/><path stroke-width="4" d="M128 139.7l-.1 1.1M144.9 97.5l-.1 .3"/></g><g stroke="#5f5f5f"><path stroke-width="6.5" d="M115.7 167.2l-.1 .6M194.8 61.5l.9 2.6"/><path stroke-width="6" d="M161.1 155.4l-.8 2.4M34.6 211.5l.8 2.8M183.7 74.7l-.2 .6M60.8 191.6l0 .1M195.8 158.5l.2 1M128.4 190.5l-0 .9M96.8 176l.2 1.6"/><path stroke-width="4" d="M74.8 114l-.2 1.9M47.6 173.4l-.2 .5"/><path stroke-width="4.5" d="M43.2 86.9l.3 1M97.2 81.6l.2 .9M91.5 127.4l-.3 2M157.4 52.1l-.3 .7M92.6 192.9l-.4 1.9M109.6 241.5l.1 .8"/><path stroke-width="5" d="M54.6 144.9l.3 1.4M73.2 196.8l-.2 .9"/></g><g stroke="#606060"><path stroke-width="4" d="M106.4 184.7l-.1 .5M201.9 112.9l.2 1.5M142.1 51.4l-0 .6"/><path stroke-width="6" d="M148.7 150.3l-.7 1.7M198.4 127.8l-.4 1.4M146.9 78.4l.3 1.6M195.8 203.4l-.3 1.6"/><path stroke-width="5.5" d="M71 97.8l-.5 1.2M38.8 146.3l0 1.8M197 184.2l.1 .3"/><path stroke-width="4.5" d="M187.7 223.8l-.1 1.5M203.2 174.1l-.3 1.1M113.4 215.8l.1 .2"/><path stroke-width="5" d="M73.7 110.3l-.3 1.1M78.7 203.9l-0 .7"/><path stroke-width="6.5" d="M128.5 227.7l-.2 1.3"/></g><g stroke="#616161"><path stroke-width="5.5" d="M70.7 81.3l-.3 1M162.3 39.2l.5 1.9M128.4 143.2l.6 1.6"/><path stroke-width="4" d="M143.5 31.5l-.1 1.6M144.5 148.4l.3 .9M198.2 156.2l-0 .3"/><path stroke-width="5" d="M149.8 218.4l.1 .3"/><path stroke-width="6" d="M78.4 230.2l0 .1M183.7 270.3l.4 .9M121 91.2l0 1M49.4 117.2l.9 2.2M115.7 245.6l.1 1.2M137.2 132.5l.4 1.7"/><path stroke-width="6.5" d="M196.7 73.6l-.1 3.3M139.1 165.9l.2 1.1"/></g><g stroke="#626262"><path stroke-width="6" d="M88.8 160.2l.7 2.8M53.7 42.7l-.1 .3"/><path stroke-width="5.5" d="M134.1 110.3l-.3 1.8"/><path stroke-width="5" d="M57.3 263.4l.1 .7M157.9 272.7l-.6 1.5"/><path stroke-width="6.5" d="M60.6 158.8l-0 .2M178.9 207.5l1 2.5"/><path stroke-width="4.5" d="M200.6 248.2l-.3 .7"/><path stroke-width="4" d="M91.9 97.1l-.1 1"/></g><g stroke="#636363"><path stroke-width="5.5" d="M187.7 250.2l-.5 1.9"/><path stroke-width="5" d="M163.8 42.5l-.3 2.5M120.4 65.6l.1 1.5M50.8 227.4l.1 .7M204.6 163.8l-.1 .8M98.5 204.5l.2 1.3M125.4 254.3l-.1 1.7M61 249.6l.7 1.9"/><path stroke-width="6" d="M106.6 208.9l-0 1.3"/><path stroke-width="4.5" d="M186 64.2l0 1.2"/><path stroke-width="6.5" d="M143 212.6l.6 1.4"/></g><g stroke="#646464"><path stroke-width="6.5" d="M136.3 72.5l.1 1.8M146.7 207.7l.5 2.2"/><path stroke-width="4.5" d="M134.2 171.7l-.4 .9M136.8 243.1l.2 .4M157.4 167.3l.1 .5M93.4 162.4l-0 1.9M205.9 88.9l.3 1.4"/><path stroke-width="5" d="M204.5 137l.1 .2M104.7 73.7h0"/><path stroke-width="5.5" d="M180 110.7l-0 .8M80.9 74.8l-.2 2.3"/></g><g stroke="#656565"><path stroke-width="5" d="M89.3 271.1l.4 1.1M170.5 227l-.6 1.8M210.5 70.5l.6 1.7"/><path stroke-width="4" d="M120.4 200.9l.3 1"/><path stroke-width="6" d="M33.5 74.9l0 .1M42.5 37.2l-.2 2.4M142.6 191.1l-.3 2.2M209.2 207.6l-.2 .6"/></g><g stroke="#666666"><path stroke-width="5" d="M172.9 183.4l.5 1.2"/><path stroke-width="4.5" d="M76.7 127.9l.4 1.1M91.3 239.7l0 .5M109.8 31.4l-.2 1.3M96.5 127.5h0"/><path stroke-width="6" d="M53.8 83.7l.4 2"/></g><g stroke="#676767"><path stroke-width="6.5" d="M215 222.6l.6 2.2M121.5 126.6l-.1 1.9"/><path stroke-width="5" d="M99.2 61.5h0M154.1 175.8l-.2 .5M178.9 84l.4 2.2M84.3 94.3l-.6 1.6"/></g><g stroke="#686868"><path stroke-width="5.5" d="M178.5 115.4l-.2 2.8"/><path stroke-width="6" d="M151.6 87.1l-.2 .8M35.2 264.2l.2 1.9"/><path stroke-width="5" d="M70.9 201.6l-.4 1.5"/><path stroke-width="4" d="M101.2 28.9l.4 1.8"/><path stroke-width="4.5" d="M182.7 199.1l.8 2"/></g><g stroke="#696969"><path stroke-width="4.5" d="M112.8 103.3l-.1 2.1M162.2 265.9l0 .1"/><path stroke-width="6.5" d="M33.2 129.6l0 .2"/><path stroke-width="5.5" d="M77.7 26.1l-.6 1.4"/></g><g stroke="#6a6a6a"><path stroke-width="6.5" d="M81.9 216.2l.1 .2M189.1 230.5l-.6 3.1"/><path stroke-width="4.5" d="M193.2 39.4l.4 2M66.4 182.4l.3 1.8"/></g><g stroke="#6b6b6b"><path stroke-width="5" d="M112.6 116.5l.1 1.5M175.9 165.2l-.8 1.9"/><path stroke-width="6" d="M169.3 112.9l.2 .6"/></g><g stroke="#6c6c6c"><path stroke-width="6.5" d="M119.8 80.5l-.3 2.5"/><path stroke-width="4" d="M90.4 153.9l-.1 .7"/><path stroke-width="6" d="M204.7 33.6l.3 1.3"/><path stroke-width="4.5" d="M206.1 102.9l.7 1.9"/></g><g stroke="#6d6d6d"><path stroke-width="4" d="M203.6 266.7l.5 1.3"/></g><g stroke="#6e6e6e"><path stroke-width="4" d="M204.4 247.4l.2 .9"/><path stroke-width="5.5" d="M195.1 51.3l.2 1.5"/></g><g stroke="#707070"><path stroke-width="4.5" d="M194.1 260.3l-.1 1.7"/></g><g stroke="#717171"><path stroke-width="5.5" d="M73.4 25.8l.5 2.3"/><path stroke-width="4.5" d="M58.7 202.4l.2 .7"/></g><g stroke="#727272"><path stroke-width="5" d="M175 138l-.7 1.7"/></g><g stroke="#747474"><path stroke-width="6" d="M211.8 234.5l.3 1.9"/><path stroke-width="4.5" d="M152.8 65.7l-.1 .3"/></g><g stroke="#787878"><path stroke-width="4.5" d="M34.6 51.7l-0 .9"/></g><g stroke="#797979"><path stroke-width="6" d="M149 233.2l.1 .3"/></g><g stroke="#7a7a7a"><path stroke-width="5" d="M133.4 219l-.1 .7"/></g></g><g stroke="#303030"><path stroke-width="5" d="M581.4 141.8l-0 2.9"/><path stroke-width="4.5" d="M550.5 144.4l-0 3"/><path stroke-width="3.5" d="M576.9 159.8l-0 4.3"/><path stroke-width="4" d="M542.7 162.7l-0 .9"/></g><g stroke="#313131"><path stroke-width="4" d="M314.8 127.5l-0 1.9"/><path stroke-width="5" d="M550.2 141.7l-0 2.3"/><path stroke-width="3" d="M592.1 162.6l-0 3.6"/></g><g stroke="#323232"><path stroke-width="3.5" d="M558.6 139.7l-0 5.5"/></g><g stroke="#333333"><path stroke-width="3.5" d="M478.7 131.3l-0 4.3"/><path stroke-width="4" d="M349.2 132.3l-0 2.3"/><path stroke-width="3" d="M543.7 141l-0 4.8"/></g><g stroke="#343434"><path stroke-width="3" d="M382.5 125.3l-0 2.7"/><path stroke-width="5" d="M664 161.6l-0 3.2"/><path stroke-width="3.5" d="M604 141.7l-0 3.8"/></g><g stroke="#353535"><path stroke-width="3" d="M455.4 134.3l-0 4.6"/><path stroke-width="4.5" d="M391.1 131.9l-0 4.1"/></g><g stroke="#363636"><path stroke-width="4.5" d="M355.1 157.6l-0 3.3"/><path stroke-width="3.5" d="M526 137.2l-0 3.5"/><path stroke-width="5" d="M326.3 150.3l-0 2.8"/></g><g stroke="#373737"><path stroke-width="3.5" d="M630.5 159.9l-0 5.1M319.3 129.4l-0 4.9M420 157.6l-0 4.8"/><path stroke-width="4.5" d="M483.4 158.6l-0 3.4M309.9 123l-0 3.7"/><path stroke-width="3" d="M307.5 151.5l-0 2.2M464.3 164.8l-0 2.7"/><path stroke-width="4" d="M658.3 143.9l-0 2.4M315.2 129.4l-0 3.2"/></g><g stroke="#383838"><path stroke-width="4" d="M592.5 158.1l-0 2.2"/></g><g stroke="#393939"><path stroke-width="3" d="M450.1 155.9l-0 2.7M473.1 137.7l-0 3.6"/><path stroke-width="4" d="M669.2 142.2l-0 4.1M397.6 155.9l-0 3.5M655.2 143.6l-0 2.9"/><path stroke-width="3.5" d="M477.7 133.9l-0 4M354.1 162.5l-0 1.6M362 127.9l-0 1.9M360.2 152.5l-0 3.2"/><path stroke-width="4.5" d="M588.2 141l-0 4.6"/></g><g stroke="#3a3a3a"><path stroke-width="3" d="M489.6 166.2l-0 3.4"/><path stroke-width="3.5" d="M478.3 141.4l-0 3.3M432.8 154.7l-0 3.3M485.3 134.1l-0 5.3"/><path stroke-width="5" d="M416.6 157.9l-0 1.1M363.2 151.1l-0 2.7M258 166.5l-0 3"/><path stroke-width="4.5" d="M379.8 151.9l-0 1.2"/><path stroke-width="4" d="M598.3 141.7l-0 4.5"/><path stroke-width="6" d="M222 106l-0 4M233 102l-0 4M258 105l-0 4M282 111l-0 4M246 167l-0 2M272 165l-0 2"/></g><g stroke="#3b3b3b"><path stroke-width="5.5" d="M242 32.6l-0 .9"/><path stroke-width="3.5" d="M406.5 127.1l-0 4.1M658.3 156.6l-0 3.2M460.2 139.6l-0 1.6M496 160.1l-0 4.9"/><path stroke-width="3" d="M460.7 153.3l-0 5.2M499 130.7l-0 4.9M464.8 139.7l-0 2"/><path stroke-width="4" d="M328 128l-0 3.8M631.5 143.1l-0 3.5M381.4 133.9l-0 2.6"/><path stroke-width="4.5" d="M379.5 136l-0 3.3"/></g><g stroke="#3c3c3c"><path stroke-width="6.5" d="M235.5 93.3l-0 1.4"/><path stroke-width="4.5" d="M257.3 218.4l-0 3.4M574.1 160.1l-0 1.8M604.3 140.1l-0 1.8M470.1 164.5l-0 2.3"/><path stroke-width="5" d="M225.4 195.7l-0 2.7M446.6 138.4l-0 1.5"/><path stroke-width="3" d="M495 142.2l-0 4.7M538.9 155l-0 6"/><path stroke-width="4" d="M544.6 144.8l-0 4.9M563.7 143.3l-0 3.5M378.4 133.7l-0 3.6M374.7 133.4l-0 3.7"/><path stroke-width="3.5" d="M398.2 155.3l-0 1.4M552.8 161.4l-0 1.8M422.6 128.4l-0 3.3"/></g><g stroke="#3d3d3d"><path stroke-width="4" d="M225.1 76.7l-0 3.2M476.3 138l-0 4.9M541.5 141.9l-0 4.2"/><path stroke-width="6.5" d="M253.4 229l-0 1.8M228.4 243.7l-0 .9M226.7 60l-0 1.2"/><path stroke-width="5.5" d="M221.1 71.2l.5 0"/><path stroke-width="5" d="M241.2 201.8l-0 1.3M397.4 137.3l-0 .9M447.5 138l-0 3M386.6 136.2l-0 .5M311.3 135.1l-0 .4M343.2 140.9l-0 .8"/><path stroke-width="6" d="M237.6 59.4l-0 1.8M246 103l-0 4M270 107l-0 6M294 115l-0 6M236 169l-0 2M298 154l-0 4"/><path stroke-width="4.5" d="M381.3 133.4l-0 3"/><path stroke-width="3" d="M592.2 142.8l-0 3.9"/><path stroke-width="3.5" d="M499.1 143.7l-0 2.2M361.8 157.7l-0 5.3M357.5 134.1l-0 4"/><path stroke-width="8" d="M212 123l-0 6M226 167l-0 2"/></g><path d="M296 139.9L304 143L312 144.2L318 140.5L327 140.4L333 143.5L337 148L341 151.6L345 152L349 148L353 144.8L364 144.7L374 144.6L381 144.9L386 146.5L392 148L400 148" fill="none" stroke="#3d3d3d" stroke-width="21" stroke-linecap="butt" stroke-linejoin="round"/><path d="M450 148.2L456 148.3L470 148.5L476 150.5L482 151.5L500 151.6L530 151.6" fill="none" stroke="#3d3d3d" stroke-width="20" stroke-linecap="butt" stroke-linejoin="round"/><g stroke="#3e3e3e"><path stroke-width="5" d="M278.9 90.5l.2 0M661.3 162.7l-0 1.1M453.8 157.4l-0 2.9M505 168.3l-0 4M393.6 132.2l-0 .4"/><path stroke-width="6" d="M224.8 76.8l-0 1.5"/><path stroke-width="5.5" d="M253.9 60.4l-0 2.7"/><path stroke-width="4" d="M238.7 46.8l-0 3.2M480.5 158.8l-0 3.3M495.5 157.3l-0 3.8"/><path stroke-width="4.5" d="M227.9 64.4l-0 .7M328.2 131.5l-0 1.1M594.2 158l-0 2.7M483.5 164.3l-0 4.2M653.3 142.1l-0 2M464.5 162l-0 4"/><path stroke-width="3.5" d="M648.3 159.3l-0 4.9"/><path stroke-width="3" d="M465.7 139.9l-0 2.3M401.3 135.7l-0 3.1M406.1 162.5l-0 2.7"/></g><g stroke="#3f3f3f"><path stroke-width="5.5" d="M223.1 92.1l-0 2"/><path stroke-width="5" d="M227.8 238.4h0M227.6 188.7l.6 0M437.8 162.5l-0 2.1"/><path stroke-width="4.5" d="M223.2 103.3l-0 1M302.1 150l-0 3.3"/><path stroke-width="3" d="M321.4 152.9l-0 3.8M341.7 157.6l-0 3.9"/><path stroke-width="3.5" d="M488.6 160.8l-0 1.8M473 141.1l-0 3.5M341 138.9l-0 4.2"/><path stroke-width="4" d="M392.7 132.7l-0 2"/></g><g stroke="#404040"><path stroke-width="5" d="M254.6 43.5l-0 1.7M460.1 157.1l-0 2.2"/><path stroke-width="4.5" d="M221.1 82.6l-0 .5M355.9 130.9l-0 3.2"/><path stroke-width="4" d="M304.8 131.6l-0 4.1M586.1 159.9l-0 1.6M406.2 129.2l-0 4.1M366.2 135.8l-0 1.1"/><path stroke-width="3.5" d="M334.9 126.2l-0 5.2M346.8 130l-0 2.7M503.6 163.8l-0 5.3"/><path stroke-width="3" d="M322.7 120.1l-0 2.8M553.3 146.7l-0 3.2M331.3 129.4l-0 2.9"/><path stroke-width="12" d="M252 160h0"/><path stroke-width="10" d="M275 158l2 0M290 152l-0 2"/><path stroke-width="8" d="M214 149l-0 6"/></g><g stroke="#414141"><path stroke-width="5" d="M217.3 38.1l-0 2.8M648.9 143.1l-0 2.1M578.9 143.2l-0 3.6M365.9 134.3l-0 .4"/><path stroke-width="6" d="M273.1 72.2l-0 1.8"/><path stroke-width="4" d="M218.4 79.4l-0 4.3"/><path stroke-width="3.5" d="M308.9 148.1l-0 5M516.9 156.2l-0 4.5"/><path stroke-width="4.5" d="M557.7 147.5l-0 3.4"/><path stroke-width="3" d="M301.1 156.7l-0 3"/></g><g stroke="#424242"><path stroke-width="5.5" d="M218.7 256.7l-0 .2"/><path stroke-width="3.5" d="M436.2 155.1l-0 4.5M594.3 139.1l-0 5.2M508.8 167l-0 2.5M366.8 133.3l-0 4.4"/><path stroke-width="5" d="M521.1 140l-0 2.5M538.3 141.6l-0 3.8M519.4 142.6l-0 2.5M549.8 146.1l-0 2.4"/><path stroke-width="3" d="M327.8 145.8l-0 4.9M300.9 132.3l-0 3.2"/><path stroke-width="4.5" d="M593 142.1l-0 2.5"/><path stroke-width="4" d="M425.7 165.6l-0 1.4M553.4 142l-0 4"/></g><g stroke="#434343"><path stroke-width="5.5" d="M219.7 213.1l.2 0"/><path stroke-width="5" d="M256.2 79.7h0M501.1 133.3l-0 2.8M450.7 161.3l-0 1.6"/><path stroke-width="4" d="M246.7 96.5l-0 2M279.2 99.2l-0 1.9M307.3 154.6l-0 2.7M481.2 143.3l-0 2.1"/><path stroke-width="6" d="M238 80.3l-0 1.8"/><path stroke-width="4.5" d="M310.8 131.5l-0 2.3"/><path stroke-width="3.5" d="M338 157.8l-0 4.2M649.4 143.2l-0 1.9M527.1 168.1l-0 2"/><path stroke-width="3" d="M373.9 132.1l-0 2.5"/><path stroke-width="12" d="M224 147l-0 6"/><path stroke-width="10" d="M262 159l-0 2"/></g><g stroke="#444444"><path stroke-width="6" d="M227.5 187.7l-0 .1"/><path stroke-width="3.5" d="M224.3 99.6l-0 2.4"/><path stroke-width="4.5" d="M492.4 132.6l-0 3.8M420.8 138.5l-0 2.9"/><path stroke-width="3" d="M656.1 159.9l-0 2.6M384.5 152.9l-0 6.1M296.5 130.9l-0 2.8M322.5 147.3l-0 2.9M476.6 166.5l-0 2.1M628.5 141.3l-0 5.1"/><path stroke-width="4" d="M509.5 144.3l-0 1.6M650.8 160.2l-0 3.8"/><path stroke-width="5" d="M483.6 158.3l-0 2.8"/></g><g stroke="#454545"><path stroke-width="3.5" d="M225.8 235.5l-0 2.3M539.3 160.6l-0 4.8M351.7 135.6l-0 3.4"/><path stroke-width="4" d="M222 95.9l-0 1.9M307.6 132.7l-0 2.3M585.7 163.6l-0 1.7M439.3 156.1l-0 1.2M328.2 133.3l-0 2M301.9 132.4l-0 4.5M482.8 161.7l-0 1.5M518.1 162.5l-0 3.6"/><path stroke-width="3" d="M658.8 155.7l-0 5.9M304.4 159.3l-0 2.3M298.8 149l-0 2.6"/><path stroke-width="4.5" d="M419 155.4l-0 3M352.1 153.8l-0 1.8M392.4 153.9l-0 4.7M491.8 160.7l-0 3M360.5 133.1l-0 3.1"/><path stroke-width="5" d="M476 166.1l-0 1.6M556.3 142.9l-0 1.6"/></g><g stroke="#464646"><path stroke-width="5" d="M237.7 51.5l.8 0M524.1 141.5l-0 3.4M389.4 157l-0 .3"/><path stroke-width="4" d="M218.7 98.5l-0 2.4M229.3 231.9l-0 2.5M490.3 158.8l-0 4.8M504.8 156.2l-0 4M478.8 139.7l-0 3.7M457.2 155.3l-0 2.8"/><path stroke-width="4.5" d="M457 161.5l-0 2.2"/><path stroke-width="3.5" d="M515.1 142.6l-0 2.1M329 156.5l-0 4.9M536.2 157l-0 3.4"/><path stroke-width="3" d="M458 155.4l-0 3.6M389.8 127.2l-0 5.5M302.2 133.5l-0 3.3"/></g><g stroke="#474747"><path stroke-width="4" d="M260.7 233.2l-0 3.2M476.2 142.2l-0 2.9M415.6 136.2l-0 3.8"/><path stroke-width="4.5" d="M236.4 79.2l-0 .4M253.7 244.9l-0 1.2M478.6 164.3l-0 1.1"/><path stroke-width="5" d="M326.1 152.4l-0 1.9M506.4 158.4l-0 2.1M306.5 131.5l-0 2.8M578.3 144.6l-0 1.8M499 136.1l-0 .2M360.5 136.6l-0 1.6M462.3 162.3l-0 .2"/><path stroke-width="3" d="M411.9 135.6l-0 3.7"/><path stroke-width="3.5" d="M402.7 129.7l-0 1.8"/></g><g stroke="#484848"><path stroke-width="5.5" d="M234.2 45.6l-0 2.3"/><path stroke-width="3.5" d="M228.9 95.7l-0 3.4M362.5 149.4l-0 5.3M307.6 152.1l-0 2.3M557.2 140.6l-0 4.3M520.5 158.6l-0 1.5"/><path stroke-width="3" d="M481.6 140l-0 3.2M439.8 136.4l-0 3.4"/><path stroke-width="4.5" d="M308 132l-0 3.6M656.7 162.9l-0 1.1M396.9 159.6l-0 2.9"/><path stroke-width="5" d="M458.8 156.1l-0 4.2M410.7 160.2l-0 1.8"/></g><g stroke="#494949"><path stroke-width="5.5" d="M230.5 52.8l-0 1.8"/><path stroke-width="5" d="M247.6 84.1l-0 .3M390.7 160.3l-0 1.4M333.4 155l-0 2.3M480.1 168.5l-0 1.1"/><path stroke-width="4.5" d="M504.3 136l-0 4.2M321.9 152.3l-0 1M305.8 151.4l-0 1.5M315.5 159.1l-0 .6M367.6 135.1l-0 2.1M474.6 157.7l-0 2.6M495.4 159.5l-0 3.2M437.5 157.5l-0 1.4M389.5 154.3l-0 1.8"/><path stroke-width="3.5" d="M326.5 131.5l-0 2.6M465.4 156.3l-0 4.1M414.3 153.5l-0 5"/><path stroke-width="3" d="M452.2 159.5l-0 2.3M519.5 157.3l-0 2.6"/><path stroke-width="4" d="M592.9 137.6l-0 3M554.6 160.8l-0 2.3M580 141.6l-0 4.4M524.4 141.5l-0 2.6"/></g><g stroke="#4a4a4a"><path stroke-width="5.5" d="M223.3 85.4l-0 1.3M218.4 214.2l-0 2.6"/><path stroke-width="4.5" d="M220.6 193.6l-0 3.4M364.4 133l-0 2.3"/><path stroke-width="5" d="M388.6 155l-0 .4M526.8 143.7l-0 .5M501.3 141.1l-0 1.4M549.1 160.1l-0 3.8"/><path stroke-width="3" d="M351.5 154.1l-0 2.3M362.2 153.5l-0 3.4"/><path stroke-width="4" d="M663.3 143.8l-0 3.9M302.2 150.1l-0 1.2M525.6 159.9l-0 4.9"/><path stroke-width="3.5" d="M421.6 136.1l-0 4.5"/></g><g stroke="#4b4b4b"><path stroke-width="5" d="M233.5 69.2l-0 .5M234.6 242.1l-0 1.5M340.6 157.4l-0 .8M530.3 142.9l-0 1.5"/><path stroke-width="6.5" d="M292 86.4l-0 1.5"/><path stroke-width="4" d="M413.6 156.2l-0 4.6M586.5 142.4l-0 2.3M345.7 157.4l-0 4.5M307 147.5l-0 5"/><path stroke-width="3.5" d="M351.9 151.2l-0 3.3M511.4 142.2l-0 4.2M454.7 157.8l-0 2.7M321 148l-0 5.4M446.8 138.7l-0 2.1"/><path stroke-width="3" d="M450.6 136.6l-0 5.6M588 143l-0 5M655.6 157.2l-0 3.4M470.9 137.8l-0 3.5"/><path stroke-width="4.5" d="M328.3 131.7l-0 2.6M458.5 139.7l-0 2.3M621.2 144.4l-0 .9"/></g><g stroke="#4c4c4c"><path stroke-width="5" d="M271.8 88.1l1 0"/><path stroke-width="4" d="M525.5 157.7l-0 2.5M670.9 142.4l-0 2.9M671.2 143l-0 4.8"/><path stroke-width="3" d="M397.2 137.6l-0 3.3M463.6 138.5l-0 2.1"/><path stroke-width="4.5" d="M338.8 157l-0 1.6"/></g><g stroke="#4d4d4d"><path stroke-width="5" d="M220.6 239.2l-0 1M255.8 219.2l-0 2.2M239 257.8l-0 3.2M242.8 171.7l1.1 0M247.4 75.5l-0 3.4M380.3 135.1l-0 .1"/><path stroke-width="5.5" d="M224.7 51.8l-0 2.1M223.8 55l-0 .2"/><path stroke-width="4" d="M258.6 185.8l-0 1.1M394.5 139.1l-0 3.1M350.3 136.1l-0 2.5"/><path stroke-width="3.5" d="M373.1 132.4l-0 4.2"/><path stroke-width="4.5" d="M361.5 151.5l-0 4M351.9 137.1l-0 2.1M451.3 139.9l-0 2"/><path stroke-width="3" d="M342.6 157.7l-0 2.6M310.8 135.7l-0 3.5M577.9 156.3l-0 4.2"/></g><g stroke="#4e4e4e"><path stroke-width="6" d="M235.2 34.4l-0 2.4"/><path stroke-width="6.5" d="M292 75.9h0"/><path stroke-width="5" d="M219 227.8l-0 .7M527.3 139.8l-0 1.9"/><path stroke-width="4" d="M237.8 250.2l-0 3.5M501.1 141.6l-0 3.9M329.5 149.9l-0 3.8"/><path stroke-width="4.5" d="M465.3 156.1l-0 1.5M486.5 157.1l-0 4.2M411.5 156.6l-0 3.5"/><path stroke-width="3" d="M551.2 145.9l-0 5.3"/></g><g stroke="#4f4f4f"><path stroke-width="6" d="M243.8 231.8l-0 .8M233.9 229.8l-0 2.5"/><path stroke-width="4.5" d="M257.7 57.5l-0 1.5M391.5 139.2l-0 1.1M540.3 142.2l-0 4.4"/><path stroke-width="4" d="M655.8 159l-0 1.8M521 140.4l-0 4M231 107l-0 2M262 108l-0 2M229 164l-0 2"/><path stroke-width="3" d="M525.9 156.8l-0 4.6"/><path stroke-width="5" d="M389.5 152.9l-0 2.7"/></g><g stroke="#505050"><path stroke-width="4.5" d="M236 233.6l-0 3.6M284.4 96.1l-0 2.3M584.8 159.3l-0 1.3M593.1 157.8l-0 1.4"/><path stroke-width="5" d="M228.2 82.4l-0 1.9M593.7 155.8l-0 3.8M505.9 157.5l-0 3.4"/><path stroke-width="3.5" d="M221.7 258.4l-0 3.4M223 80.9l-0 1.5M520.3 157.6l-0 2.6M524.8 139.8l-0 1.9M483.5 158.5l-0 1.3M467.8 154.6l-0 4.5M320.9 147.7l-0 4.3"/><path stroke-width="4" d="M618.7 143.4l-0 2.6M460.7 156.3l-0 1.3M398.1 153.6l-0 3.2"/><path stroke-width="3" d="M459.9 154.5l-0 2.3"/></g><g stroke="#515151"><path stroke-width="6" d="M296.2 264.2l-0 1.6M222.2 49.8l-0 .4"/><path stroke-width="5.5" d="M234.6 40.6l-0 .3M225.6 258.9l-0 .6M238.1 236.9l-0 1.3"/><path stroke-width="4.5" d="M260.4 82.6l-0 2.5M300 149.5l-0 3.9"/><path stroke-width="3.5" d="M358.6 134.7l-0 4.1M375.7 133.3l-0 5.3M325 128.2l-0 4.3M373.4 152.6l-0 3.9"/><path stroke-width="3" d="M319.8 129.8l-0 3.8M591.2 155.6l-0 5M460.8 157l-0 3.4M582.7 156.8l-0 4.7"/><path stroke-width="4" d="M471.9 158.6l-0 2.6M457.2 138.3l-0 3.9M561 159.4l-0 1.2"/></g><g stroke="#525252"><path stroke-width="6" d="M236.6 65.9h0M227.4 97.7l-0 2.1"/><path stroke-width="5" d="M222.9 203.2l1 0M242 187.1h0M473.7 139.5l-0 .3M395.8 139.6l-0 1.1M366.7 153.5l-0 2.5"/><path stroke-width="3" d="M357 151.3l-0 3.3M316.9 128l-0 4.8M498.6 142.2l-0 2.4"/><path stroke-width="3.5" d="M457.7 136.8l-0 4.6"/><path stroke-width="4" d="M351.8 154.1l-0 1.9M512.9 158.3l-0 3.8M333 150l-0 3.9"/><path stroke-width="4.5" d="M589.7 145l-0 1.2"/></g><g stroke="#535353"><path stroke-width="3.5" d="M222.4 94.7l-0 4.1M249 62.1l-0 3.6"/><path stroke-width="4.5" d="M361.4 153.8l-0 .5"/><path stroke-width="5" d="M379.1 134.8l-0 3.6M212 141.5l-0 1"/></g><g stroke="#545454"><path stroke-width="4" d="M232.9 224.1l-0 1.4"/></g><g stroke="#575757"><path stroke-width="4.5" d="M493.4 142.8l.8 0"/><path stroke-width="3.5" d="M324.6 131.1l.1 0"/></g><g stroke="#585858"><path stroke-width="3" d="M359.9 137.8l2.4 0"/></g><g stroke="#595959"><path stroke-width="3" d="M367.3 153.7l.7 0"/><path stroke-width="3.5" d="M308.7 151.6l-0 .9"/></g><g stroke="#5a5a5a"><path stroke-width="4" d="M357.2 153.9l1.4 0"/><path stroke-width="3.5" d="M368.8 135.5l-0 .1M343.8 143.4l-0 1.4M441.2 154.9l1.3 0"/></g><g stroke="#5b5b5b"><path stroke-width="4.5" d="M438.4 155.1l.2 0"/></g><g stroke="#5c5c5c"><path stroke-width="5" d="M551 148.8l1 0"/><path stroke-width="3.5" d="M664.9 144.6l.8 0"/></g><g stroke="#5d5d5d"><path stroke-width="4" d="M587.6 144.8l1.9 0"/></g><g stroke="#5e5e5e"><path stroke-width="3" d="M517.5 160.4l1.5 0"/></g><g stroke="#5f5f5f"><path stroke-width="3.5" d="M516.1 142.4l-0 .2M408.8 140.8l2.3 0"/><path stroke-width="3" d="M494.7 143.4l.3 0"/></g><g stroke="#606060"><path stroke-width="4.5" d="M461.1 140.1l-0 .4"/><path stroke-width="3" d="M550.3 162.1l2.4 0"/></g><g stroke="#616161"><path stroke-width="3.5" d="M489.7 159.1l1 0"/></g><g stroke="#626262"><path stroke-width="4" d="M377.7 136.4l.6 0"/><path stroke-width="3.5" d="M457 157.5l1.6 0"/></g><g stroke="#636363"><path stroke-width="3.5" d="M478.4 141.6l.2 0"/><path stroke-width="5" d="M428.8 156.5h0"/><path stroke-width="3" d="M592 144.8l2.7 0"/></g><g stroke="#646464"><path stroke-width="3.5" d="M476.8 159.3l.2 0"/><path stroke-width="5" d="M546.5 159l5 0"/></g><g stroke="#656565"><path stroke-width="3" d="M334.1 136.8l-0 .9"/></g><g stroke="#666666"><path stroke-width="4.5" d="M526.8 160.3l.7 0"/><path stroke-width="4" d="M319.7 133.1l.2 0"/></g><g stroke="#676767"><path stroke-width="3" d="M315.2 132.7l1.7 0"/><path stroke-width="3.5" d="M304.5 136.2l1.1 0"/></g><g stroke="#686868"><path stroke-width="3.5" d="M652.4 159.4l.9 0M393.5 154.9l-0 .8"/><path stroke-width="4" d="M568.1 158.7l1.9 0M309.2 150.6l1.6 0"/></g><g stroke="#696969"><path stroke-width="4" d="M588.8 144.4l-0 .9"/><path stroke-width="4.5" d="M319.2 147.3l-0 .4M584.2 145l7.6 0"/><path stroke-width="6" d="M667 147l2 0M667 157l2 0"/><path stroke-width="3" d="M436 142.5l-0 1"/><path stroke-width="15" d="M218.5 135.5l-0 2M286.6 126.4l-1.3 9.1"/><path stroke-width="11" d="M228.7 117.8l-3.3 12.4"/><path stroke-width="12.5" d="M238.5 115.5l-3 11M248.8 115.9l-2.6 12.1M258.2 118.4l-2.4 11.2"/><path stroke-width="13.5" d="M267.4 121.9l-1.8 10.2"/><path stroke-width="13" d="M277.1 124l-2.1 12"/><path stroke-width="15.5" d="M296.2 132.3l-.5 5.4"/><path stroke-width="14" d="M232 133l46 0"/><path stroke-width="12" d="M234 143l12 0M286 146l2 0"/><path stroke-width="16" d="M266 146l8 0"/><path stroke-width="10" d="M247 149.2l-2.1 5.6M297 140l-0 6"/><path stroke-width="8" d="M237.7 156.5l-3.4 4.9"/></g><path d="M296 139.9L304 143L312 144.2L318 140.5L327 140.4L333 143.5L337 148L341 151.6L345 152L349 148L353 144.8L364 144.7L374 144.6L381 144.9L386 146.5L392 148L400 148" fill="none" stroke="#696969" stroke-width="15.5" stroke-linecap="butt" stroke-linejoin="round"/><path d="M398 148L415 147.9L440 148.1L452 148.2" fill="none" stroke="#696969" stroke-width="11.6" stroke-linecap="butt" stroke-linejoin="round"/><path d="M450 148.2L456 148.3L470 148.5L476 150.5L482 151.5L500 151.6L527 151.6" fill="none" stroke="#696969" stroke-width="14.5" stroke-linecap="butt" stroke-linejoin="round"/><path d="M525 151.6L540 151.6L544 154L548 155.4L558 155.4L562 152.5L566 151.6L620 151.8L672.5 152" fill="none" stroke="#696969" stroke-width="11.8" stroke-linecap="butt" stroke-linejoin="round"/><g stroke="#6a6a6a"><path stroke-width="4.5" d="M344.8 144.8l.6 0M524.4 143.9l.3 0"/><path stroke-width="3" d="M593.6 157.4l-0 1.6"/></g><g stroke="#6b6b6b"><path stroke-width="5" d="M309.1 152.5l.5 0"/><path stroke-width="4" d="M301.1 133.1l-0 .8"/></g><g stroke="#6d6d6d"><path stroke-width="3.5" d="M515.2 158.5l-0 1.1"/><path stroke-width="5" d="M541.7 159.7l.1 0M590.2 145l.9 0"/><path stroke-width="3" d="M416.5 154.5h0M350.7 138.8l1.8 0"/><path stroke-width="4" d="M513.8 143.8l-0 .3"/></g><g stroke="#6e6e6e"><path stroke-width="4" d="M514.4 141.9l-0 .6"/><path stroke-width="3.5" d="M493.7 159.6l1.6 0"/></g><g stroke="#818181"><path stroke-width="6" d="M234 134l4 0"/></g><g stroke="#848484"><path stroke-width="6" d="M256 136l4 0"/></g><g stroke="#8a8a8a"><path stroke-width="14" d="M238 124l14 0"/><path stroke-width="16" d="M268 131l8 0"/><path stroke-width="6" d="M252 140h0"/></g><g stroke="#8d8d8d"><path stroke-width="6" d="M276 144h0"/></g><g stroke="#939393"><path stroke-width="7" d="M284 147l-0 1"/></g><path d="M296 139.9L304 143L312 144.2L318 140.5L327 140.4L333 143.5L337 148L341 151.6L345 152L349 148L353 144.8L364 144.7L374 144.6L381 144.9L386 146.5L392 148L415 147.9L440 148.1L456 148.3L470 148.5L476 150.5L482 151.5L500 151.6L540 151.6L544 154L548 155.4L558 155.4L562 152.5L566 151.6L620 151.8L672.5 152" fill="none" stroke="#939393" stroke-width="10.4" stroke-linecap="butt" stroke-linejoin="round"/><g stroke="#959595"><path stroke-width="12" d="M219.5 136.3l-0 .4"/><path stroke-width="5" d="M228.5 118.3l-3.1 11.4"/><path stroke-width="6.5" d="M238.3 116l-2.7 10M248.7 116.4l-2.4 11.2M258.1 118.9l-2.2 10.2M235 159.5h0"/><path stroke-width="7.5" d="M267.3 122.4l-1.6 9.3"/><path stroke-width="7" d="M277 124.5l-1.9 11M247.2 140.4l-10.5 16.1"/><path stroke-width="9" d="M286.6 126.9l-1.1 8.1"/><path stroke-width="9.5" d="M296.2 132.3l-.5 5.4M263.8 148.5l2.4 0"/></g><g stroke="#a7a7a7"><path stroke-width="3.5" d="M235 158.7h0"/></g><g stroke="#ababab"><path stroke-width="3.5" d="M232.2 125.4l-.3 1.2"/><path stroke-width="3" d="M268 120.6l-0 .8M246 131h0"/></g><g stroke="#b0b0b0"><path stroke-width="4" d="M262.3 125.2l-.6 1.7"/></g><g stroke="#b2b2b2"><path stroke-width="4" d="M280 139h0"/></g><path d="M298 140.7L304 143L312 144.2L318 140.5L327 140.4L333 143.5L337 148L341 151.6L345 152L349 148L353 144.8L364 144.7L374 144.6L381 144.9L386 146.5L392 148L415 147.9L440 148.1L456 148.3L470 148.5L476 150.5L482 151.5L500 151.6L540 151.6L544 154L548 155.4L558 155.4L562 152.5L566 151.6L620 151.8L672.5 152" fill="none" stroke="#b2b2b2" stroke-width="9.2" stroke-linecap="butt" stroke-linejoin="round"/><g stroke="#b4b4b4"><path stroke-width="4.5" d="M241 119.3l-0 .4"/></g><g stroke="#b5b5b5"><path stroke-width="3.5" d="M225.3 127l-1.1 3"/><path stroke-width="4" d="M283.7 147.3h0"/></g><g stroke="#b7b7b7"><path stroke-width="4.5" d="M227.3 120.2l-.6 2.1"/><path stroke-width="5" d="M267 147.3h0"/></g><g stroke="#b9b9b9"><path stroke-width="5.5" d="M236.8 124.7l.4 0M244.3 147.1l-0 .4"/><path stroke-width="5" d="M250 120.1l-0 1.8"/><path stroke-width="4.5" d="M251.5 127l-0 1"/><path stroke-width="4" d="M284.6 128.7l.8 0"/></g><g stroke="#bcbcbc"><path stroke-width="5.5" d="M276.9 131.3l.2 0"/><path stroke-width="7.5" d="M219.5 136.3l.4 0"/></g><g stroke="#bfbfbf"><path stroke-width="5.5" d="M258.3 132h0"/><path stroke-width="6.5" d="M289 136.5l-0 1"/></g><g stroke="#c2c2c2"><path stroke-width="6.5" d="M294 139h0M300 139.5h0"/></g><g stroke="#c5c5c5"><path stroke-width="5.5" d="M273 134.9l-0 1.2"/></g><g stroke="#c6c6c6"><path stroke-width="2.5" d="M258.3 132h0"/></g><g stroke="#cacaca"><path stroke-width="3" d="M294 139h0"/></g><path d="M303 142.6L304 143L312 144.2L318 140.5L327 140.4L333 143.5L337 148L341 151.6L345 152L349 148L353 144.8L364 144.7L374 144.6L381 144.9L386 146.5L392 148L415 147.9L440 148.1L456 148.3L470 148.5L476 150.5L482 151.5L500 151.6L540 151.6L544 154L548 155.4L558 155.4L562 152.5L566 151.6L620 151.8L672.5 152" fill="none" stroke="#cacaca" stroke-width="7.4" stroke-linecap="butt" stroke-linejoin="round"/><g stroke="#d1d1d1"><path stroke-width="4" d="M221 136h0"/></g><g stroke="#d2d2d2"><path stroke-width="3" d="M273 136h0"/></g><path d="M311.4 144.1L312 144.2L312.6 143.8" fill="none" stroke="#d7d7d7" stroke-width="6.0" stroke-linecap="round" stroke-linejoin="round"/><path d="M317.8 140.7L317.8 140.7" fill="none" stroke="#d7d7d7" stroke-width="6.0" stroke-linecap="round" stroke-linejoin="round"/><path d="M325.9 140.4L327 140.4L328.1 141" fill="none" stroke="#d7d7d7" stroke-width="6.0" stroke-linecap="round" stroke-linejoin="round"/><path d="M334.2 144.9L334.2 144.9" fill="none" stroke="#d7d7d7" stroke-width="6.0" stroke-linecap="round" stroke-linejoin="round"/><path d="M341.9 151.7L343.6 151.9" fill="none" stroke="#d7d7d7" stroke-width="6.0" stroke-linecap="round" stroke-linejoin="round"/><path d="M349.2 147.8L349.2 147.8" fill="none" stroke="#d7d7d7" stroke-width="6.0" stroke-linecap="round" stroke-linejoin="round"/><path d="M356 144.8L359.2 144.7" fill="none" stroke="#d7d7d7" stroke-width="6.0" stroke-linecap="round" stroke-linejoin="round"/><path d="M367.2 144.7L370.6 144.6" fill="none" stroke="#d7d7d7" stroke-width="6.0" stroke-linecap="round" stroke-linejoin="round"/><path d="M375.5 144.7L375.5 144.7" fill="none" stroke="#d7d7d7" stroke-width="6.0" stroke-linecap="round" stroke-linejoin="round"/><path d="M381.2 145L381.2 145" fill="none" stroke="#d7d7d7" stroke-width="6.0" stroke-linecap="round" stroke-linejoin="round"/><path d="M394.9 148L412.1 147.9" fill="none" stroke="#d7d7d7" stroke-width="6.0" stroke-linecap="round" stroke-linejoin="round"/><path d="M419.9 147.9L420.6 147.9" fill="none" stroke="#d7d7d7" stroke-width="6.0" stroke-linecap="round" stroke-linejoin="round"/><path d="M426.4 148L431.6 148" fill="none" stroke="#d7d7d7" stroke-width="6.0" stroke-linecap="round" stroke-linejoin="round"/><path d="M441.4 148.1L442.2 148.1" fill="none" stroke="#d7d7d7" stroke-width="6.0" stroke-linecap="round" stroke-linejoin="round"/><path d="M448.4 148.2L448.6 148.2" fill="none" stroke="#d7d7d7" stroke-width="6.0" stroke-linecap="round" stroke-linejoin="round"/><path d="M453.4 148.3L453.6 148.3" fill="none" stroke="#d7d7d7" stroke-width="6.0" stroke-linecap="round" stroke-linejoin="round"/><path d="M460.5 148.4L460.5 148.4" fill="none" stroke="#d7d7d7" stroke-width="6.0" stroke-linecap="round" stroke-linejoin="round"/><path d="M469.2 148.5L469.2 148.5" fill="none" stroke="#d7d7d7" stroke-width="6.0" stroke-linecap="round" stroke-linejoin="round"/><path d="M474.2 149.9L474.2 149.9" fill="none" stroke="#d7d7d7" stroke-width="6.0" stroke-linecap="round" stroke-linejoin="round"/><path d="M478 150.8L478 150.8" fill="none" stroke="#d7d7d7" stroke-width="6.0" stroke-linecap="round" stroke-linejoin="round"/><path d="M484.4 151.5L490.6 151.5" fill="none" stroke="#d7d7d7" stroke-width="6.0" stroke-linecap="round" stroke-linejoin="round"/><path d="M500.4 151.6L500.6 151.6" fill="none" stroke="#d7d7d7" stroke-width="6.0" stroke-linecap="round" stroke-linejoin="round"/><path d="M507.4 151.6L510.6 151.6" fill="none" stroke="#d7d7d7" stroke-width="6.0" stroke-linecap="round" stroke-linejoin="round"/><path d="M515.4 151.6L537.6 151.6" fill="none" stroke="#d7d7d7" stroke-width="6.0" stroke-linecap="round" stroke-linejoin="round"/><path d="M547 155.1L547 155.1" fill="none" stroke="#d7d7d7" stroke-width="6.0" stroke-linecap="round" stroke-linejoin="round"/><path d="M552.2 155.4L555.1 155.4" fill="none" stroke="#d7d7d7" stroke-width="6.0" stroke-linecap="round" stroke-linejoin="round"/><path d="M564.8 151.9L566 151.6L577.6 151.6" fill="none" stroke="#d7d7d7" stroke-width="6.0" stroke-linecap="round" stroke-linejoin="round"/><path d="M582.4 151.7L583.6 151.7" fill="none" stroke="#d7d7d7" stroke-width="6.0" stroke-linecap="round" stroke-linejoin="round"/><path d="M592 151.7L595.2 151.7" fill="none" stroke="#d7d7d7" stroke-width="6.0" stroke-linecap="round" stroke-linejoin="round"/><path d="M600.4 151.7L620 151.8L635.6 151.9" fill="none" stroke="#d7d7d7" stroke-width="6.0" stroke-linecap="round" stroke-linejoin="round"/><path d="M640.4 151.9L652.6 151.9" fill="none" stroke="#d7d7d7" stroke-width="6.0" stroke-linecap="round" stroke-linejoin="round"/><path d="M657.4 151.9L662.6 152" fill="none" stroke="#d7d7d7" stroke-width="6.0" stroke-linecap="round" stroke-linejoin="round"/><path d="M667.4 152L669.1 152" fill="none" stroke="#d7d7d7" stroke-width="6.0" stroke-linecap="round" stroke-linejoin="round"/><path d="M478 150.8L478.1 150.8" fill="none" stroke="#d9d9d9" stroke-width="2.6" stroke-linecap="round" stroke-linejoin="round"/><path d="M483.2 151.5L491.8 151.6" fill="none" stroke="#dcdcdc" stroke-width="2.6" stroke-linecap="round" stroke-linejoin="round"/><path d="M459.7 148.4L461.3 148.4" fill="none" stroke="#dedede" stroke-width="2.6" stroke-linecap="round" stroke-linejoin="round"/><path d="M547 155.1L547.1 155.1" fill="none" stroke="#e0e0e0" stroke-width="2.6" stroke-linecap="round" stroke-linejoin="round"/><path d="M311.2 144.1L312 144.2L312.8 143.7" fill="none" stroke="#e2e2e2" stroke-width="5.5" stroke-linecap="round" stroke-linejoin="round"/><path d="M317.7 140.7L317.8 140.6" fill="none" stroke="#e2e2e2" stroke-width="5.5" stroke-linecap="round" stroke-linejoin="round"/><path d="M316.7 141.3L318 140.5L318.8 140.5" fill="none" stroke="#e2e2e2" stroke-width="2.6" stroke-linecap="round" stroke-linejoin="round"/><path d="M325.7 140.4L327 140.4L328.3 141.1" fill="none" stroke="#e2e2e2" stroke-width="5.5" stroke-linecap="round" stroke-linejoin="round"/><path d="M334.2 144.9L334.2 144.9" fill="none" stroke="#e2e2e2" stroke-width="5.5" stroke-linecap="round" stroke-linejoin="round"/><path d="M341.7 151.7L343.8 151.9" fill="none" stroke="#e2e2e2" stroke-width="5.5" stroke-linecap="round" stroke-linejoin="round"/><path d="M349.2 147.8L349.2 147.8" fill="none" stroke="#e2e2e2" stroke-width="5.5" stroke-linecap="round" stroke-linejoin="round"/><path d="M348.7 148.3L349 148L349.8 147.4" fill="none" stroke="#e2e2e2" stroke-width="2.6" stroke-linecap="round" stroke-linejoin="round"/><path d="M355.8 144.8L359.4 144.7" fill="none" stroke="#e2e2e2" stroke-width="5.5" stroke-linecap="round" stroke-linejoin="round"/><path d="M367 144.7L370.8 144.6" fill="none" stroke="#e2e2e2" stroke-width="5.5" stroke-linecap="round" stroke-linejoin="round"/><path d="M375.5 144.7L375.5 144.7" fill="none" stroke="#e2e2e2" stroke-width="5.5" stroke-linecap="round" stroke-linejoin="round"/><path d="M375.5 144.7L375.6 144.7" fill="none" stroke="#e2e2e2" stroke-width="2.6" stroke-linecap="round" stroke-linejoin="round"/><path d="M381.2 145L381.2 145" fill="none" stroke="#e2e2e2" stroke-width="5.5" stroke-linecap="round" stroke-linejoin="round"/><path d="M394.7 148L412.3 147.9" fill="none" stroke="#e2e2e2" stroke-width="5.5" stroke-linecap="round" stroke-linejoin="round"/><path d="M419.7 147.9L420.8 147.9" fill="none" stroke="#e2e2e2" stroke-width="5.5" stroke-linecap="round" stroke-linejoin="round"/><path d="M426.2 148L431.8 148" fill="none" stroke="#e2e2e2" stroke-width="5.5" stroke-linecap="round" stroke-linejoin="round"/><path d="M441.2 148.1L442.4 148.1" fill="none" stroke="#e2e2e2" stroke-width="5.5" stroke-linecap="round" stroke-linejoin="round"/><path d="M448.2 148.2L448.8 148.2" fill="none" stroke="#e2e2e2" stroke-width="5.5" stroke-linecap="round" stroke-linejoin="round"/><path d="M453.2 148.3L453.8 148.3" fill="none" stroke="#e2e2e2" stroke-width="5.5" stroke-linecap="round" stroke-linejoin="round"/><path d="M469.2 148.5L469.2 148.5" fill="none" stroke="#e2e2e2" stroke-width="5.5" stroke-linecap="round" stroke-linejoin="round"/><path d="M474.2 149.9L474.2 149.9" fill="none" stroke="#e2e2e2" stroke-width="5.5" stroke-linecap="round" stroke-linejoin="round"/><path d="M474.2 149.9L474.4 150" fill="none" stroke="#e2e2e2" stroke-width="2.6" stroke-linecap="round" stroke-linejoin="round"/><path d="M500.2 151.6L500.8 151.6" fill="none" stroke="#e2e2e2" stroke-width="5.5" stroke-linecap="round" stroke-linejoin="round"/><path d="M499.2 151.6L500 151.6L501.8 151.6" fill="none" stroke="#e2e2e2" stroke-width="2.6" stroke-linecap="round" stroke-linejoin="round"/><path d="M507.2 151.6L510.8 151.6" fill="none" stroke="#e2e2e2" stroke-width="5.5" stroke-linecap="round" stroke-linejoin="round"/><path d="M515.2 151.6L537.8 151.6" fill="none" stroke="#e2e2e2" stroke-width="5.5" stroke-linecap="round" stroke-linejoin="round"/><path d="M552 155.4L555.3 155.4" fill="none" stroke="#e2e2e2" stroke-width="5.5" stroke-linecap="round" stroke-linejoin="round"/><path d="M564.6 151.9L566 151.6L577.8 151.6" fill="none" stroke="#e2e2e2" stroke-width="5.5" stroke-linecap="round" stroke-linejoin="round"/><path d="M582.2 151.7L583.8 151.7" fill="none" stroke="#e2e2e2" stroke-width="5.5" stroke-linecap="round" stroke-linejoin="round"/><path d="M591.8 151.7L595.4 151.7" fill="none" stroke="#e2e2e2" stroke-width="5.5" stroke-linecap="round" stroke-linejoin="round"/><path d="M600.2 151.7L620 151.8L635.8 151.9" fill="none" stroke="#e2e2e2" stroke-width="5.5" stroke-linecap="round" stroke-linejoin="round"/><path d="M640.2 151.9L652.8 151.9" fill="none" stroke="#e2e2e2" stroke-width="5.5" stroke-linecap="round" stroke-linejoin="round"/><path d="M657.2 151.9L662.8 152" fill="none" stroke="#e2e2e2" stroke-width="5.5" stroke-linecap="round" stroke-linejoin="round"/><path d="M667.2 152L669.3 152" fill="none" stroke="#e2e2e2" stroke-width="5.5" stroke-linecap="round" stroke-linejoin="round"/><path d="M380.7 144.9L381 144.9L381.8 145.2" fill="none" stroke="#e7e7e7" stroke-width="2.6" stroke-linecap="round" stroke-linejoin="round"/><path d="M666.2 152L670.3 152" fill="none" stroke="#e8e8e8" stroke-width="2.6" stroke-linecap="round" stroke-linejoin="round"/><path d="M581.2 151.7L584.8 151.7" fill="none" stroke="#e9e9e9" stroke-width="2.6" stroke-linecap="round" stroke-linejoin="round"/><path d="M311 144L312 144.2L313 143.6" fill="none" stroke="#ededed" stroke-width="5.0" stroke-linecap="round" stroke-linejoin="round"/><path d="M310.2 143.9L312 144.2L313.8 143.1" fill="none" stroke="#ededed" stroke-width="2.6" stroke-linecap="round" stroke-linejoin="round"/><path d="M325.5 140.4L327 140.4L328.5 141.2" fill="none" stroke="#ededed" stroke-width="5.0" stroke-linecap="round" stroke-linejoin="round"/><path d="M334.2 144.9L334.2 144.9" fill="none" stroke="#ededed" stroke-width="5.0" stroke-linecap="round" stroke-linejoin="round"/><path d="M341.5 151.7L344 151.9" fill="none" stroke="#ededed" stroke-width="5.0" stroke-linecap="round" stroke-linejoin="round"/><path d="M355.6 144.8L359.6 144.7" fill="none" stroke="#ededed" stroke-width="5.0" stroke-linecap="round" stroke-linejoin="round"/><path d="M366.8 144.7L371 144.6" fill="none" stroke="#ededed" stroke-width="5.0" stroke-linecap="round" stroke-linejoin="round"/><path d="M394.5 148L412.5 147.9" fill="none" stroke="#ededed" stroke-width="5.0" stroke-linecap="round" stroke-linejoin="round"/><path d="M419.5 147.9L421 147.9" fill="none" stroke="#ededed" stroke-width="5.0" stroke-linecap="round" stroke-linejoin="round"/><path d="M418.7 147.9L421.8 148" fill="none" stroke="#ededed" stroke-width="2.6" stroke-linecap="round" stroke-linejoin="round"/><path d="M426 148L432 148" fill="none" stroke="#ededed" stroke-width="5.0" stroke-linecap="round" stroke-linejoin="round"/><path d="M441 148.1L442.6 148.1" fill="none" stroke="#ededed" stroke-width="5.0" stroke-linecap="round" stroke-linejoin="round"/><path d="M448 148.2L449 148.2" fill="none" stroke="#ededed" stroke-width="5.0" stroke-linecap="round" stroke-linejoin="round"/><path d="M453 148.3L454 148.3" fill="none" stroke="#ededed" stroke-width="5.0" stroke-linecap="round" stroke-linejoin="round"/><path d="M469.2 148.5L469.2 148.5" fill="none" stroke="#ededed" stroke-width="5.0" stroke-linecap="round" stroke-linejoin="round"/><path d="M507 151.6L511 151.6" fill="none" stroke="#ededed" stroke-width="5.0" stroke-linecap="round" stroke-linejoin="round"/><path d="M506.2 151.6L511.8 151.6" fill="none" stroke="#ededed" stroke-width="2.6" stroke-linecap="round" stroke-linejoin="round"/><path d="M515 151.6L538 151.6" fill="none" stroke="#ededed" stroke-width="5.0" stroke-linecap="round" stroke-linejoin="round"/><path d="M551.8 155.4L555.5 155.4" fill="none" stroke="#ededed" stroke-width="5.0" stroke-linecap="round" stroke-linejoin="round"/><path d="M564.4 152L566 151.6L578 151.6" fill="none" stroke="#ededed" stroke-width="5.0" stroke-linecap="round" stroke-linejoin="round"/><path d="M591.6 151.7L595.6 151.7" fill="none" stroke="#ededed" stroke-width="5.0" stroke-linecap="round" stroke-linejoin="round"/><path d="M600 151.7L620 151.8L636 151.9" fill="none" stroke="#ededed" stroke-width="5.0" stroke-linecap="round" stroke-linejoin="round"/><path d="M640 151.9L653 151.9" fill="none" stroke="#ededed" stroke-width="5.0" stroke-linecap="round" stroke-linejoin="round"/><path d="M657 151.9L663 152" fill="none" stroke="#ededed" stroke-width="5.0" stroke-linecap="round" stroke-linejoin="round"/><path d="M452.2 148.3L454.8 148.3" fill="none" stroke="#efefef" stroke-width="2.6" stroke-linecap="round" stroke-linejoin="round"/><path d="M656.2 151.9L663.8 152" fill="none" stroke="#efefef" stroke-width="2.6" stroke-linecap="round" stroke-linejoin="round"/><path d="M340.7 151.3L341 151.6L344.8 152" fill="none" stroke="#f2f2f2" stroke-width="2.6" stroke-linecap="round" stroke-linejoin="round"/><path d="M468.4 148.5L470 148.5" fill="none" stroke="#f2f2f2" stroke-width="2.6" stroke-linecap="round" stroke-linejoin="round"/><path d="M590.8 151.7L596.4 151.7" fill="none" stroke="#f2f2f2" stroke-width="2.6" stroke-linecap="round" stroke-linejoin="round"/><path d="M325.3 140.4L327 140.4L328.7 141.3" fill="none" stroke="#f4f4f4" stroke-width="4.6" stroke-linecap="round" stroke-linejoin="round"/><path d="M334.2 144.9L334.2 144.9" fill="none" stroke="#f4f4f4" stroke-width="4.6" stroke-linecap="round" stroke-linejoin="round"/><path d="M333.7 144.3L334.8 145.5" fill="none" stroke="#f4f4f4" stroke-width="2.6" stroke-linecap="round" stroke-linejoin="round"/><path d="M355.4 144.8L359.8 144.7" fill="none" stroke="#f4f4f4" stroke-width="4.6" stroke-linecap="round" stroke-linejoin="round"/><path d="M366.6 144.7L371.2 144.6" fill="none" stroke="#f4f4f4" stroke-width="4.6" stroke-linecap="round" stroke-linejoin="round"/><path d="M394.3 148L412.7 147.9" fill="none" stroke="#f4f4f4" stroke-width="4.6" stroke-linecap="round" stroke-linejoin="round"/><path d="M425.8 148L432.2 148" fill="none" stroke="#f4f4f4" stroke-width="4.6" stroke-linecap="round" stroke-linejoin="round"/><path d="M440.8 148.1L442.8 148.1" fill="none" stroke="#f4f4f4" stroke-width="4.6" stroke-linecap="round" stroke-linejoin="round"/><path d="M447.8 148.2L449.2 148.2" fill="none" stroke="#f4f4f4" stroke-width="4.6" stroke-linecap="round" stroke-linejoin="round"/><path d="M514.8 151.6L538.2 151.6" fill="none" stroke="#f4f4f4" stroke-width="4.6" stroke-linecap="round" stroke-linejoin="round"/><path d="M551.6 155.4L555.7 155.4" fill="none" stroke="#f4f4f4" stroke-width="4.6" stroke-linecap="round" stroke-linejoin="round"/><path d="M564.2 152L566 151.6L578.2 151.6" fill="none" stroke="#f4f4f4" stroke-width="4.6" stroke-linecap="round" stroke-linejoin="round"/><path d="M599.8 151.7L620 151.8L636.2 151.9" fill="none" stroke="#f4f4f4" stroke-width="4.6" stroke-linecap="round" stroke-linejoin="round"/><path d="M639.8 151.9L653.2 151.9" fill="none" stroke="#f4f4f4" stroke-width="4.6" stroke-linecap="round" stroke-linejoin="round"/><path d="M324.7 140.4L327 140.4L329.3 141.6" fill="none" stroke="#f6f6f6" stroke-width="2.6" stroke-linecap="round" stroke-linejoin="round"/><path d="M354.8 144.8L360.4 144.7" fill="none" stroke="#f8f8f8" stroke-width="2.6" stroke-linecap="round" stroke-linejoin="round"/><path d="M366 144.7L371.8 144.6" fill="none" stroke="#f8f8f8" stroke-width="2.6" stroke-linecap="round" stroke-linejoin="round"/><path d="M440.2 148.1L443.4 148.1" fill="none" stroke="#f8f8f8" stroke-width="2.6" stroke-linecap="round" stroke-linejoin="round"/><path d="M447.2 148.2L449.8 148.2" fill="none" stroke="#f8f8f8" stroke-width="2.6" stroke-linecap="round" stroke-linejoin="round"/><path d="M551 155.4L556.3 155.4" fill="none" stroke="#f8f8f8" stroke-width="2.6" stroke-linecap="round" stroke-linejoin="round"/><path d="M639.2 151.9L653.8 151.9" fill="none" stroke="#f8f8f8" stroke-width="2.6" stroke-linecap="round" stroke-linejoin="round"/><path d="M425.2 148L432.8 148" fill="none" stroke="#f9f9f9" stroke-width="2.6" stroke-linecap="round" stroke-linejoin="round"/><path d="M394 148L413 147.9" fill="none" stroke="#fafafa" stroke-width="3.8" stroke-linecap="round" stroke-linejoin="round"/><path d="M514.5 151.6L538.5 151.6" fill="none" stroke="#fafafa" stroke-width="3.8" stroke-linecap="round" stroke-linejoin="round"/><path d="M563.9 152.1L566 151.6L578.5 151.6" fill="none" stroke="#fafafa" stroke-width="3.8" stroke-linecap="round" stroke-linejoin="round"/><path d="M599.5 151.7L620 151.8L636.5 151.9" fill="none" stroke="#fafafa" stroke-width="3.8" stroke-linecap="round" stroke-linejoin="round"/><path d="M393.7 148L413.3 147.9" fill="none" stroke="#fcfcfc" stroke-width="3.0" stroke-linecap="round" stroke-linejoin="round"/><path d="M393.7 148L413.3 147.9" fill="none" stroke="#fcfcfc" stroke-width="2.6" stroke-linecap="round" stroke-linejoin="round"/><path d="M514.2 151.6L538.8 151.6" fill="none" stroke="#fcfcfc" stroke-width="3.0" stroke-linecap="round" stroke-linejoin="round"/><path d="M514.2 151.6L538.8 151.6" fill="none" stroke="#fcfcfc" stroke-width="2.6" stroke-linecap="round" stroke-linejoin="round"/><path d="M563.6 152.1L566 151.6L578.8 151.6" fill="none" stroke="#fcfcfc" stroke-width="3.0" stroke-linecap="round" stroke-linejoin="round"/><path d="M563.6 152.1L566 151.6L578.8 151.6" fill="none" stroke="#fcfcfc" stroke-width="2.6" stroke-linecap="round" stroke-linejoin="round"/><path d="M599.2 151.7L620 151.8L636.8 151.9" fill="none" stroke="#fcfcfc" stroke-width="3.0" stroke-linecap="round" stroke-linejoin="round"/><path d="M599.2 151.7L620 151.8L636.8 151.9" fill="none" stroke="#fcfcfc" stroke-width="2.6" stroke-linecap="round" stroke-linejoin="round"/></g></g>

<polyline points="37.0,560.8 37.2,559.6 37.5,558.8 37.7,561.1 38.0,558.6 38.2,563.0 38.5,561.3 38.7,560.7 39.0,554.9 39.2,552.4 39.5,552.7 39.7,555.2 39.9,561.5 40.2,549.7 40.4,560.6 40.7,554.1 40.9,561.4 41.2,557.2 41.4,557.2 41.7,564.7 41.9,560.3 42.2,561.1 42.4,561.1 42.6,554.0 42.9,561.3 43.1,569.3 43.4,555.5 43.6,563.3 43.9,563.8 44.1,563.7 44.4,557.8 44.6,558.8 44.9,555.6 45.1,559.9 45.3,565.8 45.6,557.3 45.8,552.0 46.1,560.4 46.3,563.8 46.6,559.2 46.8,567.5 47.1,559.5 47.3,560.3 47.6,555.9 47.8,558.8 48.0,563.7 48.3,563.7 48.5,565.4 48.8,563.4 49.0,562.3 49.3,551.8 49.5,556.8 49.8,569.3 50.0,558.1 50.3,563.0 50.5,559.9 50.7,563.1 51.0,560.5 51.2,556.2 51.5,557.0 51.7,561.6 52.0,558.2 52.2,552.0 52.5,562.4 52.7,564.5 53.0,564.1 53.2,564.2 53.4,554.0 53.7,567.1 53.9,559.6 54.2,556.5 54.4,558.4 54.7,557.3 54.9,555.2 55.2,560.1 55.4,560.9 55.7,559.4 55.9,560.8 56.1,559.5 56.4,557.2 56.6,557.8 56.9,562.3 57.1,554.4 57.4,558.0 57.6,564.0 57.9,561.1 58.1,562.8 58.4,560.2 58.6,555.4 58.8,558.6 59.1,560.7 59.3,558.6 59.6,559.5 59.8,560.9 60.1,563.8 60.3,558.3 60.6,565.0 60.8,560.2 61.1,564.2 61.3,564.9 61.5,567.5 61.8,564.6 62.0,564.6 62.3,567.3 62.5,553.4 62.8,556.3 63.0,564.5 63.3,551.5 63.5,561.0 63.8,561.0 64.0,554.1 64.2,556.5 64.5,563.0 64.7,562.6 65.0,557.9 65.2,556.9 65.5,557.4 65.7,562.3 66.0,554.7 66.2,560.4 66.5,554.4 66.7,564.1 66.9,561.2 67.2,565.9 67.4,551.1 67.7,552.1 67.9,557.8 68.2,566.7 68.4,555.6 68.7,565.8 68.9,561.0 69.2,561.0 69.4,563.2 69.6,556.2 69.9,557.8 70.1,555.2 70.4,560.8 70.6,568.4 70.9,558.8 71.1,562.5 71.4,561.9 71.6,561.2 71.9,559.6 72.1,566.0 72.3,560.8 72.6,558.4 72.8,552.8 73.1,565.0 73.3,563.7 73.6,561.7 73.8,559.9 74.1,567.5 74.3,560.5 74.6,558.0 74.8,563.0 75.0,559.3 75.3,560.5 75.5,559.1 75.8,559.8 76.0,553.8 76.3,557.0 76.5,557.4 76.8,554.8 77.0,559.4 77.3,561.6 77.5,556.4 77.7,569.3 78.0,559.9 78.2,562.2 78.5,555.9 78.7,556.8 79.0,567.5 79.2,563.2 79.5,559.9 79.7,554.8 80.0,567.3 80.2,556.7 80.4,558.6 80.7,559.9 80.9,562.1 81.2,560.6 81.4,560.4 81.7,569.0 81.9,561.0 82.2,562.5 82.4,554.6 82.7,563.9 82.9,553.3 83.2,557.8 83.4,569.3 83.6,557.4 83.9,560.6 84.1,555.7 84.4,555.7 84.6,565.5 84.9,558.7 85.1,560.2 85.4,559.3 85.6,554.4 85.9,560.0 86.1,565.2 86.3,557.3 86.6,562.5 86.8,565.3 87.1,555.5 87.3,564.3 87.6,552.4 87.8,563.4 88.1,559.1 88.3,555.8 88.6,560.0 88.8,558.0 89.0,553.4 89.3,565.1 89.5,565.5 89.8,556.2 90.0,558.8 90.3,558.4 90.5,559.5 90.8,555.1 91.0,564.7 91.3,560.8 91.5,556.5 91.7,558.5 92.0,557.4 92.2,559.8 92.5,563.4 92.7,563.5 93.0,556.0 93.2,561.0 93.5,556.8 93.7,553.2 94.0,556.0 94.2,560.5 94.4,554.1 94.7,557.5 94.9,562.5 95.2,557.6 95.4,557.5 95.7,556.5 95.9,552.7 96.2,559.4 96.4,560.7 96.7,561.0 96.9,556.2 97.1,556.3 97.4,564.1 97.6,556.6 97.9,559.2 98.1,548.4 98.4,556.1 98.6,556.1 98.9,554.2 99.1,566.9 99.4,559.0 99.6,552.5 99.8,560.7 100.1,560.4 100.3,560.5 100.6,566.5 100.8,560.2 101.1,560.5 101.3,557.5 101.6,556.2 101.8,560.3 102.1,560.0 102.3,556.6 102.5,558.4 102.8,560.8 103.0,561.1 103.3,558.1 103.5,551.7 103.8,561.5 104.0,558.9 104.3,556.5 104.5,558.4 104.8,555.5 105.0,561.4 105.2,558.9 105.5,553.5 105.7,561.9 106.0,562.5 106.2,559.7 106.5,562.7 106.7,554.1 107.0,565.9 107.2,561.8 107.5,564.9 107.7,549.7 107.9,554.2 108.2,558.0 108.4,559.2 108.7,568.5 108.9,560.3 109.2,555.3 109.4,562.7 109.7,561.3 109.9,557.4 110.2,564.0 110.4,565.5 110.6,559.4 110.9,556.4 111.1,563.4 111.4,562.2 111.6,559.2 111.9,557.0 112.1,559.3 112.4,562.5 112.6,560.7 112.9,548.7 113.1,563.2 113.3,568.3 113.6,562.2 113.8,564.3 114.1,560.6 114.3,569.3 114.6,560.6 114.8,566.7 115.1,567.3 115.3,560.0 115.6,564.3 115.8,554.2 116.0,562.3 116.3,554.1 116.5,563.0 116.8,558.7 117.0,559.7 117.3,556.8 117.5,561.7 117.8,563.8 118.0,556.7 118.3,559.3 118.5,561.7 118.7,558.0 119.0,566.1 119.2,569.3 119.5,561.8 119.7,560.3 120.0,561.3 120.2,557.2 120.5,554.5 120.7,557.5 121.0,561.7 121.2,559.3 121.4,556.9 121.7,556.3 121.9,560.7 122.2,559.2 122.4,563.9 122.7,556.2 122.9,569.3 123.2,560.3 123.4,569.3 123.7,559.2 123.9,563.0 124.1,558.6 124.4,568.3 124.6,563.8 124.9,557.6 125.1,559.9 125.4,563.8 125.6,553.4 125.9,557.5 126.1,558.1 126.4,550.6 126.6,561.9 126.8,569.3 127.1,552.9 127.3,555.5 127.6,561.2 127.8,562.3 128.1,562.1 128.3,559.4 128.6,558.4 128.8,553.4 129.1,568.9 129.3,566.6 129.5,557.8 129.8,560.6 130.0,559.5 130.3,558.9 130.5,556.0 130.8,569.3 131.0,559.7 131.3,563.9 131.5,559.9 131.8,562.0 132.0,567.6 132.2,561.2 132.5,567.4 132.7,557.9 133.0,563.7 133.2,566.9 133.5,564.1 133.7,557.9 134.0,556.8 134.2,559.2 134.5,557.9 134.7,562.2 134.9,559.9 135.2,557.5 135.4,555.4 135.7,558.0 135.9,560.6 136.2,563.9 136.4,562.4 136.7,563.6 136.9,566.2 137.2,562.5 137.4,554.4 137.6,559.7 137.9,554.8 138.1,561.3 138.4,553.3 138.6,560.4 138.9,561.2 139.1,563.2 139.4,560.6 139.6,569.3 139.9,558.8 140.1,564.3 140.3,558.7 140.6,556.5 140.8,558.7 141.1,554.4 141.3,561.5 141.6,553.0 141.8,564.3 142.1,560.5 142.3,563.6 142.6,555.7 142.8,567.2 143.0,565.9 143.3,564.9 143.5,560.1 143.8,564.2 144.0,560.4 144.3,566.1 144.5,553.1 144.8,560.9 145.0,566.6 145.3,564.4 145.5,564.6 145.7,564.2 146.0,561.5 146.2,556.7 146.5,562.8 146.7,558.9 147.0,559.6 147.2,560.2 147.5,560.7 147.7,556.5 148.0,563.7 148.2,561.6 148.4,565.8 148.7,569.3 148.9,564.1 149.2,561.2 149.4,555.0 149.7,560.6 149.9,561.6 150.2,562.0 150.4,561.0 150.7,558.5 150.9,564.8 151.1,561.5 151.4,565.4 151.6,557.7 151.9,562.2 152.1,566.0 152.4,566.0 152.6,556.0 152.9,560.4 153.1,559.2 153.4,566.0 153.6,562.6 153.8,558.0 154.1,560.7 154.3,558.6 154.6,560.9 154.8,558.9 155.1,561.7 155.3,566.1 155.6,569.3 155.8,564.4 156.1,569.0 156.3,552.2 156.5,563.7 156.8,564.0 157.0,562.8 157.3,560.5 157.5,550.9 157.8,556.3 158.0,559.8 158.3,562.4 158.5,556.8 158.8,560.7 159.0,560.1 159.2,560.2 159.5,560.9 159.7,563.3 160.0,559.3 160.2,560.1 160.5,556.8 160.7,559.0 161.0,557.2 161.2,562.5 161.5,569.3 161.7,568.6 161.9,557.9 162.2,562.7 162.4,561.0 162.7,552.8 162.9,551.0 163.2,557.6 163.4,559.8 163.7,554.5 163.9,556.1 164.2,556.5 164.4,556.2 164.6,554.8 164.9,559.4 165.1,563.3 165.4,561.7 165.6,556.5 165.9,559.7 166.1,560.6 166.4,552.1 166.6,564.7 166.9,557.3 167.1,554.7 167.3,569.3 167.6,555.9 167.8,559.0 168.1,557.2 168.3,564.7 168.6,559.2 168.8,554.0 169.1,551.0 169.3,558.0 169.6,569.0 169.8,555.7 170.0,565.9 170.3,556.6 170.5,553.8 170.8,550.2 171.0,559.6 171.3,561.5 171.5,559.9 171.8,551.4 172.0,557.7 172.3,561.8 172.5,558.0 172.7,562.3 173.0,569.3 173.2,554.4 173.5,569.3 173.7,555.6 174.0,559.9 174.2,559.9 174.5,564.1 174.7,558.9 175.0,560.6 175.2,560.0 175.5,562.4 175.7,562.4 175.9,560.2 176.2,564.1 176.4,566.7 176.7,557.5 176.9,557.8 177.2,557.6 177.4,557.4 177.7,557.6 177.9,560.6 178.2,563.7 178.4,557.4 178.6,562.2 178.9,558.6 179.1,569.3 179.4,561.4 179.6,563.5 179.9,556.1 180.1,556.6 180.4,561.2 180.6,557.1 180.9,560.1 181.1,565.4 181.3,557.2 181.6,556.7 181.8,561.0 182.1,559.2 182.3,563.0 182.6,559.7 182.8,555.7 183.1,551.2 183.3,561.8 183.6,557.2 183.8,560.8 184.0,552.5 184.3,557.0 184.5,561.8 184.8,564.7 185.0,564.9 185.3,565.8 185.5,560.2 185.8,564.4 186.0,561.7 186.3,559.2 186.5,558.3 186.7,556.9 187.0,564.7 187.2,560.4 187.5,557.1 187.7,559.7 188.0,568.5 188.2,554.2 188.5,554.4 188.7,566.5 189.0,554.1 189.2,566.3 189.4,557.8 189.7,562.1 189.9,566.0 190.2,566.0 190.4,563.7 190.7,560.2 190.9,559.1 191.2,559.2 191.4,567.2 191.7,561.8 191.9,565.5 192.1,550.0 192.4,558.8 192.6,561.7 192.9,558.7 193.1,569.3 193.4,555.4 193.6,562.7 193.9,564.3 194.1,556.7 194.4,564.2 194.6,562.3 194.8,569.3 195.1,566.9 195.3,560.2 195.6,564.7 195.8,562.2 196.1,558.4 196.3,563.4 196.6,562.6 196.8,567.5 197.1,554.3 197.3,554.5 197.5,557.1 197.8,563.4 198.0,565.2 198.3,559.9 198.5,561.6 198.8,560.7 199.0,553.3 199.3,556.8 199.5,564.5 199.8,564.2 200.0,565.7 200.2,563.5 200.5,549.4 200.7,561.8 201.0,562.1 201.2,554.6 201.5,568.8 201.7,559.8 202.0,564.7 202.2,564.0 202.5,563.2 202.7,566.7 202.9,559.9 203.2,564.7 203.4,562.5 203.7,555.1 203.9,557.7 204.2,555.2 204.4,552.6 204.7,553.6 204.9,562.6 205.2,554.2 205.4,564.8 205.6,559.4 205.9,559.3 206.1,555.0 206.4,562.1 206.6,556.5 206.9,563.3 207.1,563.5 207.4,553.0 207.6,562.6 207.9,551.4 208.1,564.1 208.3,551.2 208.6,555.8 208.8,566.2 209.1,561.5 209.3,563.6 209.6,549.7 209.8,563.9 210.1,556.8 210.3,567.8 210.6,560.7 210.8,560.0 211.0,553.3 211.3,556.4 211.5,560.3 211.8,566.5 212.0,566.1 212.3,559.3 212.5,555.3 212.8,555.0 213.0,568.0 213.3,561.8 213.5,555.7 213.7,567.2 214.0,562.9 214.2,563.9 214.5,564.3 214.7,562.0 215.0,558.3 215.2,553.1 215.5,554.3 215.7,556.2 216.0,562.4 216.2,556.6 216.4,563.6 216.7,564.0 216.9,566.7 217.2,566.8 217.4,546.8 217.7,567.0 217.9,560.3 218.2,559.9 218.4,556.1 218.7,560.3 218.9,559.5 219.1,555.5 219.4,549.6 219.6,565.2 219.9,561.3 220.1,553.4 220.4,555.9 220.6,562.1 220.9,555.4 221.1,559.5 221.4,563.2 221.6,561.2 221.8,553.5 222.1,565.4 222.3,552.4 222.6,555.3 222.8,555.3 223.1,550.9 223.3,559.8 223.6,561.3 223.8,555.6 224.1,569.3 224.3,563.0 224.5,558.9 224.8,563.4 225.0,558.7 225.3,552.6 225.5,555.4 225.8,558.6 226.0,567.1 226.3,550.3 226.5,558.9 226.8,546.0 227.0,569.3 227.2,561.3 227.5,554.7 227.7,548.3 228.0,563.8 228.2,552.5 228.5,552.3 228.7,549.3 229.0,547.1 229.2,554.0 229.5,554.5 229.7,551.7 229.9,547.3 230.2,556.3 230.4,556.1 230.7,553.6 230.9,559.9 231.2,554.1 231.4,549.9 231.7,553.6 231.9,550.4 232.2,557.6 232.4,548.8 232.6,542.1 232.9,558.4 233.1,555.5 233.4,557.2 233.6,567.1 233.9,550.2 234.1,555.3 234.4,552.9 234.6,538.7 234.9,550.2 235.1,540.6 235.3,551.7 235.6,531.7 235.8,550.2 236.1,546.7 236.3,559.3 236.6,549.3 236.8,559.0 237.1,545.2 237.3,543.2 237.6,544.9 237.8,544.4 238.0,553.8 238.3,551.7 238.5,553.0 238.8,550.0 239.0,552.5 239.3,544.1 239.5,528.7 239.8,542.3 240.0,546.1 240.3,546.9 240.5,545.7 240.7,553.4 241.0,551.5 241.2,552.0 241.5,537.1 241.7,548.1 242.0,514.6 242.2,547.9 242.5,552.9 242.7,542.8 243.0,550.9 243.2,545.5 243.4,549.4 243.7,541.8 243.9,556.2 244.2,555.7 244.4,536.6 244.7,546.6 244.9,545.8 245.2,533.5 245.4,538.9 245.7,546.5 245.9,539.2 246.1,549.5 246.4,553.9 246.6,543.6 246.9,553.0 247.1,548.8 247.4,552.2 247.6,552.2 247.9,550.6 248.1,559.1 248.4,560.5 248.6,550.2 248.8,547.3 249.1,539.0 249.3,521.0 249.6,505.6 249.8,554.6 250.1,556.1 250.3,554.7 250.6,555.6 250.8,544.6 251.1,542.9 251.3,547.2 251.5,558.5 251.8,543.8 252.0,558.3 252.3,555.6 252.5,521.4 252.8,538.2 253.0,544.0 253.3,549.8 253.5,555.4 253.8,553.0 254.0,552.0 254.2,545.3 254.5,557.0 254.7,540.5 255.0,543.2 255.2,549.9 255.5,554.6 255.7,552.2 256.0,552.6 256.2,544.7 256.5,556.3 256.7,532.1 256.9,543.3 257.2,538.0 257.4,539.9 257.7,551.8 257.9,554.8 258.2,540.5 258.4,548.3 258.7,563.4 258.9,550.8 259.2,560.0 259.4,556.8 259.6,557.7 259.9,545.9 260.1,551.3 260.4,566.5 260.6,542.3 260.9,539.4 261.1,541.5 261.4,550.1 261.6,540.9 261.9,532.5 262.1,535.3 262.3,538.9 262.6,547.2 262.8,537.8 263.1,551.5 263.3,549.1 263.6,556.8 263.8,546.2 264.1,503.0 264.3,557.5 264.6,558.1 264.8,554.2 265.1,551.7 265.3,550.3 265.5,544.4 265.8,547.6 266.0,547.7 266.3,564.7 266.5,538.2 266.8,545.8 267.0,550.0 267.3,540.3 267.5,553.8 267.8,522.9 268.0,540.1 268.2,546.2 268.5,550.3 268.7,537.5 269.0,550.4 269.2,559.6 269.5,554.8 269.7,547.7 270.0,548.2 270.2,549.2 270.5,545.9 270.7,540.9 270.9,547.7 271.2,547.2 271.4,564.4 271.7,551.8 271.9,565.9 272.2,547.4 272.4,550.5 272.7,547.9 272.9,540.8 273.2,539.8 273.4,545.3 273.6,555.5 273.9,510.0 274.1,536.5 274.4,547.1 274.6,542.3 274.9,541.8 275.1,560.3 275.4,546.9 275.6,551.9 275.9,546.6 276.1,553.6 276.3,531.7 276.6,535.0 276.8,550.2 277.1,555.9 277.3,528.8 277.6,559.5 277.8,538.0 278.1,543.6 278.3,548.0 278.6,537.7 278.8,542.0 279.0,523.6 279.3,548.0 279.5,562.1 279.8,538.5 280.0,553.5 280.3,562.8 280.5,543.1 280.8,536.9 281.0,548.8 281.3,548.3 281.5,541.9 281.7,537.0 282.0,544.4 282.2,546.1 282.5,554.0 282.7,543.3 283.0,540.9 283.2,511.7 283.5,541.8 283.7,558.4 284.0,549.3 284.2,538.6 284.4,561.7 284.7,557.8 284.9,545.7 285.2,550.8 285.4,555.2 285.7,537.6 285.9,550.2 286.2,527.3 286.4,548.5 286.7,565.0 286.9,540.8 287.1,538.4 287.4,550.4 287.6,543.3 287.9,512.0 288.1,551.6 288.4,559.4 288.6,562.8 288.9,544.9 289.1,524.7 289.4,541.4 289.6,544.0 289.8,536.9 290.1,532.2 290.3,545.9 290.6,534.8 290.8,535.0 291.1,551.8 291.3,536.3 291.6,561.7 291.8,543.6 292.1,545.4 292.3,551.0 292.5,565.0 292.8,525.7 293.0,544.5 293.3,542.5 293.5,551.1 293.8,544.9 294.0,550.3 294.3,546.0 294.5,536.4 294.8,531.8 295.0,554.2 295.2,537.5 295.5,549.4 295.7,547.5 296.0,566.0 296.2,528.9 296.5,545.9 296.7,556.0 297.0,515.7 297.2,529.3 297.5,548.2 297.7,541.3 297.9,550.5 298.2,533.4 298.4,533.9 298.7,555.7 298.9,533.5 299.2,538.4 299.4,555.5 299.7,548.2 299.9,549.1 300.2,559.4 300.4,552.2 300.6,542.6 300.9,527.5 301.1,517.2 301.4,548.0 301.6,558.4 301.9,539.5 302.1,533.2 302.4,535.9 302.6,500.7 302.9,531.6 303.1,508.0 303.3,538.0 303.6,525.1 303.8,548.1 304.1,506.6 304.3,533.2 304.6,531.6 304.8,528.8 305.1,524.3 305.3,546.5 305.6,528.6 305.8,543.6 306.0,537.1 306.3,531.8 306.5,516.6 306.8,544.2 307.0,525.6 307.3,545.0 307.5,514.1 307.8,568.3 308.0,471.0 308.3,537.7 308.5,527.6 308.7,537.3 309.0,526.4 309.2,529.4 309.5,522.8 309.7,527.9 310.0,566.0 310.2,528.7 310.5,552.2 310.7,557.3 311.0,566.0 311.2,547.7 311.4,523.3 311.7,532.3 311.9,518.5 312.2,515.3 312.4,556.9 312.7,545.8 312.9,490.0 313.2,540.5 313.4,522.7 313.7,531.9 313.9,515.0 314.1,536.0 314.4,537.8 314.6,526.3 314.9,546.4 315.1,554.0 315.4,529.8 315.6,537.8 315.9,527.6 316.1,567.0 316.4,549.5 316.6,547.0 316.8,551.2 317.1,522.6 317.3,523.0 317.6,536.8 317.8,525.8 318.1,526.6 318.3,534.9 318.6,536.7 318.8,536.7 319.1,472.0 319.3,523.8 319.5,517.9 319.8,530.8 320.0,527.0 320.3,527.7 320.5,541.7 320.8,519.7 321.0,457.5 321.3,524.4 321.5,543.5 321.8,522.1 322.0,532.8 322.2,524.5 322.5,508.0 322.7,531.5 323.0,509.6 323.2,520.8 323.5,537.1 323.7,562.9 324.0,516.0 324.2,477.2 324.5,520.9 324.7,531.0 324.9,525.3 325.2,541.1 325.4,515.6 325.7,542.4 325.9,530.6 326.2,522.6 326.4,521.0 326.7,526.2 326.9,530.1 327.2,515.0 327.4,512.8 327.6,514.5 327.9,512.6 328.1,528.4 328.4,525.1 328.6,495.8 328.9,509.6 329.1,501.0 329.4,512.1 329.6,509.4 329.9,505.2 330.1,520.9 330.3,508.3 330.6,515.6 330.8,510.4 331.1,506.1 331.3,542.5 331.6,517.0 331.8,482.7 332.1,504.5 332.3,509.6 332.6,509.9 332.8,503.9 333.0,496.5 333.3,521.0 333.5,520.0 333.8,525.3 334.0,530.7 334.3,508.7 334.5,514.7 334.8,502.2 335.0,503.4 335.3,511.6 335.5,491.8 335.7,513.7 336.0,531.4 336.2,521.8 336.5,514.8 336.7,502.0 337.0,500.7 337.2,508.6 337.5,498.0 337.7,501.4 338.0,475.6 338.2,509.4 338.4,519.1 338.7,509.0 338.9,516.3 339.2,520.6 339.4,507.7 339.7,519.1 339.9,512.1 340.2,509.2 340.4,507.5 340.7,521.8 340.9,495.1 341.1,498.0 341.4,512.4 341.6,512.7 341.9,526.8 342.1,483.4 342.4,503.0 342.6,484.3 342.9,523.5 343.1,518.1 343.4,530.0 343.6,503.9 343.8,511.0 344.1,512.7 344.3,487.4 344.6,501.7 344.8,508.5 345.1,491.4 345.3,499.5 345.6,515.7 345.8,509.2 346.1,493.0 346.3,494.1 346.5,508.1 346.8,489.5 347.0,495.1 347.3,501.5 347.5,512.0 347.8,496.1 348.0,498.9 348.3,503.0 348.5,496.9 348.8,498.5 349.0,516.7 349.2,517.7 349.5,504.1 349.7,525.8 350.0,487.3 350.2,476.4 350.5,510.2 350.7,507.8 351.0,516.5 351.2,490.8 351.5,510.0 351.7,480.0 351.9,484.8 352.2,480.7 352.4,516.9 352.7,499.8 352.9,504.1 353.2,492.1 353.4,503.1 353.7,478.6 353.9,503.5 354.2,481.2 354.4,488.2 354.6,469.2 354.9,481.2 355.1,484.3 355.4,474.2 355.6,458.6 355.9,482.1 356.1,489.6 356.4,450.9 356.6,477.5 356.9,478.2 357.1,480.0 357.4,445.3 357.6,472.2 357.8,475.5 358.1,471.0 358.3,451.1 358.6,487.6 358.8,473.6 359.1,468.2 359.3,488.5 359.6,472.7 359.8,480.6 360.1,444.5 360.3,471.9 360.5,456.2 360.8,477.1 361.0,472.8 361.3,470.7 361.5,450.5 361.8,458.2 362.0,509.6 362.3,472.9 362.5,452.2 362.8,453.5 363.0,451.4 363.2,446.0 363.5,440.3 363.7,461.3 364.0,475.8 364.2,469.9 364.5,493.8 364.7,456.1 365.0,464.7 365.2,447.1 365.5,459.6 365.7,472.5 365.9,462.2 366.2,445.0 366.4,442.5 366.7,448.3 366.9,440.4 367.2,438.6 367.4,458.7 367.7,436.9 367.9,443.8 368.2,461.2 368.4,428.2 368.6,463.3 368.9,439.3 369.1,433.9 369.4,449.0 369.6,445.9 369.9,448.6 370.1,473.5 370.4,453.6 370.6,429.4 370.9,445.2 371.1,457.5 371.3,455.2 371.6,436.5 371.8,443.5 372.1,441.2 372.3,432.1 372.6,449.0 372.8,440.4 373.1,446.6 373.3,450.0 373.6,438.8 373.8,468.9 374.0,435.7 374.3,449.1 374.5,443.5 374.8,447.2 375.0,464.8 375.3,430.2 375.5,455.2 375.8,428.9 376.0,451.0 376.3,425.4 376.5,439.0 376.7,432.2 377.0,435.3 377.2,453.9 377.5,455.1 377.7,439.7 378.0,430.8 378.2,451.3 378.5,422.8 378.7,418.2 379.0,436.2 379.2,435.6 379.4,439.2 379.7,436.0 379.9,473.2 380.2,424.1 380.4,429.1 380.7,424.6 380.9,446.3 381.2,422.9 381.4,417.2 381.7,429.8 381.9,423.7 382.1,435.2 382.4,404.2 382.6,440.7 382.9,433.0 383.1,424.3 383.4,420.5 383.6,433.3 383.9,423.9 384.1,432.0 384.4,449.8 384.6,426.9 384.8,439.7 385.1,432.8 385.3,417.0 385.6,440.6 385.8,433.1 386.1,411.3 386.3,426.8 386.6,445.4 386.8,433.5 387.1,430.9 387.3,415.3 387.5,423.3 387.8,414.1 388.0,429.2 388.3,411.8 388.5,385.7 388.8,426.9 389.0,449.7 389.3,434.9 389.5,428.1 389.8,452.0 390.0,420.3 390.2,425.2 390.5,411.8 390.7,401.3 391.0,416.0 391.2,427.2 391.5,395.3 391.7,403.5 392.0,413.0 392.2,422.7 392.5,422.4 392.7,420.4 392.9,404.3 393.2,416.2 393.4,433.1 393.7,406.7 393.9,407.8 394.2,418.2 394.4,399.5 394.7,410.1 394.9,419.3 395.2,402.7 395.4,384.0 395.6,392.0 395.9,396.8 396.1,403.9 396.4,386.1 396.6,388.0 396.9,407.7 397.1,425.5 397.4,409.6 397.6,400.8 397.9,414.4 398.1,413.6 398.3,412.2 398.6,388.5 398.8,420.8 399.1,386.1 399.3,397.0 399.6,376.4 399.8,403.1 400.1,397.3 400.3,405.9 400.6,396.2 400.8,386.2 401.0,397.5 401.3,383.4 401.5,419.0 401.8,380.4 402.0,403.7 402.3,385.8 402.5,388.9 402.8,390.5 403.0,403.7 403.3,395.9 403.5,396.6 403.7,381.3 404.0,403.0 404.2,391.9 404.5,389.7 404.7,408.3 405.0,402.9 405.2,394.0 405.5,400.7 405.7,381.4 406.0,391.0 406.2,394.1 406.4,386.2 406.7,385.4 406.9,390.3 407.2,406.7 407.4,377.6 407.7,383.5 407.9,390.3 408.2,391.9 408.4,390.3 408.7,368.1 408.9,393.5 409.1,375.9 409.4,385.2 409.6,393.5 409.9,392.7 410.1,399.1 410.4,389.1 410.6,400.3 410.9,377.8 411.1,366.0 411.4,383.4 411.6,384.2 411.8,395.9 412.1,405.9 412.3,416.3 412.6,390.6 412.8,359.1 413.1,387.2 413.3,372.4 413.6,382.8 413.8,361.1 414.1,381.5 414.3,385.4 414.5,393.3 414.8,389.8 415.0,394.3 415.3,371.1 415.5,396.2 415.8,384.3 416.0,383.5 416.3,379.8 416.5,403.0 416.8,376.9 417.0,375.6 417.2,389.3 417.5,382.5 417.7,371.5 418.0,385.1 418.2,374.4 418.5,389.4 418.7,368.1 419.0,381.8 419.2,379.8 419.5,389.6 419.7,380.5 419.9,385.1 420.2,380.4 420.4,376.7 420.7,370.2 420.9,383.4 421.2,379.6 421.4,391.1 421.7,370.0 421.9,369.4 422.2,387.7 422.4,396.2 422.6,376.0 422.9,371.2 423.1,377.7 423.4,382.9 423.6,375.1 423.9,376.1 424.1,385.4 424.4,391.7 424.6,370.7 424.9,382.1 425.1,369.4 425.3,399.6 425.6,373.2 425.8,362.1 426.1,375.7 426.3,391.7 426.6,366.7 426.8,380.2 427.1,375.1 427.3,379.7 427.6,385.3 427.8,377.9 428.0,389.5 428.3,372.6 428.5,370.1 428.8,374.0 429.0,354.3 429.3,359.0 429.5,373.9 429.8,383.6 430.0,361.0 430.3,371.8 430.5,382.3 430.7,361.0 431.0,363.6 431.2,355.6 431.5,377.2 431.7,375.4 432.0,358.2 432.2,381.5 432.5,366.9 432.7,368.0 433.0,375.1 433.2,377.8 433.4,362.3 433.7,372.8 433.9,369.7 434.2,383.1 434.4,363.8 434.7,382.8 434.9,354.6 435.2,375.4 435.4,383.6 435.7,375.7 435.9,381.4 436.1,378.7 436.4,357.0 436.6,364.0 436.9,379.8 437.1,371.6 437.4,368.0 437.6,381.8 437.9,373.2 438.1,351.1 438.4,358.8 438.6,369.4 438.8,365.0 439.1,359.9 439.3,366.3 439.6,364.4 439.8,383.2 440.1,367.8 440.3,367.1 440.6,364.8 440.8,363.6 441.1,367.6 441.3,366.0 441.5,367.3 441.8,366.8 442.0,360.0 442.3,368.8 442.5,357.8 442.8,371.4 443.0,376.4 443.3,375.9 443.5,361.4 443.8,357.2 444.0,373.7 444.2,365.4 444.5,386.9 444.7,365.7 445.0,366.7 445.2,369.4 445.5,369.6 445.7,374.4 446.0,368.3 446.2,364.4 446.5,362.0 446.7,358.2 446.9,383.7 447.2,368.6 447.4,375.8 447.7,365.2 447.9,356.3 448.2,358.6 448.4,365.7 448.7,364.4 448.9,356.6 449.2,362.4 449.4,364.8 449.7,347.0 449.9,351.3 450.1,347.2 450.4,349.8 450.6,365.7 450.9,365.0 451.1,348.7 451.4,369.7 451.6,372.0 451.9,364.1 452.1,367.0 452.4,367.1 452.6,358.8 452.8,376.5 453.1,356.3 453.3,360.5 453.6,344.0 453.8,370.1 454.1,358.6 454.3,377.9 454.6,350.7 454.8,377.0 455.1,345.4 455.3,362.4 455.5,363.7 455.8,360.3 456.0,376.2 456.3,356.2 456.5,361.0 456.8,364.2 457.0,363.3 457.3,361.5 457.5,367.0 457.8,342.0 458.0,367.3 458.2,368.7 458.5,373.3 458.7,359.6 459.0,379.3 459.2,363.8 459.5,331.0 459.7,363.4 460.0,348.8 460.2,370.7 460.5,353.4 460.7,359.7 460.9,367.7 461.2,359.3 461.4,356.5 461.7,367.9 461.9,371.9 462.2,358.9 462.4,361.0 462.7,366.9 462.9,364.3 463.2,361.7 463.4,378.6 463.6,361.3 463.9,356.7 464.1,360.6 464.4,366.7 464.6,358.2 464.9,356.2 465.1,351.6 465.4,380.6 465.6,368.2 465.9,354.5 466.1,367.7 466.3,367.2 466.6,373.2 466.8,356.2 467.1,373.3 467.3,370.2 467.6,354.6 467.8,365.2 468.1,365.5 468.3,366.3 468.6,346.8 468.8,365.7 469.0,360.8 469.3,370.3 469.5,365.4 469.8,359.2 470.0,356.1 470.3,361.7 470.5,366.0 470.8,363.3 471.0,352.9 471.3,376.3 471.5,370.5 471.7,364.4 472.0,365.4 472.2,368.2 472.5,365.7 472.7,362.3 473.0,372.8 473.2,362.7 473.5,361.6 473.7,364.3 474.0,363.2 474.2,365.3 474.4,390.5 474.7,360.1 474.9,367.6 475.2,370.9 475.4,352.7 475.7,362.0 475.9,352.3 476.2,358.5 476.4,352.6 476.7,365.6 476.9,359.4 477.1,372.0 477.4,361.7 477.6,361.0 477.9,359.4 478.1,357.6 478.4,372.1 478.6,353.7 478.9,373.4 479.1,362.5 479.4,354.3 479.6,364.7 479.8,359.1 480.1,358.8 480.3,373.9 480.6,368.8 480.8,342.5 481.1,362.2 481.3,353.2 481.6,370.0 481.8,359.5 482.1,376.5 482.3,381.6 482.5,357.4 482.8,378.5 483.0,377.4 483.3,376.8 483.5,351.8 483.8,372.2 484.0,378.7 484.3,362.7 484.5,362.3 484.8,362.5 485.0,366.2 485.2,385.6 485.5,360.8 485.7,354.7 486.0,349.5 486.2,369.6 486.5,364.2 486.7,368.8 487.0,357.8 487.2,365.5 487.5,358.0 487.7,374.0 487.9,373.5 488.2,371.9 488.4,370.4 488.7,357.3 488.9,370.0 489.2,376.1 489.4,367.3 489.7,372.9 489.9,333.0 490.2,372.8 490.4,369.0 490.6,373.7 490.9,371.6 491.1,361.3 491.4,358.3 491.6,361.0 491.9,367.3 492.1,355.9 492.4,358.4 492.6,364.9 492.9,383.4 493.1,370.8 493.3,348.9 493.6,369.4 493.8,368.0 494.1,361.9 494.3,342.9 494.6,357.4 494.8,366.8 495.1,378.8 495.3,371.7 495.6,361.6 495.8,361.6 496.0,368.4 496.3,367.9 496.5,375.3 496.8,342.9 497.0,364.5 497.3,362.5 497.5,359.6 497.8,361.4 498.0,359.0 498.3,358.2 498.5,351.5 498.7,359.4 499.0,368.0 499.2,373.3 499.5,363.7 499.7,378.4 500.0,376.2 500.2,348.6 500.5,365.8 500.7,365.5 501.0,369.3 501.2,373.7 501.4,361.3 501.7,372.4 501.9,350.3 502.2,369.4 502.4,355.2 502.7,355.1 502.9,371.7 503.2,359.3 503.4,369.6 503.7,364.0 503.9,366.8 504.1,353.7 504.4,365.0 504.6,381.9 504.9,368.8 505.1,363.9 505.4,359.0 505.6,357.4 505.9,357.2 506.1,354.3 506.4,363.7 506.6,374.5 506.8,361.3 507.1,368.4 507.3,368.8 507.6,359.1 507.8,370.2 508.1,364.3 508.3,376.6 508.6,375.4 508.8,362.9 509.1,363.0 509.3,378.5 509.5,357.7 509.8,380.0 510.0,375.2 510.3,361.5 510.5,364.3 510.8,372.0 511.0,356.3 511.3,357.5 511.5,372.1 511.8,367.7 512.0,368.4 512.2,385.9 512.5,367.0 512.7,361.7 513.0,373.3 513.2,370.0 513.5,361.6 513.7,357.9 514.0,368.8 514.2,362.1 514.5,359.1 514.7,360.2 514.9,376.1 515.2,363.9 515.4,367.2 515.7,354.2 515.9,355.2 516.2,351.6 516.4,366.1 516.7,360.4 516.9,349.1 517.2,383.1 517.4,365.9 517.6,359.3 517.9,373.3 518.1,368.7 518.4,368.3 518.6,377.2 518.9,363.9 519.1,371.4 519.4,358.6 519.6,356.8 519.9,357.5 520.1,367.6 520.3,365.7 520.6,361.5 520.8,368.7 521.1,374.3 521.3,354.9 521.6,370.5 521.8,372.9 522.1,368.2 522.3,369.8 522.6,363.4 522.8,356.5 523.0,374.3 523.3,359.6 523.5,370.2 523.8,377.0 524.0,374.2 524.3,367.3 524.5,367.4 524.8,374.4 525.0,376.0 525.3,354.8 525.5,361.4 525.7,368.3 526.0,370.3 526.2,366.1 526.5,366.4 526.7,362.6 527.0,367.6 527.2,353.9 527.5,369.9 527.7,373.1 528.0,336.0 528.2,358.1 528.4,362.5 528.7,367.9 528.9,365.0 529.2,367.8 529.4,368.6 529.7,358.2 529.9,369.5 530.2,384.2 530.4,363.0 530.7,360.4 530.9,368.4 531.1,367.2 531.4,373.6 531.6,370.9 531.9,373.8 532.1,360.9 532.4,368.9 532.6,350.6 532.9,384.6 533.1,363.9 533.4,368.5 533.6,372.0 533.8,373.9 534.1,350.6 534.3,361.0 534.6,361.6 534.8,374.5 535.1,374.6 535.3,371.1 535.6,366.4 535.8,370.6 536.1,372.2 536.3,372.2 536.5,378.6 536.8,357.7 537.0,361.5 537.3,364.1 537.5,378.3 537.8,363.6 538.0,372.9 538.3,369.3 538.5,368.3 538.8,376.0 539.0,367.6 539.3,371.1 539.5,373.8 539.7,374.2 540.0,355.4 540.2,365.3 540.5,370.0 540.7,380.8 541.0,377.5 541.2,373.4 541.5,365.7 541.7,369.4 542.0,346.5 542.2,375.8 542.4,370.3 542.7,371.9 542.9,361.4 543.2,369.2 543.4,362.5 543.7,350.8 543.9,356.1 544.2,367.0 544.4,366.3 544.7,363.2 544.9,357.3 545.1,348.8 545.4,378.1 545.6,360.5 545.9,373.6 546.1,360.0 546.4,368.9 546.6,377.6 546.9,355.8 547.1,380.6 547.4,368.7 547.6,393.8 547.8,362.6 548.1,367.7 548.3,359.8 548.6,354.8 548.8,363.5 549.1,358.8 549.3,375.0 549.6,371.9 549.8,364.4 550.1,374.6 550.3,374.6 550.5,354.4 550.8,360.4 551.0,371.5 551.3,368.1 551.5,364.8 551.8,368.2 552.0,364.2 552.3,364.1 552.5,362.5 552.8,375.8 553.0,359.4 553.2,362.8 553.5,353.3 553.7,372.7 554.0,373.8 554.2,361.3 554.5,354.8 554.7,356.3 555.0,374.0 555.2,358.5 555.5,368.8 555.7,373.9 555.9,357.5 556.2,367.6 556.4,369.4 556.7,361.6 556.9,362.4 557.2,359.0 557.4,371.2 557.7,367.6 557.9,373.9 558.2,367.2 558.4,372.7 558.6,362.3 558.9,353.7 559.1,362.7 559.4,359.4 559.6,359.8 559.9,372.6 560.1,370.6 560.4,368.0 560.6,363.6 560.9,371.6 561.1,365.9 561.3,368.6 561.6,373.0 561.8,364.8 562.1,370.1 562.3,373.6 562.6,357.4 562.8,366.2 563.1,364.3 563.3,360.5 563.6,364.2 563.8,372.7 564.0,365.9 564.3,378.4 564.5,369.2 564.8,371.4 565.0,368.8 565.3,367.1 565.5,369.5 565.8,369.9 566.0,359.8 566.3,361.1 566.5,370.2 566.7,369.2 567.0,356.4 567.2,360.6 567.5,357.0 567.7,377.2 568.0,366.8 568.2,366.9 568.5,367.2 568.7,376.1 569.0,369.6 569.2,369.7 569.4,370.2 569.7,360.6 569.9,359.7 570.2,369.2 570.4,361.1 570.7,359.8 570.9,369.5 571.2,373.2 571.4,371.6 571.7,375.6 571.9,362.4 572.1,373.1 572.4,372.8 572.6,356.7 572.9,357.5 573.1,377.4 573.4,360.9 573.6,357.9 573.9,371.2 574.1,352.4 574.4,370.9 574.6,375.9 574.8,371.0 575.1,368.6 575.3,372.3 575.6,368.5 575.8,356.4 576.1,366.7 576.3,360.6 576.6,378.9 576.8,373.1 577.1,366.3 577.3,370.1 577.5,365.3 577.8,378.3 578.0,361.3 578.3,382.7 578.5,376.1 578.8,359.9 579.0,364.4 579.3,369.5 579.5,371.5 579.8,375.6 580.0,364.3 580.2,360.8 580.5,367.4 580.7,351.0 581.0,361.1 581.2,364.2 581.5,358.9 581.7,385.3 582.0,372.7 582.2,366.9 582.5,372.9 582.7,367.3 582.9,362.6 583.2,371.5 583.4,358.1 583.7,361.7 583.9,374.7 584.2,367.2 584.4,353.0 584.7,360.0 584.9,367.1 585.2,371.5 585.4,349.4 585.6,381.9 585.9,378.0 586.1,356.1 586.4,372.5 586.6,361.5 586.9,369.0 587.1,364.4 587.4,383.7 587.6,381.0 587.9,360.9 588.1,374.3 588.3,384.8 588.6,368.5 588.8,378.5 589.1,365.8 589.3,374.1 589.6,362.5 589.8,370.0 590.1,367.9 590.3,365.2 590.6,363.5 590.8,360.9 591.0,369.1 591.3,369.7 591.5,364.9 591.8,372.4 592.0,374.0 592.3,363.8 592.5,355.3 592.8,371.7 593.0,368.6 593.3,364.9 593.5,380.2 593.7,354.6 594.0,371.7 594.2,368.5 594.5,367.7 594.7,353.0 595.0,361.9 595.2,369.8 595.5,380.3 595.7,363.7 596.0,357.6 596.2,371.9 596.4,381.6 596.7,369.2 596.9,354.4 597.2,364.7 597.4,373.0 597.7,358.5 597.9,377.3 598.2,363.2 598.4,374.0 598.7,368.8 598.9,376.0 599.1,371.3 599.4,365.6 599.6,372.6 599.9,365.3 600.1,363.3 600.4,374.2 600.6,381.4 600.9,365.4 601.1,363.9 601.4,377.8 601.6,358.0 601.8,359.3 602.1,366.0 602.3,358.8 602.6,359.5 602.8,367.0 603.1,363.7 603.3,357.1 603.6,378.8 603.8,362.3 604.1,358.3 604.3,364.2 604.5,371.9 604.8,369.6 605.0,366.6 605.3,398.4 605.5,367.8 605.8,375.2 606.0,361.0 606.3,358.0 606.5,375.5 606.8,375.3 607.0,362.9 607.2,356.5 607.5,371.9 607.7,369.2 608.0,369.9 608.2,367.2 608.5,377.2 608.7,364.6 609.0,380.8 609.2,363.9 609.5,376.4 609.7,372.1 609.9,377.7 610.2,364.6 610.4,372.3 610.7,368.8 610.9,361.4 611.2,357.0 611.4,359.7 611.7,373.2 611.9,358.6 612.2,351.7 612.4,372.7 612.6,374.6 612.9,357.5 613.1,371.5 613.4,361.8 613.6,358.3 613.9,370.6 614.1,358.9 614.4,371.3 614.6,365.9 614.9,357.6 615.1,374.0 615.3,361.3 615.6,364.2 615.8,371.1 616.1,375.6 616.3,362.8 616.6,366.7 616.8,359.7 617.1,355.1 617.3,369.3 617.6,371.3 617.8,376.4 618.0,365.4 618.3,381.5 618.5,360.1 618.8,357.1 619.0,384.7 619.3,375.0 619.5,361.8 619.8,363.4 620.0,374.9 620.3,377.2 620.5,378.7 620.7,376.6 621.0,375.5 621.2,360.9 621.5,372.6 621.7,352.0 622.0,375.3 622.2,365.5 622.5,378.0 622.7,378.1 623.0,373.2 623.2,370.2 623.4,369.1 623.7,363.3 623.9,368.3 624.2,364.7 624.4,369.1 624.7,364.7 624.9,370.2 625.2,361.0 625.4,362.2 625.7,365.1 625.9,378.0 626.1,360.8 626.4,364.6 626.6,366.5 626.9,383.8 627.1,366.1 627.4,361.6 627.6,371.6 627.9,362.0 628.1,354.4 628.4,365.4 628.6,368.5 628.8,361.3 629.1,373.0 629.3,367.8 629.6,373.3 629.8,385.4 630.1,369.4 630.3,340.7 630.6,367.6 630.8,363.1 631.1,377.2 631.3,378.3 631.6,371.0 631.8,378.6 632.0,364.6 632.3,363.4 632.5,373.4 632.8,371.9 633.0,366.3 633.3,364.4 633.5,365.7 633.8,376.2 634.0,367.3 634.3,370.7 634.5,373.3 634.7,370.8 635.0,373.3 635.2,360.7 635.5,365.7 635.7,374.5 636.0,366.5 636.2,380.9 636.5,369.8 636.7,370.1 637.0,370.3 637.2,366.6 637.4,371.1 637.7,374.3 637.9,368.3 638.2,369.4 638.4,364.0 638.7,360.2 638.9,377.4 639.2,365.8 639.4,367.7 639.7,361.4 639.9,362.2 640.1,352.9 640.4,375.0 640.6,362.4 640.9,359.6 641.1,350.7 641.4,362.6 641.6,374.2 641.9,379.7 642.1,351.9 642.4,379.2 642.6,362.6 642.8,359.2 643.1,366.9 643.3,366.0 643.6,373.9 643.8,365.7 644.1,365.5 644.3,367.5 644.6,371.4 644.8,376.8 645.1,368.0 645.3,371.8 645.5,374.3 645.8,372.2 646.0,368.3 646.3,361.5 646.5,363.5 646.8,362.1 647.0,379.1 647.3,355.3 647.5,375.5 647.8,376.0 648.0,370.8 648.2,363.7 648.5,368.0 648.7,370.8 649.0,368.1 649.2,355.2 649.5,361.5 649.7,365.5 650.0,361.0 650.2,369.7 650.5,367.7 650.7,380.5 650.9,364.6 651.2,366.1 651.4,379.4 651.7,374.0 651.9,360.2 652.2,372.9 652.4,361.1 652.7,370.8 652.9,385.0 653.2,365.8 653.4,374.6 653.6,372.1 653.9,378.8 654.1,364.0 654.4,368.4 654.6,372.6 654.9,365.4 655.1,354.1 655.4,353.8 655.6,370.3 655.9,360.2 656.1,356.6 656.3,368.6 656.6,377.6 656.8,362.7 657.1,365.2 657.3,379.8 657.6,365.6 657.8,361.1 658.1,364.6 658.3,364.2 658.6,364.1 658.8,378.9 659.0,362.7 659.3,357.0 659.5,377.2 659.8,369.2 660.0,371.5 660.3,369.3 660.5,371.2 660.8,372.5 661.0,369.6 661.3,356.7 661.5,368.2 661.7,360.8 662.0,369.9 662.2,368.3 662.5,378.0 662.7,351.1 663.0,361.3 663.2,360.7 663.5,360.3 663.7,371.8 664.0,359.9 664.2,360.4 664.4,372.8 664.7,359.0 664.9,356.2 665.2,360.3 665.4,368.4 665.7,357.6 665.9,367.7 666.2,362.3 666.4,374.0 666.7,366.0 666.9,380.8 667.1,366.7 667.4,361.5 667.6,367.9 667.9,365.8 668.1,363.5 668.4,384.9 668.6,376.9 668.9,375.2 669.1,375.3 669.4,360.6 669.6,363.5 669.8,358.9 670.1,375.5 670.3,380.8 670.6,364.6 670.8,367.0 671.1,364.6 671.3,370.1 671.6,368.6 671.8,369.8 672.1,371.3 672.3,368.6 672.5,365.8 672.8,377.1 673.0,370.7 673.3,362.0 673.5,378.1 673.8,367.1 674.0,374.2 674.3,367.1 674.5,380.3 674.8,380.3 675.0,367.9" fill="none" stroke="#ee3333" stroke-width="1.1" stroke-linejoin="round"/>
<g stroke="#222" stroke-width="1"><line x1="44.7" y1="270" x2="44.7" y2="266"/><line x1="44.7" y1="30" x2="44.7" y2="34"/><line x1="85.4" y1="270" x2="85.4" y2="266"/><line x1="85.4" y1="30" x2="85.4" y2="34"/><line x1="126.1" y1="270" x2="126.1" y2="266"/><line x1="126.1" y1="30" x2="126.1" y2="34"/><line x1="166.8" y1="270" x2="166.8" y2="262"/><line x1="166.8" y1="30" x2="166.8" y2="38"/><line x1="207.4" y1="270" x2="207.4" y2="266"/><line x1="207.4" y1="30" x2="207.4" y2="34"/><line x1="248.1" y1="270" x2="248.1" y2="266"/><line x1="248.1" y1="30" x2="248.1" y2="34"/><line x1="288.8" y1="270" x2="288.8" y2="266"/><line x1="288.8" y1="30" x2="288.8" y2="34"/><line x1="329.4" y1="270" x2="329.4" y2="266"/><line x1="329.4" y1="30" x2="329.4" y2="34"/><line x1="370.1" y1="270" x2="370.1" y2="262"/><line x1="370.1" y1="30" x2="370.1" y2="38"/><line x1="410.8" y1="270" x2="410.8" y2="266"/><line x1="410.8" y1="30" x2="410.8" y2="34"/><line x1="451.4" y1="270" x2="451.4" y2="266"/><line x1="451.4" y1="30" x2="451.4" y2="34"/><line x1="492.1" y1="270" x2="492.1" y2="266"/><line x1="492.1" y1="30" x2="492.1" y2="34"/><line x1="532.8" y1="270" x2="532.8" y2="266"/><line x1="532.8" y1="30" x2="532.8" y2="34"/><line x1="573.5" y1="270" x2="573.5" y2="262"/><line x1="573.5" y1="30" x2="573.5" y2="38"/><line x1="614.1" y1="270" x2="614.1" y2="266"/><line x1="614.1" y1="30" x2="614.1" y2="34"/><line x1="654.8" y1="270" x2="654.8" y2="266"/><line x1="654.8" y1="30" x2="654.8" y2="34"/><line x1="37" y1="246.4" x2="45" y2="246.4"/><line x1="675" y1="246.4" x2="667" y2="246.4"/><line x1="37" y1="197.4" x2="45" y2="197.4"/><line x1="675" y1="197.4" x2="667" y2="197.4"/><line x1="37" y1="148.4" x2="45" y2="148.4"/><line x1="675" y1="148.4" x2="667" y2="148.4"/><line x1="37" y1="99.4" x2="45" y2="99.4"/><line x1="675" y1="99.4" x2="667" y2="99.4"/><line x1="37" y1="50.4" x2="45" y2="50.4"/><line x1="675" y1="50.4" x2="667" y2="50.4"/><line x1="37" y1="266.0" x2="41" y2="266.0"/><line x1="675" y1="266.0" x2="671" y2="266.0"/><line x1="37" y1="256.2" x2="41" y2="256.2"/><line x1="675" y1="256.2" x2="671" y2="256.2"/><line x1="37" y1="236.6" x2="41" y2="236.6"/><line x1="675" y1="236.6" x2="671" y2="236.6"/><line x1="37" y1="226.8" x2="41" y2="226.8"/><line x1="675" y1="226.8" x2="671" y2="226.8"/><line x1="37" y1="217.0" x2="41" y2="217.0"/><line x1="675" y1="217.0" x2="671" y2="217.0"/><line x1="37" y1="207.2" x2="41" y2="207.2"/><line x1="675" y1="207.2" x2="671" y2="207.2"/><line x1="37" y1="187.6" x2="41" y2="187.6"/><line x1="675" y1="187.6" x2="671" y2="187.6"/><line x1="37" y1="177.8" x2="41" y2="177.8"/><line x1="675" y1="177.8" x2="671" y2="177.8"/><line x1="37" y1="168.0" x2="41" y2="168.0"/><line x1="675" y1="168.0" x2="671" y2="168.0"/><line x1="37" y1="158.2" x2="41" y2="158.2"/><line x1="675" y1="158.2" x2="671" y2="158.2"/><line x1="37" y1="138.6" x2="41" y2="138.6"/><line x1="675" y1="138.6" x2="671" y2="138.6"/><line x1="37" y1="128.8" x2="41" y2="128.8"/><line x1="675" y1="128.8" x2="671" y2="128.8"/><line x1="37" y1="119.0" x2="41" y2="119.0"/><line x1="675" y1="119.0" x2="671" y2="119.0"/><line x1="37" y1="109.2" x2="41" y2="109.2"/><line x1="675" y1="109.2" x2="671" y2="109.2"/><line x1="37" y1="89.6" x2="41" y2="89.6"/><line x1="675" y1="89.6" x2="671" y2="89.6"/><line x1="37" y1="79.8" x2="41" y2="79.8"/><line x1="675" y1="79.8" x2="671" y2="79.8"/><line x1="37" y1="70.0" x2="41" y2="70.0"/><line x1="675" y1="70.0" x2="671" y2="70.0"/><line x1="37" y1="60.2" x2="41" y2="60.2"/><line x1="675" y1="60.2" x2="671" y2="60.2"/><line x1="37" y1="40.6" x2="41" y2="40.6"/><line x1="675" y1="40.6" x2="671" y2="40.6"/><line x1="37" y1="30.8" x2="41" y2="30.8"/><line x1="675" y1="30.8" x2="671" y2="30.8"/></g><g fill="none"><path d="M37 30H675V270H37" stroke="#6e6e6e" stroke-width="2"/><line x1="37.5" y1="29" x2="37.5" y2="271" stroke="#000" stroke-width="1.3"/></g><g font-size="10.5" fill="#111" stroke="#111" stroke-width="0.25"><text x="166.8" y="284.6" text-anchor="middle">-100</text><text x="370.1" y="284.6" text-anchor="middle">0</text><text x="573.5" y="284.6" text-anchor="middle">100</text><text transform="translate(30.1 246.8) rotate(-90)" text-anchor="middle">-20</text><text transform="translate(30.1 197.8) rotate(-90)" text-anchor="middle">-10</text><text transform="translate(30.1 148.8) rotate(-90)" text-anchor="middle">0</text><text transform="translate(30.1 99.8) rotate(-90)" text-anchor="middle">10</text><text transform="translate(30.1 50.8) rotate(-90)" text-anchor="middle">20</text></g><text x="356" y="292.7" text-anchor="middle" font-size="10.5" fill="#111" stroke="#111" stroke-width="0.1">Height of straight line (km)</text>
<g stroke="#222" stroke-width="1"><line x1="44.7" y1="570" x2="44.7" y2="566"/><line x1="44.7" y1="330" x2="44.7" y2="334"/><line x1="85.4" y1="570" x2="85.4" y2="566"/><line x1="85.4" y1="330" x2="85.4" y2="334"/><line x1="126.1" y1="570" x2="126.1" y2="566"/><line x1="126.1" y1="330" x2="126.1" y2="334"/><line x1="166.8" y1="570" x2="166.8" y2="562"/><line x1="166.8" y1="330" x2="166.8" y2="338"/><line x1="207.4" y1="570" x2="207.4" y2="566"/><line x1="207.4" y1="330" x2="207.4" y2="334"/><line x1="248.1" y1="570" x2="248.1" y2="566"/><line x1="248.1" y1="330" x2="248.1" y2="334"/><line x1="288.8" y1="570" x2="288.8" y2="566"/><line x1="288.8" y1="330" x2="288.8" y2="334"/><line x1="329.4" y1="570" x2="329.4" y2="566"/><line x1="329.4" y1="330" x2="329.4" y2="334"/><line x1="370.1" y1="570" x2="370.1" y2="562"/><line x1="370.1" y1="330" x2="370.1" y2="338"/><line x1="410.8" y1="570" x2="410.8" y2="566"/><line x1="410.8" y1="330" x2="410.8" y2="334"/><line x1="451.4" y1="570" x2="451.4" y2="566"/><line x1="451.4" y1="330" x2="451.4" y2="334"/><line x1="492.1" y1="570" x2="492.1" y2="566"/><line x1="492.1" y1="330" x2="492.1" y2="334"/><line x1="532.8" y1="570" x2="532.8" y2="566"/><line x1="532.8" y1="330" x2="532.8" y2="334"/><line x1="573.5" y1="570" x2="573.5" y2="562"/><line x1="573.5" y1="330" x2="573.5" y2="338"/><line x1="614.1" y1="570" x2="614.1" y2="566"/><line x1="614.1" y1="330" x2="614.1" y2="334"/><line x1="654.8" y1="570" x2="654.8" y2="566"/><line x1="654.8" y1="330" x2="654.8" y2="334"/><line x1="37" y1="569.5" x2="45" y2="569.5"/><line x1="675" y1="569.5" x2="667" y2="569.5"/><line x1="37" y1="522.7" x2="45" y2="522.7"/><line x1="675" y1="522.7" x2="667" y2="522.7"/><line x1="37" y1="475.9" x2="45" y2="475.9"/><line x1="675" y1="475.9" x2="667" y2="475.9"/><line x1="37" y1="429.1" x2="45" y2="429.1"/><line x1="675" y1="429.1" x2="667" y2="429.1"/><line x1="37" y1="382.3" x2="45" y2="382.3"/><line x1="675" y1="382.3" x2="667" y2="382.3"/><line x1="37" y1="335.5" x2="45" y2="335.5"/><line x1="675" y1="335.5" x2="667" y2="335.5"/><line x1="37" y1="560.1" x2="41" y2="560.1"/><line x1="675" y1="560.1" x2="671" y2="560.1"/><line x1="37" y1="550.8" x2="41" y2="550.8"/><line x1="675" y1="550.8" x2="671" y2="550.8"/><line x1="37" y1="541.4" x2="41" y2="541.4"/><line x1="675" y1="541.4" x2="671" y2="541.4"/><line x1="37" y1="532.1" x2="41" y2="532.1"/><line x1="675" y1="532.1" x2="671" y2="532.1"/><line x1="37" y1="513.3" x2="41" y2="513.3"/><line x1="675" y1="513.3" x2="671" y2="513.3"/><line x1="37" y1="504.0" x2="41" y2="504.0"/><line x1="675" y1="504.0" x2="671" y2="504.0"/><line x1="37" y1="494.6" x2="41" y2="494.6"/><line x1="675" y1="494.6" x2="671" y2="494.6"/><line x1="37" y1="485.3" x2="41" y2="485.3"/><line x1="675" y1="485.3" x2="671" y2="485.3"/><line x1="37" y1="466.5" x2="41" y2="466.5"/><line x1="675" y1="466.5" x2="671" y2="466.5"/><line x1="37" y1="457.2" x2="41" y2="457.2"/><line x1="675" y1="457.2" x2="671" y2="457.2"/><line x1="37" y1="447.8" x2="41" y2="447.8"/><line x1="675" y1="447.8" x2="671" y2="447.8"/><line x1="37" y1="438.5" x2="41" y2="438.5"/><line x1="675" y1="438.5" x2="671" y2="438.5"/><line x1="37" y1="419.7" x2="41" y2="419.7"/><line x1="675" y1="419.7" x2="671" y2="419.7"/><line x1="37" y1="410.4" x2="41" y2="410.4"/><line x1="675" y1="410.4" x2="671" y2="410.4"/><line x1="37" y1="401.0" x2="41" y2="401.0"/><line x1="675" y1="401.0" x2="671" y2="401.0"/><line x1="37" y1="391.7" x2="41" y2="391.7"/><line x1="675" y1="391.7" x2="671" y2="391.7"/><line x1="37" y1="372.9" x2="41" y2="372.9"/><line x1="675" y1="372.9" x2="671" y2="372.9"/><line x1="37" y1="363.6" x2="41" y2="363.6"/><line x1="675" y1="363.6" x2="671" y2="363.6"/><line x1="37" y1="354.2" x2="41" y2="354.2"/><line x1="675" y1="354.2" x2="671" y2="354.2"/><line x1="37" y1="344.9" x2="41" y2="344.9"/><line x1="675" y1="344.9" x2="671" y2="344.9"/></g><g fill="none"><path d="M37 330H675V570H37" stroke="#6e6e6e" stroke-width="2"/><line x1="37.5" y1="329" x2="37.5" y2="571" stroke="#000" stroke-width="1.3"/></g><g font-size="10.5" fill="#111" stroke="#111" stroke-width="0.25"><text x="166.8" y="584.6" text-anchor="middle">-100</text><text x="370.1" y="584.6" text-anchor="middle">0</text><text x="573.5" y="584.6" text-anchor="middle">100</text><text transform="translate(30.1 569.9) rotate(-90)" text-anchor="middle">0</text><text transform="translate(30.1 523.1) rotate(-90)" text-anchor="middle">100</text><text transform="translate(30.1 476.3) rotate(-90)" text-anchor="middle">200</text><text transform="translate(30.1 429.5) rotate(-90)" text-anchor="middle">300</text><text transform="translate(30.1 382.7) rotate(-90)" text-anchor="middle">400</text><text transform="translate(30.1 335.9) rotate(-90)" text-anchor="middle">500</text></g><text x="356" y="592.7" text-anchor="middle" font-size="10.5" fill="#111" stroke="#111" stroke-width="0.1">Height of straight line (km)</text>
<g shape-rendering="crispEdges"><rect x="712" y="268.50" width="24" height="1.05" fill="rgb(255,255,255)"/><rect x="712" y="267.50" width="24" height="1.05" fill="rgb(248,242,254)"/><rect x="712" y="266.50" width="24" height="1.05" fill="rgb(238,226,252)"/><rect x="712" y="265.50" width="24" height="1.05" fill="rgb(238,226,252)"/><rect x="712" y="264.50" width="24" height="1.05" fill="rgb(224,204,250)"/><rect x="712" y="263.50" width="24" height="1.05" fill="rgb(207,176,246)"/><rect x="712" y="262.50" width="24" height="1.05" fill="rgb(207,176,246)"/><rect x="712" y="261.50" width="24" height="1.05" fill="rgb(184,140,242)"/><rect x="712" y="260.50" width="24" height="1.05" fill="rgb(184,140,242)"/><rect x="712" y="259.50" width="24" height="1.05" fill="rgb(156,88,240)"/><rect x="712" y="258.50" width="24" height="1.05" fill="rgb(156,88,240)"/><rect x="712" y="257.50" width="24" height="1.05" fill="rgb(132,52,238)"/><rect x="712" y="256.50" width="24" height="1.05" fill="rgb(132,52,238)"/><rect x="712" y="255.50" width="24" height="1.05" fill="rgb(112,22,240)"/><rect x="712" y="254.50" width="24" height="1.05" fill="rgb(107,21,240)"/><rect x="712" y="253.50" width="24" height="1.05" fill="rgb(103,21,240)"/><rect x="712" y="252.50" width="24" height="1.05" fill="rgb(99,20,240)"/><rect x="712" y="251.50" width="24" height="1.05" fill="rgb(94,20,240)"/><rect x="712" y="250.50" width="24" height="1.05" fill="rgb(90,19,240)"/><rect x="712" y="249.50" width="24" height="1.05" fill="rgb(85,19,240)"/><rect x="712" y="248.50" width="24" height="1.05" fill="rgb(81,18,240)"/><rect x="712" y="247.50" width="24" height="1.05" fill="rgb(77,18,240)"/><rect x="712" y="246.50" width="24" height="1.05" fill="rgb(72,17,240)"/><rect x="712" y="245.50" width="24" height="1.05" fill="rgb(68,16,240)"/><rect x="712" y="244.50" width="24" height="1.05" fill="rgb(64,16,240)"/><rect x="712" y="243.50" width="24" height="1.05" fill="rgb(60,16,240)"/><rect x="712" y="242.50" width="24" height="1.05" fill="rgb(57,16,240)"/><rect x="712" y="241.50" width="24" height="1.05" fill="rgb(53,16,240)"/><rect x="712" y="240.50" width="24" height="1.05" fill="rgb(50,16,240)"/><rect x="712" y="239.50" width="24" height="1.05" fill="rgb(46,16,240)"/><rect x="712" y="238.50" width="24" height="1.05" fill="rgb(43,16,240)"/><rect x="712" y="237.50" width="24" height="1.05" fill="rgb(39,16,240)"/><rect x="712" y="236.50" width="24" height="1.05" fill="rgb(36,16,240)"/><rect x="712" y="235.50" width="24" height="1.05" fill="rgb(33,16,240)"/><rect x="712" y="234.50" width="24" height="1.05" fill="rgb(29,16,240)"/><rect x="712" y="233.50" width="24" height="1.05" fill="rgb(26,16,240)"/><rect x="712" y="232.50" width="24" height="1.05" fill="rgb(22,16,240)"/><rect x="712" y="231.50" width="24" height="1.05" fill="rgb(19,16,240)"/><rect x="712" y="230.50" width="24" height="1.05" fill="rgb(16,17,240)"/><rect x="712" y="229.50" width="24" height="1.05" fill="rgb(16,23,240)"/><rect x="712" y="228.50" width="24" height="1.05" fill="rgb(16,29,240)"/><rect x="712" y="227.50" width="24" height="1.05" fill="rgb(16,34,240)"/><rect x="712" y="226.50" width="24" height="1.05" fill="rgb(16,40,240)"/><rect x="712" y="225.50" width="24" height="1.05" fill="rgb(16,46,240)"/><rect x="712" y="224.50" width="24" height="1.05" fill="rgb(16,52,240)"/><rect x="712" y="223.50" width="24" height="1.05" fill="rgb(16,57,240)"/><rect x="712" y="222.50" width="24" height="1.05" fill="rgb(16,63,240)"/><rect x="712" y="221.50" width="24" height="1.05" fill="rgb(16,69,240)"/><rect x="712" y="220.50" width="24" height="1.05" fill="rgb(16,75,240)"/><rect x="712" y="219.50" width="24" height="1.05" fill="rgb(16,80,240)"/><rect x="712" y="218.50" width="24" height="1.05" fill="rgb(16,86,240)"/><rect x="712" y="217.50" width="24" height="1.05" fill="rgb(16,92,240)"/><rect x="712" y="216.50" width="24" height="1.05" fill="rgb(16,97,240)"/><rect x="712" y="215.50" width="24" height="1.05" fill="rgb(16,102,240)"/><rect x="712" y="214.50" width="24" height="1.05" fill="rgb(16,106,240)"/><rect x="712" y="213.50" width="24" height="1.05" fill="rgb(16,111,240)"/><rect x="712" y="212.50" width="24" height="1.05" fill="rgb(16,115,240)"/><rect x="712" y="211.50" width="24" height="1.05" fill="rgb(16,120,240)"/><rect x="712" y="210.50" width="24" height="1.05" fill="rgb(16,124,240)"/><rect x="712" y="209.50" width="24" height="1.05" fill="rgb(16,129,240)"/><rect x="712" y="208.50" width="24" height="1.05" fill="rgb(16,133,240)"/><rect x="712" y="207.50" width="24" height="1.05" fill="rgb(16,138,240)"/><rect x="712" y="206.50" width="24" height="1.05" fill="rgb(16,142,240)"/><rect x="712" y="205.50" width="24" height="1.05" fill="rgb(16,146,240)"/><rect x="712" y="204.50" width="24" height="1.05" fill="rgb(16,151,240)"/><rect x="712" y="203.50" width="24" height="1.05" fill="rgb(16,155,240)"/><rect x="712" y="202.50" width="24" height="1.05" fill="rgb(16,160,240)"/><rect x="712" y="201.50" width="24" height="1.05" fill="rgb(16,164,240)"/><rect x="712" y="200.50" width="24" height="1.05" fill="rgb(16,169,240)"/><rect x="712" y="199.50" width="24" height="1.05" fill="rgb(16,174,240)"/><rect x="712" y="198.50" width="24" height="1.05" fill="rgb(16,180,240)"/><rect x="712" y="197.50" width="24" height="1.05" fill="rgb(16,185,240)"/><rect x="712" y="196.50" width="24" height="1.05" fill="rgb(16,190,240)"/><rect x="712" y="195.50" width="24" height="1.05" fill="rgb(16,196,240)"/><rect x="712" y="194.50" width="24" height="1.05" fill="rgb(16,201,240)"/><rect x="712" y="193.50" width="24" height="1.05" fill="rgb(16,207,240)"/><rect x="712" y="192.50" width="24" height="1.05" fill="rgb(16,212,240)"/><rect x="712" y="191.50" width="24" height="1.05" fill="rgb(16,217,240)"/><rect x="712" y="190.50" width="24" height="1.05" fill="rgb(16,223,240)"/><rect x="712" y="189.50" width="24" height="1.05" fill="rgb(16,228,240)"/><rect x="712" y="188.50" width="24" height="1.05" fill="rgb(16,233,240)"/><rect x="712" y="187.50" width="24" height="1.05" fill="rgb(16,239,240)"/><rect x="712" y="186.50" width="24" height="1.05" fill="rgb(16,240,236)"/><rect x="712" y="185.50" width="24" height="1.05" fill="rgb(16,239,231)"/><rect x="712" y="184.50" width="24" height="1.05" fill="rgb(16,238,226)"/><rect x="712" y="183.50" width="24" height="1.05" fill="rgb(16,238,221)"/><rect x="712" y="182.50" width="24" height="1.05" fill="rgb(16,237,215)"/><rect x="712" y="181.50" width="24" height="1.05" fill="rgb(16,236,210)"/><rect x="712" y="180.50" width="24" height="1.05" fill="rgb(16,236,205)"/><rect x="712" y="179.50" width="24" height="1.05" fill="rgb(16,235,200)"/><rect x="712" y="178.50" width="24" height="1.05" fill="rgb(16,234,195)"/><rect x="712" y="177.50" width="24" height="1.05" fill="rgb(16,234,190)"/><rect x="712" y="176.50" width="24" height="1.05" fill="rgb(16,233,185)"/><rect x="712" y="175.50" width="24" height="1.05" fill="rgb(16,232,179)"/><rect x="712" y="174.50" width="24" height="1.05" fill="rgb(16,232,174)"/><rect x="712" y="173.50" width="24" height="1.05" fill="rgb(16,232,169)"/><rect x="712" y="172.50" width="24" height="1.05" fill="rgb(16,232,164)"/><rect x="712" y="171.50" width="24" height="1.05" fill="rgb(16,232,159)"/><rect x="712" y="170.50" width="24" height="1.05" fill="rgb(16,232,153)"/><rect x="712" y="169.50" width="24" height="1.05" fill="rgb(16,232,148)"/><rect x="712" y="168.50" width="24" height="1.05" fill="rgb(16,232,143)"/><rect x="712" y="167.50" width="24" height="1.05" fill="rgb(16,232,138)"/><rect x="712" y="166.50" width="24" height="1.05" fill="rgb(16,232,132)"/><rect x="712" y="165.50" width="24" height="1.05" fill="rgb(16,232,127)"/><rect x="712" y="164.50" width="24" height="1.05" fill="rgb(16,232,122)"/><rect x="712" y="163.50" width="24" height="1.05" fill="rgb(16,232,117)"/><rect x="712" y="162.50" width="24" height="1.05" fill="rgb(16,232,111)"/><rect x="712" y="161.50" width="24" height="1.05" fill="rgb(16,232,107)"/><rect x="712" y="160.50" width="24" height="1.05" fill="rgb(16,232,102)"/><rect x="712" y="159.50" width="24" height="1.05" fill="rgb(16,232,97)"/><rect x="712" y="158.50" width="24" height="1.05" fill="rgb(16,232,93)"/><rect x="712" y="157.50" width="24" height="1.05" fill="rgb(16,232,88)"/><rect x="712" y="156.50" width="24" height="1.05" fill="rgb(16,232,83)"/><rect x="712" y="155.50" width="24" height="1.05" fill="rgb(16,232,79)"/><rect x="712" y="154.50" width="24" height="1.05" fill="rgb(16,232,74)"/><rect x="712" y="153.50" width="24" height="1.05" fill="rgb(16,232,69)"/><rect x="712" y="152.50" width="24" height="1.05" fill="rgb(16,232,65)"/><rect x="712" y="151.50" width="24" height="1.05" fill="rgb(16,232,60)"/><rect x="712" y="150.50" width="24" height="1.05" fill="rgb(16,232,55)"/><rect x="712" y="149.50" width="24" height="1.05" fill="rgb(16,232,51)"/><rect x="712" y="148.50" width="24" height="1.05" fill="rgb(16,232,46)"/><rect x="712" y="147.50" width="24" height="1.05" fill="rgb(16,232,41)"/><rect x="712" y="146.50" width="24" height="1.05" fill="rgb(16,232,36)"/><rect x="712" y="145.50" width="24" height="1.05" fill="rgb(16,232,32)"/><rect x="712" y="144.50" width="24" height="1.05" fill="rgb(16,232,27)"/><rect x="712" y="143.50" width="24" height="1.05" fill="rgb(16,232,22)"/><rect x="712" y="142.50" width="24" height="1.05" fill="rgb(16,232,18)"/><rect x="712" y="141.50" width="24" height="1.05" fill="rgb(19,232,16)"/><rect x="712" y="140.50" width="24" height="1.05" fill="rgb(25,233,16)"/><rect x="712" y="139.50" width="24" height="1.05" fill="rgb(30,233,16)"/><rect x="712" y="138.50" width="24" height="1.05" fill="rgb(36,234,16)"/><rect x="712" y="137.50" width="24" height="1.05" fill="rgb(41,234,16)"/><rect x="712" y="136.50" width="24" height="1.05" fill="rgb(46,235,16)"/><rect x="712" y="135.50" width="24" height="1.05" fill="rgb(52,235,16)"/><rect x="712" y="134.50" width="24" height="1.05" fill="rgb(57,235,16)"/><rect x="712" y="133.50" width="24" height="1.05" fill="rgb(63,236,16)"/><rect x="712" y="132.50" width="24" height="1.05" fill="rgb(68,236,16)"/><rect x="712" y="131.50" width="24" height="1.05" fill="rgb(73,237,16)"/><rect x="712" y="130.50" width="24" height="1.05" fill="rgb(79,237,16)"/><rect x="712" y="129.50" width="24" height="1.05" fill="rgb(84,238,16)"/><rect x="712" y="128.50" width="24" height="1.05" fill="rgb(89,238,16)"/><rect x="712" y="127.50" width="24" height="1.05" fill="rgb(95,239,16)"/><rect x="712" y="126.50" width="24" height="1.05" fill="rgb(100,239,16)"/><rect x="712" y="125.50" width="24" height="1.05" fill="rgb(106,239,16)"/><rect x="712" y="124.50" width="24" height="1.05" fill="rgb(111,240,16)"/><rect x="712" y="123.50" width="24" height="1.05" fill="rgb(116,240,16)"/><rect x="712" y="122.50" width="24" height="1.05" fill="rgb(122,240,16)"/><rect x="712" y="121.50" width="24" height="1.05" fill="rgb(127,240,16)"/><rect x="712" y="120.50" width="24" height="1.05" fill="rgb(132,240,16)"/><rect x="712" y="119.50" width="24" height="1.05" fill="rgb(137,240,16)"/><rect x="712" y="118.50" width="24" height="1.05" fill="rgb(143,240,16)"/><rect x="712" y="117.50" width="24" height="1.05" fill="rgb(148,240,16)"/><rect x="712" y="116.50" width="24" height="1.05" fill="rgb(153,240,16)"/><rect x="712" y="115.50" width="24" height="1.05" fill="rgb(159,240,16)"/><rect x="712" y="114.50" width="24" height="1.05" fill="rgb(164,240,16)"/><rect x="712" y="113.50" width="24" height="1.05" fill="rgb(169,240,16)"/><rect x="712" y="112.50" width="24" height="1.05" fill="rgb(174,240,16)"/><rect x="712" y="111.50" width="24" height="1.05" fill="rgb(180,240,16)"/><rect x="712" y="110.50" width="24" height="1.05" fill="rgb(185,240,16)"/><rect x="712" y="109.50" width="24" height="1.05" fill="rgb(190,240,16)"/><rect x="712" y="108.50" width="24" height="1.05" fill="rgb(195,240,16)"/><rect x="712" y="107.50" width="24" height="1.05" fill="rgb(200,240,16)"/><rect x="712" y="106.50" width="24" height="1.05" fill="rgb(205,240,16)"/><rect x="712" y="105.50" width="24" height="1.05" fill="rgb(209,240,16)"/><rect x="712" y="104.50" width="24" height="1.05" fill="rgb(214,240,16)"/><rect x="712" y="103.50" width="24" height="1.05" fill="rgb(219,240,16)"/><rect x="712" y="102.50" width="24" height="1.05" fill="rgb(223,240,16)"/><rect x="712" y="101.50" width="24" height="1.05" fill="rgb(228,240,16)"/><rect x="712" y="100.50" width="24" height="1.05" fill="rgb(233,240,16)"/><rect x="712" y="99.50" width="24" height="1.05" fill="rgb(237,240,16)"/><rect x="712" y="98.50" width="24" height="1.05" fill="rgb(240,237,16)"/><rect x="712" y="97.50" width="24" height="1.05" fill="rgb(240,231,16)"/><rect x="712" y="96.50" width="24" height="1.05" fill="rgb(240,225,16)"/><rect x="712" y="95.50" width="24" height="1.05" fill="rgb(240,218,16)"/><rect x="712" y="94.50" width="24" height="1.05" fill="rgb(240,212,16)"/><rect x="712" y="93.50" width="24" height="1.05" fill="rgb(240,206,16)"/><rect x="712" y="92.50" width="24" height="1.05" fill="rgb(240,200,16)"/><rect x="712" y="91.50" width="24" height="1.05" fill="rgb(240,194,16)"/><rect x="712" y="90.50" width="24" height="1.05" fill="rgb(240,187,16)"/><rect x="712" y="89.50" width="24" height="1.05" fill="rgb(240,181,16)"/><rect x="712" y="88.50" width="24" height="1.05" fill="rgb(240,175,16)"/><rect x="712" y="87.50" width="24" height="1.05" fill="rgb(240,169,16)"/><rect x="712" y="86.50" width="24" height="1.05" fill="rgb(240,162,16)"/><rect x="712" y="85.50" width="24" height="1.05" fill="rgb(240,156,16)"/><rect x="712" y="84.50" width="24" height="1.05" fill="rgb(240,150,16)"/><rect x="712" y="83.50" width="24" height="1.05" fill="rgb(240,144,16)"/><rect x="712" y="82.50" width="24" height="1.05" fill="rgb(240,138,16)"/><rect x="712" y="81.50" width="24" height="1.05" fill="rgb(240,133,16)"/><rect x="712" y="80.50" width="24" height="1.05" fill="rgb(240,128,16)"/><rect x="712" y="79.50" width="24" height="1.05" fill="rgb(240,123,16)"/><rect x="712" y="78.50" width="24" height="1.05" fill="rgb(240,117,16)"/><rect x="712" y="77.50" width="24" height="1.05" fill="rgb(240,112,16)"/><rect x="712" y="76.50" width="24" height="1.05" fill="rgb(240,107,16)"/><rect x="712" y="75.50" width="24" height="1.05" fill="rgb(240,102,16)"/><rect x="712" y="74.50" width="24" height="1.05" fill="rgb(240,96,16)"/><rect x="712" y="73.50" width="24" height="1.05" fill="rgb(240,91,16)"/><rect x="712" y="72.50" width="24" height="1.05" fill="rgb(240,86,16)"/><rect x="712" y="71.50" width="24" height="1.05" fill="rgb(240,81,16)"/><rect x="712" y="70.50" width="24" height="1.05" fill="rgb(240,77,16)"/><rect x="712" y="69.50" width="24" height="1.05" fill="rgb(240,73,16)"/><rect x="712" y="68.50" width="24" height="1.05" fill="rgb(240,70,16)"/><rect x="712" y="67.50" width="24" height="1.05" fill="rgb(240,66,16)"/><rect x="712" y="66.50" width="24" height="1.05" fill="rgb(240,63,16)"/><rect x="712" y="65.50" width="24" height="1.05" fill="rgb(240,59,16)"/><rect x="712" y="64.50" width="24" height="1.05" fill="rgb(240,56,16)"/><rect x="712" y="63.50" width="24" height="1.05" fill="rgb(240,52,16)"/><rect x="712" y="62.50" width="24" height="1.05" fill="rgb(240,49,16)"/><rect x="712" y="61.50" width="24" height="1.05" fill="rgb(240,45,16)"/><rect x="712" y="60.50" width="24" height="1.05" fill="rgb(240,42,16)"/><rect x="712" y="59.50" width="24" height="1.05" fill="rgb(240,38,16)"/><rect x="712" y="58.50" width="24" height="1.05" fill="rgb(240,35,16)"/><rect x="712" y="57.50" width="24" height="1.05" fill="rgb(240,31,16)"/><rect x="712" y="56.50" width="24" height="1.05" fill="rgb(240,28,16)"/><rect x="712" y="55.50" width="24" height="1.05" fill="rgb(240,24,16)"/><rect x="712" y="54.50" width="24" height="1.05" fill="rgb(240,21,16)"/><rect x="712" y="53.50" width="24" height="1.05" fill="rgb(240,17,16)"/><rect x="712" y="52.50" width="24" height="1.05" fill="rgb(240,16,20)"/><rect x="712" y="51.50" width="24" height="1.05" fill="rgb(240,16,26)"/><rect x="712" y="50.50" width="24" height="1.05" fill="rgb(240,16,33)"/><rect x="712" y="49.50" width="24" height="1.05" fill="rgb(240,16,39)"/><rect x="712" y="48.50" width="24" height="1.05" fill="rgb(240,16,45)"/><rect x="712" y="47.50" width="24" height="1.05" fill="rgb(240,16,52)"/><rect x="712" y="46.50" width="24" height="1.05" fill="rgb(240,16,58)"/><rect x="712" y="45.50" width="24" height="1.05" fill="rgb(240,16,65)"/><rect x="712" y="44.50" width="24" height="1.05" fill="rgb(240,16,71)"/><rect x="712" y="43.50" width="24" height="1.05" fill="rgb(240,16,78)"/><rect x="712" y="42.50" width="24" height="1.05" fill="rgb(240,16,84)"/><rect x="712" y="41.50" width="24" height="1.05" fill="rgb(240,16,90)"/><rect x="712" y="40.50" width="24" height="1.05" fill="rgb(240,16,97)"/><rect x="712" y="39.50" width="24" height="1.05" fill="rgb(240,16,100)"/><rect x="712" y="38.50" width="24" height="1.05" fill="rgb(240,16,104)"/><rect x="712" y="37.50" width="24" height="1.05" fill="rgb(240,16,108)"/><rect x="712" y="36.50" width="24" height="1.05" fill="rgb(240,16,112)"/><rect x="712" y="35.50" width="24" height="1.05" fill="rgb(240,16,116)"/><rect x="712" y="34.50" width="24" height="1.05" fill="rgb(240,16,120)"/><rect x="712" y="33.50" width="24" height="1.05" fill="rgb(240,16,124)"/><rect x="712" y="32.50" width="24" height="1.05" fill="rgb(240,16,128)"/><rect x="712" y="31.50" width="24" height="1.05" fill="rgb(240,16,132)"/><rect x="712" y="30.50" width="24" height="1.05" fill="rgb(240,16,136)"/><rect x="712" y="29.50" width="24" height="1.05" fill="rgb(240,16,140)"/></g><g stroke="#888" stroke-width="1"><line x1="712" y1="270.5" x2="720" y2="270.5"/><line x1="727.5" y1="270.5" x2="735.5" y2="270.5"/></g><g font-size="10.5" fill="#111"><text transform="translate(706 270.6) rotate(-90)" text-anchor="middle">0.0</text><text transform="translate(706 221.6) rotate(-90)" text-anchor="middle">0.2</text><text transform="translate(706 172.6) rotate(-90)" text-anchor="middle">0.4</text><text transform="translate(706 123.6) rotate(-90)" text-anchor="middle">0.6</text><text transform="translate(706 74.6) rotate(-90)" text-anchor="middle">0.8</text><text transform="translate(747 149.6) rotate(-90)" text-anchor="middle" font-size="10.4">Normalized spectral amplitude</text></g>
<text x="356.4" y="14.1" text-anchor="middle" font-size="15.2" textLength="165.5" lengthAdjust="spacingAndGlyphs" fill="#111">S233.2026.108.01.27.C34</text><text transform="translate(15.8 149.6) rotate(-90)" text-anchor="middle" font-size="10.5" fill="#111" stroke="#111" stroke-width="0.15">Frequency (Hz)</text><text transform="translate(15.8 450.2) rotate(-90)" text-anchor="middle" font-size="10.5" fill="#111" stroke="#111" stroke-width="0.15">SNR (10 * v/v)</text>
</svg>
</body></html>
